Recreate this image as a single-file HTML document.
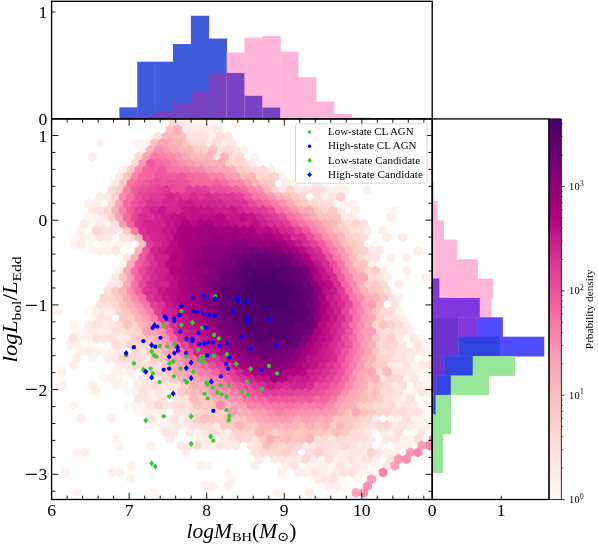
<!DOCTYPE html>
<html><head><meta charset="utf-8"><title>plot</title>
<style>html,body{margin:0;padding:0;background:#fff}svg{display:block}text{font-family:'Liberation Serif','DejaVu Serif',serif;fill:#000}</style></head>
<body><svg width="598" height="545" viewBox="0 0 598 545">
<rect width="598" height="545" fill="#fff"/>
<defs><linearGradient id="cbg" x1="0" y1="0" x2="0" y2="1"><stop offset="0.0000" stop-color="#49006a"/><stop offset="0.0312" stop-color="#54006d"/><stop offset="0.0625" stop-color="#600070"/><stop offset="0.0938" stop-color="#6c0173"/><stop offset="0.1250" stop-color="#790177"/><stop offset="0.1562" stop-color="#860179"/><stop offset="0.1875" stop-color="#93017a"/><stop offset="0.2188" stop-color="#a0017c"/><stop offset="0.2500" stop-color="#ad017e"/><stop offset="0.2812" stop-color="#b90d84"/><stop offset="0.3125" stop-color="#c4198a"/><stop offset="0.3438" stop-color="#d02690"/><stop offset="0.3750" stop-color="#dc3397"/><stop offset="0.4062" stop-color="#e34099"/><stop offset="0.4375" stop-color="#ea4d9c"/><stop offset="0.4688" stop-color="#f05a9e"/><stop offset="0.5000" stop-color="#f767a1"/><stop offset="0.5312" stop-color="#f875a6"/><stop offset="0.5625" stop-color="#f883ab"/><stop offset="0.5938" stop-color="#f991b0"/><stop offset="0.6250" stop-color="#fa9eb5"/><stop offset="0.6562" stop-color="#faa8b8"/><stop offset="0.6875" stop-color="#fbb2ba"/><stop offset="0.7188" stop-color="#fbbbbd"/><stop offset="0.7500" stop-color="#fcc5c0"/><stop offset="0.7812" stop-color="#fcccc7"/><stop offset="0.8125" stop-color="#fcd2ce"/><stop offset="0.8438" stop-color="#fdd9d6"/><stop offset="0.8750" stop-color="#fde0dd"/><stop offset="0.9062" stop-color="#fde6e2"/><stop offset="0.9375" stop-color="#feebe8"/><stop offset="0.9688" stop-color="#fef1ed"/><stop offset="1.0000" stop-color="#fff7f3"/></linearGradient><clipPath id="mc"><rect x="51.60" y="118.90" width="380.60" height="380.60"/></clipPath></defs><rect x="549.00" y="118.90" width="12.30" height="380.60" fill="url(#cbg)" stroke="#000" stroke-width="0.8"/><line x1="561.30" y1="499.50" x2="564.50" y2="499.50" stroke="#000" stroke-width="0.8"/><line x1="561.30" y1="468.10" x2="563.10" y2="468.10" stroke="#000" stroke-width="0.6"/><line x1="561.30" y1="449.74" x2="563.10" y2="449.74" stroke="#000" stroke-width="0.6"/><line x1="561.30" y1="436.71" x2="563.10" y2="436.71" stroke="#000" stroke-width="0.6"/><line x1="561.30" y1="426.60" x2="563.10" y2="426.60" stroke="#000" stroke-width="0.6"/><line x1="561.30" y1="418.34" x2="563.10" y2="418.34" stroke="#000" stroke-width="0.6"/><line x1="561.30" y1="411.36" x2="563.10" y2="411.36" stroke="#000" stroke-width="0.6"/><line x1="561.30" y1="405.31" x2="563.10" y2="405.31" stroke="#000" stroke-width="0.6"/><line x1="561.30" y1="399.97" x2="563.10" y2="399.97" stroke="#000" stroke-width="0.6"/><line x1="561.30" y1="395.20" x2="564.50" y2="395.20" stroke="#000" stroke-width="0.8"/><line x1="561.30" y1="363.80" x2="563.10" y2="363.80" stroke="#000" stroke-width="0.6"/><line x1="561.30" y1="345.44" x2="563.10" y2="345.44" stroke="#000" stroke-width="0.6"/><line x1="561.30" y1="332.41" x2="563.10" y2="332.41" stroke="#000" stroke-width="0.6"/><line x1="561.30" y1="322.30" x2="563.10" y2="322.30" stroke="#000" stroke-width="0.6"/><line x1="561.30" y1="314.04" x2="563.10" y2="314.04" stroke="#000" stroke-width="0.6"/><line x1="561.30" y1="307.06" x2="563.10" y2="307.06" stroke="#000" stroke-width="0.6"/><line x1="561.30" y1="301.01" x2="563.10" y2="301.01" stroke="#000" stroke-width="0.6"/><line x1="561.30" y1="295.67" x2="563.10" y2="295.67" stroke="#000" stroke-width="0.6"/><line x1="561.30" y1="290.90" x2="564.50" y2="290.90" stroke="#000" stroke-width="0.8"/><line x1="561.30" y1="259.50" x2="563.10" y2="259.50" stroke="#000" stroke-width="0.6"/><line x1="561.30" y1="241.14" x2="563.10" y2="241.14" stroke="#000" stroke-width="0.6"/><line x1="561.30" y1="228.11" x2="563.10" y2="228.11" stroke="#000" stroke-width="0.6"/><line x1="561.30" y1="218.00" x2="563.10" y2="218.00" stroke="#000" stroke-width="0.6"/><line x1="561.30" y1="209.74" x2="563.10" y2="209.74" stroke="#000" stroke-width="0.6"/><line x1="561.30" y1="202.76" x2="563.10" y2="202.76" stroke="#000" stroke-width="0.6"/><line x1="561.30" y1="196.71" x2="563.10" y2="196.71" stroke="#000" stroke-width="0.6"/><line x1="561.30" y1="191.37" x2="563.10" y2="191.37" stroke="#000" stroke-width="0.6"/><line x1="561.30" y1="186.60" x2="564.50" y2="186.60" stroke="#000" stroke-width="0.8"/><line x1="561.30" y1="155.20" x2="563.10" y2="155.20" stroke="#000" stroke-width="0.6"/><line x1="561.30" y1="136.84" x2="563.10" y2="136.84" stroke="#000" stroke-width="0.6"/><line x1="561.30" y1="123.81" x2="563.10" y2="123.81" stroke="#000" stroke-width="0.6"/>
<g clip-path="url(#mc)" stroke-width="1.1" stroke-linejoin="round"><path fill="#fff7f3" stroke="#fff7f3" d="M224.3 98.4l3.88 2.24v4.48l-3.88 2.24l-3.88 -2.24v-4.48zM158.4 105.1l3.88 2.24v4.48l-3.88 2.24l-3.88 -2.24v-4.48zM166.2 118.6l3.88 2.24v4.48l-3.88 2.24l-3.88 -2.24v-4.48zM204.9 118.6l3.88 2.24v4.48l-3.88 2.24l-3.88 -2.24v-4.48zM301.8 179.1l3.88 2.24v4.48l-3.88 2.24l-3.88 -2.24v-4.48zM340.5 179.1l3.88 2.24v4.48l-3.88 2.24l-3.88 -2.24v-4.48zM394.8 205.9l3.88 2.24v4.48l-3.88 2.24l-3.88 -2.24v-4.48zM42.2 212.7l3.88 2.24v4.48l-3.88 2.24l-3.88 -2.24v-4.48zM88.7 212.7l3.88 2.24v4.48l-3.88 2.24l-3.88 -2.24v-4.48zM92.5 219.4l3.88 2.24v4.48l-3.88 2.24l-3.88 -2.24v-4.48zM77.0 232.8l3.88 2.24v4.48l-3.88 2.24l-3.88 -2.24v-4.48zM104.2 239.5l3.88 2.24v4.48l-3.88 2.24l-3.88 -2.24v-4.48zM127.4 239.5l3.88 2.24v4.48l-3.88 2.24l-3.88 -2.24v-4.48zM375.4 239.5l3.88 2.24v4.48l-3.88 2.24l-3.88 -2.24v-4.48zM92.5 246.3l3.88 2.24v4.48l-3.88 2.24l-3.88 -2.24v-4.48zM379.3 259.7l3.88 2.24v4.48l-3.88 2.24l-3.88 -2.24v-4.48zM88.7 306.7l3.88 2.24v4.48l-3.88 2.24l-3.88 -2.24v-4.48zM398.6 306.7l3.88 2.24v4.48l-3.88 2.24l-3.88 -2.24v-4.48zM92.5 313.5l3.88 2.24v4.48l-3.88 2.24l-3.88 -2.24v-4.48zM73.2 320.2l3.88 2.24v4.48l-3.88 2.24l-3.88 -2.24v-4.48zM84.8 326.9l3.88 2.24v4.48l-3.88 2.24l-3.88 -2.24v-4.48zM100.3 326.9l3.88 2.24v4.48l-3.88 2.24l-3.88 -2.24v-4.48zM421.9 333.6l3.88 2.24v4.48l-3.88 2.24l-3.88 -2.24v-4.48zM84.8 340.3l3.88 2.24v4.48l-3.88 2.24l-3.88 -2.24v-4.48zM92.5 340.3l3.88 2.24v4.48l-3.88 2.24l-3.88 -2.24v-4.48zM425.8 340.3l3.88 2.24v4.48l-3.88 2.24l-3.88 -2.24v-4.48zM104.2 347.1l3.88 2.24v4.48l-3.88 2.24l-3.88 -2.24v-4.48zM92.5 353.8l3.88 2.24v4.48l-3.88 2.24l-3.88 -2.24v-4.48zM425.8 353.8l3.88 2.24v4.48l-3.88 2.24l-3.88 -2.24v-4.48zM414.1 360.5l3.88 2.24v4.48l-3.88 2.24l-3.88 -2.24v-4.48zM425.8 367.2l3.88 2.24v4.48l-3.88 2.24l-3.88 -2.24v-4.48zM119.7 373.9l3.88 2.24v4.48l-3.88 2.24l-3.88 -2.24v-4.48zM123.5 380.7l3.88 2.24v4.48l-3.88 2.24l-3.88 -2.24v-4.48zM127.4 387.4l3.88 2.24v4.48l-3.88 2.24l-3.88 -2.24v-4.48zM135.2 387.4l3.88 2.24v4.48l-3.88 2.24l-3.88 -2.24v-4.48zM406.4 387.4l3.88 2.24v4.48l-3.88 2.24l-3.88 -2.24v-4.48zM414.1 387.4l3.88 2.24v4.48l-3.88 2.24l-3.88 -2.24v-4.48zM170.0 394.1l3.88 2.24v4.48l-3.88 2.24l-3.88 -2.24v-4.48zM425.8 394.1l3.88 2.24v4.48l-3.88 2.24l-3.88 -2.24v-4.48zM433.5 394.1l3.88 2.24v4.48l-3.88 2.24l-3.88 -2.24v-4.48zM127.4 400.8l3.88 2.24v4.48l-3.88 2.24l-3.88 -2.24v-4.48zM135.2 400.8l3.88 2.24v4.48l-3.88 2.24l-3.88 -2.24v-4.48zM142.9 400.8l3.88 2.24v4.48l-3.88 2.24l-3.88 -2.24v-4.48zM429.6 400.8l3.88 2.24v4.48l-3.88 2.24l-3.88 -2.24v-4.48zM139.0 407.5l3.88 2.24v4.48l-3.88 2.24l-3.88 -2.24v-4.48zM425.8 407.5l3.88 2.24v4.48l-3.88 2.24l-3.88 -2.24v-4.48zM414.1 414.3l3.88 2.24v4.48l-3.88 2.24l-3.88 -2.24v-4.48zM429.6 414.3l3.88 2.24v4.48l-3.88 2.24l-3.88 -2.24v-4.48zM154.5 421.0l3.88 2.24v4.48l-3.88 2.24l-3.88 -2.24v-4.48zM193.3 434.4l3.88 2.24v4.48l-3.88 2.24l-3.88 -2.24v-4.48zM383.1 441.1l3.88 2.24v4.48l-3.88 2.24l-3.88 -2.24v-4.48zM414.1 441.1l3.88 2.24v4.48l-3.88 2.24l-3.88 -2.24v-4.48zM371.5 461.3l3.88 2.24v4.48l-3.88 2.24l-3.88 -2.24v-4.48zM328.9 468.0l3.88 2.24v4.48l-3.88 2.24l-3.88 -2.24v-4.48zM359.9 468.0l3.88 2.24v4.48l-3.88 2.24l-3.88 -2.24v-4.48zM367.6 468.0l3.88 2.24v4.48l-3.88 2.24l-3.88 -2.24v-4.48zM375.4 468.0l3.88 2.24v4.48l-3.88 2.24l-3.88 -2.24v-4.48zM340.5 474.7l3.88 2.24v4.48l-3.88 2.24l-3.88 -2.24v-4.48zM356.0 474.7l3.88 2.24v4.48l-3.88 2.24l-3.88 -2.24v-4.48zM344.4 481.5l3.88 2.24v4.48l-3.88 2.24l-3.88 -2.24v-4.48z"/><path fill="#fff6f2" stroke="#fff6f2" d="M166.2 105.1l3.88 2.24v4.48l-3.88 2.24l-3.88 -2.24v-4.48zM197.2 105.1l3.88 2.24v4.48l-3.88 2.24l-3.88 -2.24v-4.48zM88.7 239.5l3.88 2.24v4.48l-3.88 2.24l-3.88 -2.24v-4.48zM111.9 239.5l3.88 2.24v4.48l-3.88 2.24l-3.88 -2.24v-4.48zM77.0 326.9l3.88 2.24v4.48l-3.88 2.24l-3.88 -2.24v-4.48zM104.2 373.9l3.88 2.24v4.48l-3.88 2.24l-3.88 -2.24v-4.48zM135.2 373.9l3.88 2.24v4.48l-3.88 2.24l-3.88 -2.24v-4.48zM154.5 407.5l3.88 2.24v4.48l-3.88 2.24l-3.88 -2.24v-4.48zM433.5 407.5l3.88 2.24v4.48l-3.88 2.24l-3.88 -2.24v-4.48zM390.9 414.3l3.88 2.24v4.48l-3.88 2.24l-3.88 -2.24v-4.48zM336.6 454.6l3.88 2.24v4.48l-3.88 2.24l-3.88 -2.24v-4.48zM208.8 461.3l3.88 2.24v4.48l-3.88 2.24l-3.88 -2.24v-4.48zM332.8 461.3l3.88 2.24v4.48l-3.88 2.24l-3.88 -2.24v-4.48zM379.3 461.3l3.88 2.24v4.48l-3.88 2.24l-3.88 -2.24v-4.48zM154.5 488.2l3.88 2.24v4.48l-3.88 2.24l-3.88 -2.24v-4.48zM266.9 494.9l3.88 2.24v4.48l-3.88 2.24l-3.88 -2.24v-4.48zM328.9 494.9l3.88 2.24v4.48l-3.88 2.24l-3.88 -2.24v-4.48zM282.4 508.3l3.88 2.24v4.48l-3.88 2.24l-3.88 -2.24v-4.48z"/><path fill="#fff3f0" stroke="#fff3f0" d="M150.7 105.1l3.88 2.24v4.48l-3.88 2.24l-3.88 -2.24v-4.48zM212.7 118.6l3.88 2.24v4.48l-3.88 2.24l-3.88 -2.24v-4.48zM212.7 132.0l3.88 2.24v4.48l-3.88 2.24l-3.88 -2.24v-4.48zM100.3 138.7l3.88 2.24v4.48l-3.88 2.24l-3.88 -2.24v-4.48zM139.0 138.7l3.88 2.24v4.48l-3.88 2.24l-3.88 -2.24v-4.48zM146.8 138.7l3.88 2.24v4.48l-3.88 2.24l-3.88 -2.24v-4.48zM255.3 152.2l3.88 2.24v4.48l-3.88 2.24l-3.88 -2.24v-4.48zM429.6 158.9l3.88 2.24v4.48l-3.88 2.24l-3.88 -2.24v-4.48zM123.5 165.6l3.88 2.24v4.48l-3.88 2.24l-3.88 -2.24v-4.48zM282.4 172.3l3.88 2.24v4.48l-3.88 2.24l-3.88 -2.24v-4.48zM313.4 172.3l3.88 2.24v4.48l-3.88 2.24l-3.88 -2.24v-4.48zM367.6 185.8l3.88 2.24v4.48l-3.88 2.24l-3.88 -2.24v-4.48zM325.0 192.5l3.88 2.24v4.48l-3.88 2.24l-3.88 -2.24v-4.48zM344.4 199.2l3.88 2.24v4.48l-3.88 2.24l-3.88 -2.24v-4.48zM96.4 212.7l3.88 2.24v4.48l-3.88 2.24l-3.88 -2.24v-4.48zM84.8 232.8l3.88 2.24v4.48l-3.88 2.24l-3.88 -2.24v-4.48zM92.5 232.8l3.88 2.24v4.48l-3.88 2.24l-3.88 -2.24v-4.48zM73.2 239.5l3.88 2.24v4.48l-3.88 2.24l-3.88 -2.24v-4.48zM123.5 259.7l3.88 2.24v4.48l-3.88 2.24l-3.88 -2.24v-4.48zM410.3 326.9l3.88 2.24v4.48l-3.88 2.24l-3.88 -2.24v-4.48zM80.9 333.6l3.88 2.24v4.48l-3.88 2.24l-3.88 -2.24v-4.48zM88.7 333.6l3.88 2.24v4.48l-3.88 2.24l-3.88 -2.24v-4.48zM123.5 367.2l3.88 2.24v4.48l-3.88 2.24l-3.88 -2.24v-4.48zM418.0 367.2l3.88 2.24v4.48l-3.88 2.24l-3.88 -2.24v-4.48zM429.6 373.9l3.88 2.24v4.48l-3.88 2.24l-3.88 -2.24v-4.48zM425.8 380.7l3.88 2.24v4.48l-3.88 2.24l-3.88 -2.24v-4.48zM166.2 387.4l3.88 2.24v4.48l-3.88 2.24l-3.88 -2.24v-4.48zM158.4 414.3l3.88 2.24v4.48l-3.88 2.24l-3.88 -2.24v-4.48zM166.2 414.3l3.88 2.24v4.48l-3.88 2.24l-3.88 -2.24v-4.48zM421.9 414.3l3.88 2.24v4.48l-3.88 2.24l-3.88 -2.24v-4.48zM418.0 421.0l3.88 2.24v4.48l-3.88 2.24l-3.88 -2.24v-4.48zM197.2 427.7l3.88 2.24v4.48l-3.88 2.24l-3.88 -2.24v-4.48zM119.7 441.1l3.88 2.24v4.48l-3.88 2.24l-3.88 -2.24v-4.48zM212.7 441.1l3.88 2.24v4.48l-3.88 2.24l-3.88 -2.24v-4.48zM398.6 441.1l3.88 2.24v4.48l-3.88 2.24l-3.88 -2.24v-4.48zM321.1 454.6l3.88 2.24v4.48l-3.88 2.24l-3.88 -2.24v-4.48zM309.5 461.3l3.88 2.24v4.48l-3.88 2.24l-3.88 -2.24v-4.48zM228.2 468.0l3.88 2.24v4.48l-3.88 2.24l-3.88 -2.24v-4.48zM282.4 468.0l3.88 2.24v4.48l-3.88 2.24l-3.88 -2.24v-4.48zM232.0 474.7l3.88 2.24v4.48l-3.88 2.24l-3.88 -2.24v-4.48zM332.8 501.6l3.88 2.24v4.48l-3.88 2.24l-3.88 -2.24v-4.48z"/><path fill="#fef1ed" stroke="#fef1ed" d="M208.8 98.4l3.88 2.24v4.48l-3.88 2.24l-3.88 -2.24v-4.48zM170.0 111.9l3.88 2.24v4.48l-3.88 2.24l-3.88 -2.24v-4.48zM177.8 111.9l3.88 2.24v4.48l-3.88 2.24l-3.88 -2.24v-4.48zM185.5 111.9l3.88 2.24v4.48l-3.88 2.24l-3.88 -2.24v-4.48zM193.3 111.9l3.88 2.24v4.48l-3.88 2.24l-3.88 -2.24v-4.48zM235.9 118.6l3.88 2.24v4.48l-3.88 2.24l-3.88 -2.24v-4.48zM142.9 145.5l3.88 2.24v4.48l-3.88 2.24l-3.88 -2.24v-4.48zM243.7 145.5l3.88 2.24v4.48l-3.88 2.24l-3.88 -2.24v-4.48zM92.5 152.2l3.88 2.24v4.48l-3.88 2.24l-3.88 -2.24v-4.48zM348.3 165.6l3.88 2.24v4.48l-3.88 2.24l-3.88 -2.24v-4.48zM336.6 185.8l3.88 2.24v4.48l-3.88 2.24l-3.88 -2.24v-4.48zM88.7 199.2l3.88 2.24v4.48l-3.88 2.24l-3.88 -2.24v-4.48zM352.1 199.2l3.88 2.24v4.48l-3.88 2.24l-3.88 -2.24v-4.48zM108.0 219.4l3.88 2.24v4.48l-3.88 2.24l-3.88 -2.24v-4.48zM383.1 226.1l3.88 2.24v4.48l-3.88 2.24l-3.88 -2.24v-4.48zM108.0 246.3l3.88 2.24v4.48l-3.88 2.24l-3.88 -2.24v-4.48zM371.5 259.7l3.88 2.24v4.48l-3.88 2.24l-3.88 -2.24v-4.48zM119.7 266.4l3.88 2.24v4.48l-3.88 2.24l-3.88 -2.24v-4.48zM387.0 273.1l3.88 2.24v4.48l-3.88 2.24l-3.88 -2.24v-4.48zM398.6 293.3l3.88 2.24v4.48l-3.88 2.24l-3.88 -2.24v-4.48zM34.4 306.7l3.88 2.24v4.48l-3.88 2.24l-3.88 -2.24v-4.48zM406.4 320.2l3.88 2.24v4.48l-3.88 2.24l-3.88 -2.24v-4.48zM77.0 340.3l3.88 2.24v4.48l-3.88 2.24l-3.88 -2.24v-4.48zM429.6 347.1l3.88 2.24v4.48l-3.88 2.24l-3.88 -2.24v-4.48zM398.6 360.5l3.88 2.24v4.48l-3.88 2.24l-3.88 -2.24v-4.48zM61.5 367.2l3.88 2.24v4.48l-3.88 2.24l-3.88 -2.24v-4.48zM115.8 367.2l3.88 2.24v4.48l-3.88 2.24l-3.88 -2.24v-4.48zM406.4 373.9l3.88 2.24v4.48l-3.88 2.24l-3.88 -2.24v-4.48zM61.5 380.7l3.88 2.24v4.48l-3.88 2.24l-3.88 -2.24v-4.48zM115.8 380.7l3.88 2.24v4.48l-3.88 2.24l-3.88 -2.24v-4.48zM96.4 387.4l3.88 2.24v4.48l-3.88 2.24l-3.88 -2.24v-4.48zM150.7 387.4l3.88 2.24v4.48l-3.88 2.24l-3.88 -2.24v-4.48zM402.5 394.1l3.88 2.24v4.48l-3.88 2.24l-3.88 -2.24v-4.48zM73.2 400.8l3.88 2.24v4.48l-3.88 2.24l-3.88 -2.24v-4.48zM414.1 400.8l3.88 2.24v4.48l-3.88 2.24l-3.88 -2.24v-4.48zM80.9 414.3l3.88 2.24v4.48l-3.88 2.24l-3.88 -2.24v-4.48zM398.6 414.3l3.88 2.24v4.48l-3.88 2.24l-3.88 -2.24v-4.48zM162.3 421.0l3.88 2.24v4.48l-3.88 2.24l-3.88 -2.24v-4.48zM170.0 421.0l3.88 2.24v4.48l-3.88 2.24l-3.88 -2.24v-4.48zM390.9 427.7l3.88 2.24v4.48l-3.88 2.24l-3.88 -2.24v-4.48zM115.8 434.4l3.88 2.24v4.48l-3.88 2.24l-3.88 -2.24v-4.48zM216.5 434.4l3.88 2.24v4.48l-3.88 2.24l-3.88 -2.24v-4.48zM402.5 434.4l3.88 2.24v4.48l-3.88 2.24l-3.88 -2.24v-4.48zM410.3 434.4l3.88 2.24v4.48l-3.88 2.24l-3.88 -2.24v-4.48zM425.8 434.4l3.88 2.24v4.48l-3.88 2.24l-3.88 -2.24v-4.48zM150.7 441.1l3.88 2.24v4.48l-3.88 2.24l-3.88 -2.24v-4.48zM204.9 441.1l3.88 2.24v4.48l-3.88 2.24l-3.88 -2.24v-4.48zM406.4 441.1l3.88 2.24v4.48l-3.88 2.24l-3.88 -2.24v-4.48zM363.8 447.9l3.88 2.24v4.48l-3.88 2.24l-3.88 -2.24v-4.48zM387.0 447.9l3.88 2.24v4.48l-3.88 2.24l-3.88 -2.24v-4.48zM359.9 454.6l3.88 2.24v4.48l-3.88 2.24l-3.88 -2.24v-4.48zM201.0 461.3l3.88 2.24v4.48l-3.88 2.24l-3.88 -2.24v-4.48zM255.3 461.3l3.88 2.24v4.48l-3.88 2.24l-3.88 -2.24v-4.48zM317.3 461.3l3.88 2.24v4.48l-3.88 2.24l-3.88 -2.24v-4.48zM325.0 461.3l3.88 2.24v4.48l-3.88 2.24l-3.88 -2.24v-4.48zM348.3 461.3l3.88 2.24v4.48l-3.88 2.24l-3.88 -2.24v-4.48zM321.1 468.0l3.88 2.24v4.48l-3.88 2.24l-3.88 -2.24v-4.48zM212.7 481.5l3.88 2.24v4.48l-3.88 2.24l-3.88 -2.24v-4.48zM336.6 481.5l3.88 2.24v4.48l-3.88 2.24l-3.88 -2.24v-4.48zM278.5 488.2l3.88 2.24v4.48l-3.88 2.24l-3.88 -2.24v-4.48zM65.4 468.0l3.88 2.24v4.48l-3.88 2.24l-3.88 -2.24v-4.48zM77.0 488.2l3.88 2.24v4.48l-3.88 2.24l-3.88 -2.24v-4.48zM111.9 468.0l3.88 2.24v4.48l-3.88 2.24l-3.88 -2.24v-4.48zM119.7 468.0l3.88 2.24v4.48l-3.88 2.24l-3.88 -2.24v-4.48zM77.0 447.9l3.88 2.24v4.48l-3.88 2.24l-3.88 -2.24v-4.48zM84.8 447.9l3.88 2.24v4.48l-3.88 2.24l-3.88 -2.24v-4.48zM131.3 461.3l3.88 2.24v4.48l-3.88 2.24l-3.88 -2.24v-4.48zM131.3 474.7l3.88 2.24v4.48l-3.88 2.24l-3.88 -2.24v-4.48z"/><path fill="#fef0ec" stroke="#fef0ec" d="M154.5 98.4l3.88 2.24v4.48l-3.88 2.24l-3.88 -2.24v-4.48zM208.8 111.9l3.88 2.24v4.48l-3.88 2.24l-3.88 -2.24v-4.48zM197.2 118.6l3.88 2.24v4.48l-3.88 2.24l-3.88 -2.24v-4.48zM208.8 125.3l3.88 2.24v4.48l-3.88 2.24l-3.88 -2.24v-4.48zM294.0 179.1l3.88 2.24v4.48l-3.88 2.24l-3.88 -2.24v-4.48zM328.9 185.8l3.88 2.24v4.48l-3.88 2.24l-3.88 -2.24v-4.48zM344.4 185.8l3.88 2.24v4.48l-3.88 2.24l-3.88 -2.24v-4.48zM96.4 199.2l3.88 2.24v4.48l-3.88 2.24l-3.88 -2.24v-4.48zM80.9 226.1l3.88 2.24v4.48l-3.88 2.24l-3.88 -2.24v-4.48zM367.6 226.1l3.88 2.24v4.48l-3.88 2.24l-3.88 -2.24v-4.48zM119.7 239.5l3.88 2.24v4.48l-3.88 2.24l-3.88 -2.24v-4.48zM100.3 246.3l3.88 2.24v4.48l-3.88 2.24l-3.88 -2.24v-4.48zM390.9 253.0l3.88 2.24v4.48l-3.88 2.24l-3.88 -2.24v-4.48zM406.4 253.0l3.88 2.24v4.48l-3.88 2.24l-3.88 -2.24v-4.48zM441.3 259.7l3.88 2.24v4.48l-3.88 2.24l-3.88 -2.24v-4.48zM406.4 266.4l3.88 2.24v4.48l-3.88 2.24l-3.88 -2.24v-4.48zM57.7 306.7l3.88 2.24v4.48l-3.88 2.24l-3.88 -2.24v-4.48zM96.4 306.7l3.88 2.24v4.48l-3.88 2.24l-3.88 -2.24v-4.48zM402.5 313.5l3.88 2.24v4.48l-3.88 2.24l-3.88 -2.24v-4.48zM80.9 347.1l3.88 2.24v4.48l-3.88 2.24l-3.88 -2.24v-4.48zM96.4 347.1l3.88 2.24v4.48l-3.88 2.24l-3.88 -2.24v-4.48zM111.9 347.1l3.88 2.24v4.48l-3.88 2.24l-3.88 -2.24v-4.48zM73.2 360.5l3.88 2.24v4.48l-3.88 2.24l-3.88 -2.24v-4.48zM111.9 373.9l3.88 2.24v4.48l-3.88 2.24l-3.88 -2.24v-4.48zM429.6 387.4l3.88 2.24v4.48l-3.88 2.24l-3.88 -2.24v-4.48zM146.8 407.5l3.88 2.24v4.48l-3.88 2.24l-3.88 -2.24v-4.48zM111.9 414.3l3.88 2.24v4.48l-3.88 2.24l-3.88 -2.24v-4.48zM181.7 414.3l3.88 2.24v4.48l-3.88 2.24l-3.88 -2.24v-4.48zM375.4 414.3l3.88 2.24v4.48l-3.88 2.24l-3.88 -2.24v-4.48zM425.8 421.0l3.88 2.24v4.48l-3.88 2.24l-3.88 -2.24v-4.48zM170.0 434.4l3.88 2.24v4.48l-3.88 2.24l-3.88 -2.24v-4.48zM201.0 434.4l3.88 2.24v4.48l-3.88 2.24l-3.88 -2.24v-4.48zM340.5 447.9l3.88 2.24v4.48l-3.88 2.24l-3.88 -2.24v-4.48zM348.3 447.9l3.88 2.24v4.48l-3.88 2.24l-3.88 -2.24v-4.48zM394.8 447.9l3.88 2.24v4.48l-3.88 2.24l-3.88 -2.24v-4.48zM363.8 461.3l3.88 2.24v4.48l-3.88 2.24l-3.88 -2.24v-4.48zM297.9 468.0l3.88 2.24v4.48l-3.88 2.24l-3.88 -2.24v-4.48zM42.2 481.5l3.88 2.24v4.48l-3.88 2.24l-3.88 -2.24v-4.48zM204.9 481.5l3.88 2.24v4.48l-3.88 2.24l-3.88 -2.24v-4.48zM228.2 481.5l3.88 2.24v4.48l-3.88 2.24l-3.88 -2.24v-4.48zM216.5 501.6l3.88 2.24v4.48l-3.88 2.24l-3.88 -2.24v-4.48zM309.5 501.6l3.88 2.24v4.48l-3.88 2.24l-3.88 -2.24v-4.48z"/><path fill="#feeeea" stroke="#feeeea" d="M197.2 91.7l3.88 2.24v4.48l-3.88 2.24l-3.88 -2.24v-4.48zM181.7 105.1l3.88 2.24v4.48l-3.88 2.24l-3.88 -2.24v-4.48zM220.4 105.1l3.88 2.24v4.48l-3.88 2.24l-3.88 -2.24v-4.48zM162.3 111.9l3.88 2.24v4.48l-3.88 2.24l-3.88 -2.24v-4.48zM189.4 118.6l3.88 2.24v4.48l-3.88 2.24l-3.88 -2.24v-4.48zM185.5 125.3l3.88 2.24v4.48l-3.88 2.24l-3.88 -2.24v-4.48zM208.8 138.7l3.88 2.24v4.48l-3.88 2.24l-3.88 -2.24v-4.48zM224.3 138.7l3.88 2.24v4.48l-3.88 2.24l-3.88 -2.24v-4.48zM251.4 158.9l3.88 2.24v4.48l-3.88 2.24l-3.88 -2.24v-4.48zM108.0 192.5l3.88 2.24v4.48l-3.88 2.24l-3.88 -2.24v-4.48zM356.0 205.9l3.88 2.24v4.48l-3.88 2.24l-3.88 -2.24v-4.48zM344.4 212.7l3.88 2.24v4.48l-3.88 2.24l-3.88 -2.24v-4.48zM390.9 212.7l3.88 2.24v4.48l-3.88 2.24l-3.88 -2.24v-4.48zM119.7 226.1l3.88 2.24v4.48l-3.88 2.24l-3.88 -2.24v-4.48zM418.0 246.3l3.88 2.24v4.48l-3.88 2.24l-3.88 -2.24v-4.48zM425.8 273.1l3.88 2.24v4.48l-3.88 2.24l-3.88 -2.24v-4.48zM88.7 320.2l3.88 2.24v4.48l-3.88 2.24l-3.88 -2.24v-4.48zM69.3 340.3l3.88 2.24v4.48l-3.88 2.24l-3.88 -2.24v-4.48zM77.0 353.8l3.88 2.24v4.48l-3.88 2.24l-3.88 -2.24v-4.48zM108.0 353.8l3.88 2.24v4.48l-3.88 2.24l-3.88 -2.24v-4.48zM146.8 353.8l3.88 2.24v4.48l-3.88 2.24l-3.88 -2.24v-4.48zM410.3 353.8l3.88 2.24v4.48l-3.88 2.24l-3.88 -2.24v-4.48zM131.3 367.2l3.88 2.24v4.48l-3.88 2.24l-3.88 -2.24v-4.48zM410.3 367.2l3.88 2.24v4.48l-3.88 2.24l-3.88 -2.24v-4.48zM92.5 380.7l3.88 2.24v4.48l-3.88 2.24l-3.88 -2.24v-4.48zM139.0 380.7l3.88 2.24v4.48l-3.88 2.24l-3.88 -2.24v-4.48zM154.5 394.1l3.88 2.24v4.48l-3.88 2.24l-3.88 -2.24v-4.48zM185.5 421.0l3.88 2.24v4.48l-3.88 2.24l-3.88 -2.24v-4.48zM433.5 421.0l3.88 2.24v4.48l-3.88 2.24l-3.88 -2.24v-4.48zM228.2 427.7l3.88 2.24v4.48l-3.88 2.24l-3.88 -2.24v-4.48zM224.3 434.4l3.88 2.24v4.48l-3.88 2.24l-3.88 -2.24v-4.48zM185.5 447.9l3.88 2.24v4.48l-3.88 2.24l-3.88 -2.24v-4.48zM290.1 454.6l3.88 2.24v4.48l-3.88 2.24l-3.88 -2.24v-4.48zM375.4 454.6l3.88 2.24v4.48l-3.88 2.24l-3.88 -2.24v-4.48zM286.3 461.3l3.88 2.24v4.48l-3.88 2.24l-3.88 -2.24v-4.48zM305.6 468.0l3.88 2.24v4.48l-3.88 2.24l-3.88 -2.24v-4.48zM317.3 474.7l3.88 2.24v4.48l-3.88 2.24l-3.88 -2.24v-4.48zM328.9 481.5l3.88 2.24v4.48l-3.88 2.24l-3.88 -2.24v-4.48zM309.5 488.2l3.88 2.24v4.48l-3.88 2.24l-3.88 -2.24v-4.48zM123.5 501.6l3.88 2.24v4.48l-3.88 2.24l-3.88 -2.24v-4.48zM224.3 501.6l3.88 2.24v4.48l-3.88 2.24l-3.88 -2.24v-4.48z"/><path fill="#feebe8" stroke="#feebe8" d="M201.0 125.3l3.88 2.24v4.48l-3.88 2.24l-3.88 -2.24v-4.48zM297.9 185.8l3.88 2.24v4.48l-3.88 2.24l-3.88 -2.24v-4.48zM104.2 212.7l3.88 2.24v4.48l-3.88 2.24l-3.88 -2.24v-4.48zM84.8 219.4l3.88 2.24v4.48l-3.88 2.24l-3.88 -2.24v-4.48zM100.3 219.4l3.88 2.24v4.48l-3.88 2.24l-3.88 -2.24v-4.48zM387.0 232.8l3.88 2.24v4.48l-3.88 2.24l-3.88 -2.24v-4.48zM402.5 232.8l3.88 2.24v4.48l-3.88 2.24l-3.88 -2.24v-4.48zM80.9 239.5l3.88 2.24v4.48l-3.88 2.24l-3.88 -2.24v-4.48zM371.5 246.3l3.88 2.24v4.48l-3.88 2.24l-3.88 -2.24v-4.48zM379.3 246.3l3.88 2.24v4.48l-3.88 2.24l-3.88 -2.24v-4.48zM115.8 273.1l3.88 2.24v4.48l-3.88 2.24l-3.88 -2.24v-4.48zM398.6 279.9l3.88 2.24v4.48l-3.88 2.24l-3.88 -2.24v-4.48zM104.2 306.7l3.88 2.24v4.48l-3.88 2.24l-3.88 -2.24v-4.48zM111.9 306.7l3.88 2.24v4.48l-3.88 2.24l-3.88 -2.24v-4.48zM119.7 333.6l3.88 2.24v4.48l-3.88 2.24l-3.88 -2.24v-4.48zM123.5 340.3l3.88 2.24v4.48l-3.88 2.24l-3.88 -2.24v-4.48zM88.7 347.1l3.88 2.24v4.48l-3.88 2.24l-3.88 -2.24v-4.48zM390.9 360.5l3.88 2.24v4.48l-3.88 2.24l-3.88 -2.24v-4.48zM142.9 373.9l3.88 2.24v4.48l-3.88 2.24l-3.88 -2.24v-4.48zM150.7 373.9l3.88 2.24v4.48l-3.88 2.24l-3.88 -2.24v-4.48zM398.6 400.8l3.88 2.24v4.48l-3.88 2.24l-3.88 -2.24v-4.48zM177.8 421.0l3.88 2.24v4.48l-3.88 2.24l-3.88 -2.24v-4.48zM410.3 421.0l3.88 2.24v4.48l-3.88 2.24l-3.88 -2.24v-4.48zM173.9 427.7l3.88 2.24v4.48l-3.88 2.24l-3.88 -2.24v-4.48zM189.4 427.7l3.88 2.24v4.48l-3.88 2.24l-3.88 -2.24v-4.48zM305.6 441.1l3.88 2.24v4.48l-3.88 2.24l-3.88 -2.24v-4.48zM359.9 441.1l3.88 2.24v4.48l-3.88 2.24l-3.88 -2.24v-4.48zM379.3 447.9l3.88 2.24v4.48l-3.88 2.24l-3.88 -2.24v-4.48zM259.1 454.6l3.88 2.24v4.48l-3.88 2.24l-3.88 -2.24v-4.48zM313.4 454.6l3.88 2.24v4.48l-3.88 2.24l-3.88 -2.24v-4.48zM344.4 454.6l3.88 2.24v4.48l-3.88 2.24l-3.88 -2.24v-4.48zM387.0 461.3l3.88 2.24v4.48l-3.88 2.24l-3.88 -2.24v-4.48z"/><path fill="#feeae7" stroke="#feeae7" d="M193.3 125.3l3.88 2.24v4.48l-3.88 2.24l-3.88 -2.24v-4.48zM270.8 165.6l3.88 2.24v4.48l-3.88 2.24l-3.88 -2.24v-4.48zM119.7 172.3l3.88 2.24v4.48l-3.88 2.24l-3.88 -2.24v-4.48zM115.8 179.1l3.88 2.24v4.48l-3.88 2.24l-3.88 -2.24v-4.48zM286.3 179.1l3.88 2.24v4.48l-3.88 2.24l-3.88 -2.24v-4.48zM100.3 192.5l3.88 2.24v4.48l-3.88 2.24l-3.88 -2.24v-4.48zM92.5 205.9l3.88 2.24v4.48l-3.88 2.24l-3.88 -2.24v-4.48zM383.1 266.4l3.88 2.24v4.48l-3.88 2.24l-3.88 -2.24v-4.48zM104.2 320.2l3.88 2.24v4.48l-3.88 2.24l-3.88 -2.24v-4.48zM92.5 326.9l3.88 2.24v4.48l-3.88 2.24l-3.88 -2.24v-4.48zM108.0 326.9l3.88 2.24v4.48l-3.88 2.24l-3.88 -2.24v-4.48zM398.6 333.6l3.88 2.24v4.48l-3.88 2.24l-3.88 -2.24v-4.48zM402.5 340.3l3.88 2.24v4.48l-3.88 2.24l-3.88 -2.24v-4.48zM421.9 347.1l3.88 2.24v4.48l-3.88 2.24l-3.88 -2.24v-4.48zM119.7 360.5l3.88 2.24v4.48l-3.88 2.24l-3.88 -2.24v-4.48zM421.9 360.5l3.88 2.24v4.48l-3.88 2.24l-3.88 -2.24v-4.48zM394.8 380.7l3.88 2.24v4.48l-3.88 2.24l-3.88 -2.24v-4.48zM162.3 407.5l3.88 2.24v4.48l-3.88 2.24l-3.88 -2.24v-4.48zM394.8 421.0l3.88 2.24v4.48l-3.88 2.24l-3.88 -2.24v-4.48zM383.1 427.7l3.88 2.24v4.48l-3.88 2.24l-3.88 -2.24v-4.48zM208.8 434.4l3.88 2.24v4.48l-3.88 2.24l-3.88 -2.24v-4.48zM371.5 434.4l3.88 2.24v4.48l-3.88 2.24l-3.88 -2.24v-4.48zM235.9 441.1l3.88 2.24v4.48l-3.88 2.24l-3.88 -2.24v-4.48zM274.6 454.6l3.88 2.24v4.48l-3.88 2.24l-3.88 -2.24v-4.48zM356.0 461.3l3.88 2.24v4.48l-3.88 2.24l-3.88 -2.24v-4.48zM313.4 468.0l3.88 2.24v4.48l-3.88 2.24l-3.88 -2.24v-4.48zM336.6 468.0l3.88 2.24v4.48l-3.88 2.24l-3.88 -2.24v-4.48z"/><path fill="#fee8e5" stroke="#fee8e5" d="M181.7 118.6l3.88 2.24v4.48l-3.88 2.24l-3.88 -2.24v-4.48zM216.5 125.3l3.88 2.24v4.48l-3.88 2.24l-3.88 -2.24v-4.48zM204.9 132.0l3.88 2.24v4.48l-3.88 2.24l-3.88 -2.24v-4.48zM228.2 132.0l3.88 2.24v4.48l-3.88 2.24l-3.88 -2.24v-4.48zM232.0 138.7l3.88 2.24v4.48l-3.88 2.24l-3.88 -2.24v-4.48zM317.3 179.1l3.88 2.24v4.48l-3.88 2.24l-3.88 -2.24v-4.48zM340.5 205.9l3.88 2.24v4.48l-3.88 2.24l-3.88 -2.24v-4.48zM352.1 212.7l3.88 2.24v4.48l-3.88 2.24l-3.88 -2.24v-4.48zM108.0 232.8l3.88 2.24v4.48l-3.88 2.24l-3.88 -2.24v-4.48zM123.5 232.8l3.88 2.24v4.48l-3.88 2.24l-3.88 -2.24v-4.48zM111.9 279.9l3.88 2.24v4.48l-3.88 2.24l-3.88 -2.24v-4.48zM108.0 313.5l3.88 2.24v4.48l-3.88 2.24l-3.88 -2.24v-4.48zM104.2 333.6l3.88 2.24v4.48l-3.88 2.24l-3.88 -2.24v-4.48zM127.4 333.6l3.88 2.24v4.48l-3.88 2.24l-3.88 -2.24v-4.48zM414.1 333.6l3.88 2.24v4.48l-3.88 2.24l-3.88 -2.24v-4.48zM418.0 340.3l3.88 2.24v4.48l-3.88 2.24l-3.88 -2.24v-4.48zM119.7 347.1l3.88 2.24v4.48l-3.88 2.24l-3.88 -2.24v-4.48zM142.9 347.1l3.88 2.24v4.48l-3.88 2.24l-3.88 -2.24v-4.48zM414.1 347.1l3.88 2.24v4.48l-3.88 2.24l-3.88 -2.24v-4.48zM115.8 353.8l3.88 2.24v4.48l-3.88 2.24l-3.88 -2.24v-4.48zM127.4 360.5l3.88 2.24v4.48l-3.88 2.24l-3.88 -2.24v-4.48zM414.1 373.9l3.88 2.24v4.48l-3.88 2.24l-3.88 -2.24v-4.48zM162.3 380.7l3.88 2.24v4.48l-3.88 2.24l-3.88 -2.24v-4.48zM170.0 380.7l3.88 2.24v4.48l-3.88 2.24l-3.88 -2.24v-4.48zM418.0 380.7l3.88 2.24v4.48l-3.88 2.24l-3.88 -2.24v-4.48zM173.9 387.4l3.88 2.24v4.48l-3.88 2.24l-3.88 -2.24v-4.48zM146.8 394.1l3.88 2.24v4.48l-3.88 2.24l-3.88 -2.24v-4.48zM394.8 394.1l3.88 2.24v4.48l-3.88 2.24l-3.88 -2.24v-4.48zM185.5 407.5l3.88 2.24v4.48l-3.88 2.24l-3.88 -2.24v-4.48zM216.5 421.0l3.88 2.24v4.48l-3.88 2.24l-3.88 -2.24v-4.48zM220.4 427.7l3.88 2.24v4.48l-3.88 2.24l-3.88 -2.24v-4.48zM367.6 427.7l3.88 2.24v4.48l-3.88 2.24l-3.88 -2.24v-4.48zM421.9 427.7l3.88 2.24v4.48l-3.88 2.24l-3.88 -2.24v-4.48zM181.7 441.1l3.88 2.24v4.48l-3.88 2.24l-3.88 -2.24v-4.48zM189.4 441.1l3.88 2.24v4.48l-3.88 2.24l-3.88 -2.24v-4.48zM228.2 441.1l3.88 2.24v4.48l-3.88 2.24l-3.88 -2.24v-4.48zM313.4 441.1l3.88 2.24v4.48l-3.88 2.24l-3.88 -2.24v-4.48zM367.6 441.1l3.88 2.24v4.48l-3.88 2.24l-3.88 -2.24v-4.48zM325.0 474.7l3.88 2.24v4.48l-3.88 2.24l-3.88 -2.24v-4.48z"/><path fill="#fde6e2" stroke="#fde6e2" d="M235.9 145.5l3.88 2.24v4.48l-3.88 2.24l-3.88 -2.24v-4.48zM216.5 152.2l3.88 2.24v4.48l-3.88 2.24l-3.88 -2.24v-4.48zM332.8 192.5l3.88 2.24v4.48l-3.88 2.24l-3.88 -2.24v-4.48zM115.8 246.3l3.88 2.24v4.48l-3.88 2.24l-3.88 -2.24v-4.48zM127.4 253.0l3.88 2.24v4.48l-3.88 2.24l-3.88 -2.24v-4.48zM375.4 253.0l3.88 2.24v4.48l-3.88 2.24l-3.88 -2.24v-4.48zM119.7 279.9l3.88 2.24v4.48l-3.88 2.24l-3.88 -2.24v-4.48zM390.9 293.3l3.88 2.24v4.48l-3.88 2.24l-3.88 -2.24v-4.48zM394.8 300.0l3.88 2.24v4.48l-3.88 2.24l-3.88 -2.24v-4.48zM394.8 313.5l3.88 2.24v4.48l-3.88 2.24l-3.88 -2.24v-4.48zM111.9 320.2l3.88 2.24v4.48l-3.88 2.24l-3.88 -2.24v-4.48zM387.0 326.9l3.88 2.24v4.48l-3.88 2.24l-3.88 -2.24v-4.48zM406.4 347.1l3.88 2.24v4.48l-3.88 2.24l-3.88 -2.24v-4.48zM394.8 367.2l3.88 2.24v4.48l-3.88 2.24l-3.88 -2.24v-4.48zM158.4 373.9l3.88 2.24v4.48l-3.88 2.24l-3.88 -2.24v-4.48zM383.1 373.9l3.88 2.24v4.48l-3.88 2.24l-3.88 -2.24v-4.48zM146.8 380.7l3.88 2.24v4.48l-3.88 2.24l-3.88 -2.24v-4.48zM158.4 387.4l3.88 2.24v4.48l-3.88 2.24l-3.88 -2.24v-4.48zM421.9 387.4l3.88 2.24v4.48l-3.88 2.24l-3.88 -2.24v-4.48zM177.8 394.1l3.88 2.24v4.48l-3.88 2.24l-3.88 -2.24v-4.48zM410.3 394.1l3.88 2.24v4.48l-3.88 2.24l-3.88 -2.24v-4.48zM150.7 400.8l3.88 2.24v4.48l-3.88 2.24l-3.88 -2.24v-4.48zM166.2 400.8l3.88 2.24v4.48l-3.88 2.24l-3.88 -2.24v-4.48zM406.4 400.8l3.88 2.24v4.48l-3.88 2.24l-3.88 -2.24v-4.48zM166.2 427.7l3.88 2.24v4.48l-3.88 2.24l-3.88 -2.24v-4.48zM204.9 427.7l3.88 2.24v4.48l-3.88 2.24l-3.88 -2.24v-4.48zM232.0 434.4l3.88 2.24v4.48l-3.88 2.24l-3.88 -2.24v-4.48zM332.8 434.4l3.88 2.24v4.48l-3.88 2.24l-3.88 -2.24v-4.48zM387.0 434.4l3.88 2.24v4.48l-3.88 2.24l-3.88 -2.24v-4.48zM220.4 441.1l3.88 2.24v4.48l-3.88 2.24l-3.88 -2.24v-4.48zM251.4 441.1l3.88 2.24v4.48l-3.88 2.24l-3.88 -2.24v-4.48zM336.6 441.1l3.88 2.24v4.48l-3.88 2.24l-3.88 -2.24v-4.48zM282.4 454.6l3.88 2.24v4.48l-3.88 2.24l-3.88 -2.24v-4.48zM297.9 454.6l3.88 2.24v4.48l-3.88 2.24l-3.88 -2.24v-4.48zM352.1 454.6l3.88 2.24v4.48l-3.88 2.24l-3.88 -2.24v-4.48zM390.9 454.6l3.88 2.24v4.48l-3.88 2.24l-3.88 -2.24v-4.48zM344.4 468.0l3.88 2.24v4.48l-3.88 2.24l-3.88 -2.24v-4.48z"/><path fill="#fde4e1" stroke="#fde4e1" d="M282.4 185.8l3.88 2.24v4.48l-3.88 2.24l-3.88 -2.24v-4.48zM305.6 185.8l3.88 2.24v4.48l-3.88 2.24l-3.88 -2.24v-4.48zM100.3 232.8l3.88 2.24v4.48l-3.88 2.24l-3.88 -2.24v-4.48zM108.0 300.0l3.88 2.24v4.48l-3.88 2.24l-3.88 -2.24v-4.48zM100.3 313.5l3.88 2.24v4.48l-3.88 2.24l-3.88 -2.24v-4.48zM123.5 326.9l3.88 2.24v4.48l-3.88 2.24l-3.88 -2.24v-4.48zM394.8 326.9l3.88 2.24v4.48l-3.88 2.24l-3.88 -2.24v-4.48zM402.5 326.9l3.88 2.24v4.48l-3.88 2.24l-3.88 -2.24v-4.48zM73.2 333.6l3.88 2.24v4.48l-3.88 2.24l-3.88 -2.24v-4.48zM398.6 347.1l3.88 2.24v4.48l-3.88 2.24l-3.88 -2.24v-4.48zM394.8 353.8l3.88 2.24v4.48l-3.88 2.24l-3.88 -2.24v-4.48zM406.4 360.5l3.88 2.24v4.48l-3.88 2.24l-3.88 -2.24v-4.48zM429.6 360.5l3.88 2.24v4.48l-3.88 2.24l-3.88 -2.24v-4.48zM402.5 367.2l3.88 2.24v4.48l-3.88 2.24l-3.88 -2.24v-4.48zM177.8 380.7l3.88 2.24v4.48l-3.88 2.24l-3.88 -2.24v-4.48zM139.0 394.1l3.88 2.24v4.48l-3.88 2.24l-3.88 -2.24v-4.48zM162.3 394.1l3.88 2.24v4.48l-3.88 2.24l-3.88 -2.24v-4.48zM185.5 394.1l3.88 2.24v4.48l-3.88 2.24l-3.88 -2.24v-4.48zM352.1 441.1l3.88 2.24v4.48l-3.88 2.24l-3.88 -2.24v-4.48zM255.3 447.9l3.88 2.24v4.48l-3.88 2.24l-3.88 -2.24v-4.48zM332.8 447.9l3.88 2.24v4.48l-3.88 2.24l-3.88 -2.24v-4.48zM356.0 447.9l3.88 2.24v4.48l-3.88 2.24l-3.88 -2.24v-4.48zM294.0 461.3l3.88 2.24v4.48l-3.88 2.24l-3.88 -2.24v-4.48z"/><path fill="#fde2df" stroke="#fde2df" d="M189.4 132.0l3.88 2.24v4.48l-3.88 2.24l-3.88 -2.24v-4.48zM197.2 132.0l3.88 2.24v4.48l-3.88 2.24l-3.88 -2.24v-4.48zM317.3 192.5l3.88 2.24v4.48l-3.88 2.24l-3.88 -2.24v-4.48zM115.8 219.4l3.88 2.24v4.48l-3.88 2.24l-3.88 -2.24v-4.48zM363.8 219.4l3.88 2.24v4.48l-3.88 2.24l-3.88 -2.24v-4.48zM104.2 226.1l3.88 2.24v4.48l-3.88 2.24l-3.88 -2.24v-4.48zM367.6 253.0l3.88 2.24v4.48l-3.88 2.24l-3.88 -2.24v-4.48zM379.3 273.1l3.88 2.24v4.48l-3.88 2.24l-3.88 -2.24v-4.48zM96.4 320.2l3.88 2.24v4.48l-3.88 2.24l-3.88 -2.24v-4.48zM96.4 333.6l3.88 2.24v4.48l-3.88 2.24l-3.88 -2.24v-4.48zM111.9 333.6l3.88 2.24v4.48l-3.88 2.24l-3.88 -2.24v-4.48zM383.1 347.1l3.88 2.24v4.48l-3.88 2.24l-3.88 -2.24v-4.48zM402.5 353.8l3.88 2.24v4.48l-3.88 2.24l-3.88 -2.24v-4.48zM142.9 387.4l3.88 2.24v4.48l-3.88 2.24l-3.88 -2.24v-4.48zM398.6 387.4l3.88 2.24v4.48l-3.88 2.24l-3.88 -2.24v-4.48zM173.9 400.8l3.88 2.24v4.48l-3.88 2.24l-3.88 -2.24v-4.48zM189.4 400.8l3.88 2.24v4.48l-3.88 2.24l-3.88 -2.24v-4.48zM177.8 407.5l3.88 2.24v4.48l-3.88 2.24l-3.88 -2.24v-4.48zM410.3 407.5l3.88 2.24v4.48l-3.88 2.24l-3.88 -2.24v-4.48zM418.0 407.5l3.88 2.24v4.48l-3.88 2.24l-3.88 -2.24v-4.48zM150.7 414.3l3.88 2.24v4.48l-3.88 2.24l-3.88 -2.24v-4.48zM173.9 414.3l3.88 2.24v4.48l-3.88 2.24l-3.88 -2.24v-4.48zM371.5 421.0l3.88 2.24v4.48l-3.88 2.24l-3.88 -2.24v-4.48zM402.5 421.0l3.88 2.24v4.48l-3.88 2.24l-3.88 -2.24v-4.48zM398.6 427.7l3.88 2.24v4.48l-3.88 2.24l-3.88 -2.24v-4.48zM255.3 434.4l3.88 2.24v4.48l-3.88 2.24l-3.88 -2.24v-4.48zM317.3 434.4l3.88 2.24v4.48l-3.88 2.24l-3.88 -2.24v-4.48zM394.8 434.4l3.88 2.24v4.48l-3.88 2.24l-3.88 -2.24v-4.48zM328.9 454.6l3.88 2.24v4.48l-3.88 2.24l-3.88 -2.24v-4.48zM367.6 454.6l3.88 2.24v4.48l-3.88 2.24l-3.88 -2.24v-4.48zM340.5 461.3l3.88 2.24v4.48l-3.88 2.24l-3.88 -2.24v-4.48zM352.1 468.0l3.88 2.24v4.48l-3.88 2.24l-3.88 -2.24v-4.48zM332.8 474.7l3.88 2.24v4.48l-3.88 2.24l-3.88 -2.24v-4.48z"/><path fill="#fde0dd" stroke="#fde0dd" d="M158.4 132.0l3.88 2.24v4.48l-3.88 2.24l-3.88 -2.24v-4.48zM220.4 145.5l3.88 2.24v4.48l-3.88 2.24l-3.88 -2.24v-4.48zM321.1 185.8l3.88 2.24v4.48l-3.88 2.24l-3.88 -2.24v-4.48zM328.9 199.2l3.88 2.24v4.48l-3.88 2.24l-3.88 -2.24v-4.48zM100.3 205.9l3.88 2.24v4.48l-3.88 2.24l-3.88 -2.24v-4.48zM111.9 226.1l3.88 2.24v4.48l-3.88 2.24l-3.88 -2.24v-4.48zM352.1 226.1l3.88 2.24v4.48l-3.88 2.24l-3.88 -2.24v-4.48zM359.9 226.1l3.88 2.24v4.48l-3.88 2.24l-3.88 -2.24v-4.48zM131.3 232.8l3.88 2.24v4.48l-3.88 2.24l-3.88 -2.24v-4.48zM363.8 232.8l3.88 2.24v4.48l-3.88 2.24l-3.88 -2.24v-4.48zM108.0 286.6l3.88 2.24v4.48l-3.88 2.24l-3.88 -2.24v-4.48zM387.0 313.5l3.88 2.24v4.48l-3.88 2.24l-3.88 -2.24v-4.48zM119.7 320.2l3.88 2.24v4.48l-3.88 2.24l-3.88 -2.24v-4.48zM115.8 326.9l3.88 2.24v4.48l-3.88 2.24l-3.88 -2.24v-4.48zM379.3 326.9l3.88 2.24v4.48l-3.88 2.24l-3.88 -2.24v-4.48zM158.4 360.5l3.88 2.24v4.48l-3.88 2.24l-3.88 -2.24v-4.48zM189.4 414.3l3.88 2.24v4.48l-3.88 2.24l-3.88 -2.24v-4.48zM406.4 414.3l3.88 2.24v4.48l-3.88 2.24l-3.88 -2.24v-4.48zM193.3 421.0l3.88 2.24v4.48l-3.88 2.24l-3.88 -2.24v-4.48zM201.0 421.0l3.88 2.24v4.48l-3.88 2.24l-3.88 -2.24v-4.48zM359.9 427.7l3.88 2.24v4.48l-3.88 2.24l-3.88 -2.24v-4.48zM348.3 434.4l3.88 2.24v4.48l-3.88 2.24l-3.88 -2.24v-4.48zM363.8 434.4l3.88 2.24v4.48l-3.88 2.24l-3.88 -2.24v-4.48zM328.9 441.1l3.88 2.24v4.48l-3.88 2.24l-3.88 -2.24v-4.48z"/><path fill="#fddedb" stroke="#fddedb" d="M220.4 132.0l3.88 2.24v4.48l-3.88 2.24l-3.88 -2.24v-4.48zM193.3 138.7l3.88 2.24v4.48l-3.88 2.24l-3.88 -2.24v-4.48zM232.0 152.2l3.88 2.24v4.48l-3.88 2.24l-3.88 -2.24v-4.48zM313.4 185.8l3.88 2.24v4.48l-3.88 2.24l-3.88 -2.24v-4.48zM371.5 273.1l3.88 2.24v4.48l-3.88 2.24l-3.88 -2.24v-4.48zM100.3 300.0l3.88 2.24v4.48l-3.88 2.24l-3.88 -2.24v-4.48zM383.1 306.7l3.88 2.24v4.48l-3.88 2.24l-3.88 -2.24v-4.48zM115.8 340.3l3.88 2.24v4.48l-3.88 2.24l-3.88 -2.24v-4.48zM142.9 360.5l3.88 2.24v4.48l-3.88 2.24l-3.88 -2.24v-4.48zM146.8 367.2l3.88 2.24v4.48l-3.88 2.24l-3.88 -2.24v-4.48zM402.5 380.7l3.88 2.24v4.48l-3.88 2.24l-3.88 -2.24v-4.48zM383.1 387.4l3.88 2.24v4.48l-3.88 2.24l-3.88 -2.24v-4.48zM387.0 394.1l3.88 2.24v4.48l-3.88 2.24l-3.88 -2.24v-4.48zM181.7 400.8l3.88 2.24v4.48l-3.88 2.24l-3.88 -2.24v-4.48zM383.1 400.8l3.88 2.24v4.48l-3.88 2.24l-3.88 -2.24v-4.48zM394.8 407.5l3.88 2.24v4.48l-3.88 2.24l-3.88 -2.24v-4.48zM208.8 421.0l3.88 2.24v4.48l-3.88 2.24l-3.88 -2.24v-4.48zM363.8 421.0l3.88 2.24v4.48l-3.88 2.24l-3.88 -2.24v-4.48zM418.0 434.4l3.88 2.24v4.48l-3.88 2.24l-3.88 -2.24v-4.48zM259.1 441.1l3.88 2.24v4.48l-3.88 2.24l-3.88 -2.24v-4.48zM309.5 447.9l3.88 2.24v4.48l-3.88 2.24l-3.88 -2.24v-4.48zM325.0 447.9l3.88 2.24v4.48l-3.88 2.24l-3.88 -2.24v-4.48z"/><path fill="#fddcd8" stroke="#fddcd8" d="M201.0 138.7l3.88 2.24v4.48l-3.88 2.24l-3.88 -2.24v-4.48zM216.5 138.7l3.88 2.24v4.48l-3.88 2.24l-3.88 -2.24v-4.48zM111.9 185.8l3.88 2.24v4.48l-3.88 2.24l-3.88 -2.24v-4.48zM111.9 199.2l3.88 2.24v4.48l-3.88 2.24l-3.88 -2.24v-4.48zM321.1 199.2l3.88 2.24v4.48l-3.88 2.24l-3.88 -2.24v-4.48zM325.0 205.9l3.88 2.24v4.48l-3.88 2.24l-3.88 -2.24v-4.48zM348.3 219.4l3.88 2.24v4.48l-3.88 2.24l-3.88 -2.24v-4.48zM383.1 279.9l3.88 2.24v4.48l-3.88 2.24l-3.88 -2.24v-4.48zM387.0 286.6l3.88 2.24v4.48l-3.88 2.24l-3.88 -2.24v-4.48zM115.8 300.0l3.88 2.24v4.48l-3.88 2.24l-3.88 -2.24v-4.48zM390.9 306.7l3.88 2.24v4.48l-3.88 2.24l-3.88 -2.24v-4.48zM375.4 320.2l3.88 2.24v4.48l-3.88 2.24l-3.88 -2.24v-4.48zM398.6 320.2l3.88 2.24v4.48l-3.88 2.24l-3.88 -2.24v-4.48zM131.3 326.9l3.88 2.24v4.48l-3.88 2.24l-3.88 -2.24v-4.48zM139.0 340.3l3.88 2.24v4.48l-3.88 2.24l-3.88 -2.24v-4.48zM379.3 340.3l3.88 2.24v4.48l-3.88 2.24l-3.88 -2.24v-4.48zM390.9 347.1l3.88 2.24v4.48l-3.88 2.24l-3.88 -2.24v-4.48zM139.0 353.8l3.88 2.24v4.48l-3.88 2.24l-3.88 -2.24v-4.48zM150.7 360.5l3.88 2.24v4.48l-3.88 2.24l-3.88 -2.24v-4.48zM398.6 373.9l3.88 2.24v4.48l-3.88 2.24l-3.88 -2.24v-4.48zM154.5 380.7l3.88 2.24v4.48l-3.88 2.24l-3.88 -2.24v-4.48zM390.9 387.4l3.88 2.24v4.48l-3.88 2.24l-3.88 -2.24v-4.48zM193.3 407.5l3.88 2.24v4.48l-3.88 2.24l-3.88 -2.24v-4.48zM402.5 407.5l3.88 2.24v4.48l-3.88 2.24l-3.88 -2.24v-4.48zM379.3 421.0l3.88 2.24v4.48l-3.88 2.24l-3.88 -2.24v-4.48zM212.7 427.7l3.88 2.24v4.48l-3.88 2.24l-3.88 -2.24v-4.48zM352.1 427.7l3.88 2.24v4.48l-3.88 2.24l-3.88 -2.24v-4.48zM325.0 434.4l3.88 2.24v4.48l-3.88 2.24l-3.88 -2.24v-4.48zM356.0 434.4l3.88 2.24v4.48l-3.88 2.24l-3.88 -2.24v-4.48zM197.2 441.1l3.88 2.24v4.48l-3.88 2.24l-3.88 -2.24v-4.48zM321.1 441.1l3.88 2.24v4.48l-3.88 2.24l-3.88 -2.24v-4.48zM263.0 447.9l3.88 2.24v4.48l-3.88 2.24l-3.88 -2.24v-4.48z"/><path fill="#fdd9d6" stroke="#fdd9d6" d="M139.0 152.2l3.88 2.24v4.48l-3.88 2.24l-3.88 -2.24v-4.48zM239.8 152.2l3.88 2.24v4.48l-3.88 2.24l-3.88 -2.24v-4.48zM135.2 158.9l3.88 2.24v4.48l-3.88 2.24l-3.88 -2.24v-4.48zM255.3 165.6l3.88 2.24v4.48l-3.88 2.24l-3.88 -2.24v-4.48zM263.0 165.6l3.88 2.24v4.48l-3.88 2.24l-3.88 -2.24v-4.48zM108.0 205.9l3.88 2.24v4.48l-3.88 2.24l-3.88 -2.24v-4.48zM111.9 293.3l3.88 2.24v4.48l-3.88 2.24l-3.88 -2.24v-4.48zM383.1 333.6l3.88 2.24v4.48l-3.88 2.24l-3.88 -2.24v-4.48zM146.8 340.3l3.88 2.24v4.48l-3.88 2.24l-3.88 -2.24v-4.48zM394.8 340.3l3.88 2.24v4.48l-3.88 2.24l-3.88 -2.24v-4.48zM131.3 353.8l3.88 2.24v4.48l-3.88 2.24l-3.88 -2.24v-4.48zM135.2 360.5l3.88 2.24v4.48l-3.88 2.24l-3.88 -2.24v-4.48zM379.3 367.2l3.88 2.24v4.48l-3.88 2.24l-3.88 -2.24v-4.48zM387.0 380.7l3.88 2.24v4.48l-3.88 2.24l-3.88 -2.24v-4.48zM375.4 400.8l3.88 2.24v4.48l-3.88 2.24l-3.88 -2.24v-4.48zM390.9 400.8l3.88 2.24v4.48l-3.88 2.24l-3.88 -2.24v-4.48zM387.0 407.5l3.88 2.24v4.48l-3.88 2.24l-3.88 -2.24v-4.48zM239.8 434.4l3.88 2.24v4.48l-3.88 2.24l-3.88 -2.24v-4.48zM247.5 434.4l3.88 2.24v4.48l-3.88 2.24l-3.88 -2.24v-4.48zM340.5 434.4l3.88 2.24v4.48l-3.88 2.24l-3.88 -2.24v-4.48zM282.4 441.1l3.88 2.24v4.48l-3.88 2.24l-3.88 -2.24v-4.48zM278.5 447.9l3.88 2.24v4.48l-3.88 2.24l-3.88 -2.24v-4.48zM294.0 447.9l3.88 2.24v4.48l-3.88 2.24l-3.88 -2.24v-4.48zM305.6 454.6l3.88 2.24v4.48l-3.88 2.24l-3.88 -2.24v-4.48z"/><path fill="#fdd7d4" stroke="#fdd7d4" d="M173.9 118.6l3.88 2.24v4.48l-3.88 2.24l-3.88 -2.24v-4.48zM228.2 158.9l3.88 2.24v4.48l-3.88 2.24l-3.88 -2.24v-4.48zM243.7 158.9l3.88 2.24v4.48l-3.88 2.24l-3.88 -2.24v-4.48zM96.4 226.1l3.88 2.24v4.48l-3.88 2.24l-3.88 -2.24v-4.48zM359.9 253.0l3.88 2.24v4.48l-3.88 2.24l-3.88 -2.24v-4.48zM104.2 293.3l3.88 2.24v4.48l-3.88 2.24l-3.88 -2.24v-4.48zM154.5 367.2l3.88 2.24v4.48l-3.88 2.24l-3.88 -2.24v-4.48zM162.3 367.2l3.88 2.24v4.48l-3.88 2.24l-3.88 -2.24v-4.48zM158.4 400.8l3.88 2.24v4.48l-3.88 2.24l-3.88 -2.24v-4.48zM201.0 407.5l3.88 2.24v4.48l-3.88 2.24l-3.88 -2.24v-4.48zM367.6 414.3l3.88 2.24v4.48l-3.88 2.24l-3.88 -2.24v-4.48zM387.0 421.0l3.88 2.24v4.48l-3.88 2.24l-3.88 -2.24v-4.48zM235.9 427.7l3.88 2.24v4.48l-3.88 2.24l-3.88 -2.24v-4.48zM251.4 427.7l3.88 2.24v4.48l-3.88 2.24l-3.88 -2.24v-4.48zM297.9 441.1l3.88 2.24v4.48l-3.88 2.24l-3.88 -2.24v-4.48zM344.4 441.1l3.88 2.24v4.48l-3.88 2.24l-3.88 -2.24v-4.48zM270.8 447.9l3.88 2.24v4.48l-3.88 2.24l-3.88 -2.24v-4.48z"/><path fill="#fdd5d1" stroke="#fdd5d1" d="M228.2 145.5l3.88 2.24v4.48l-3.88 2.24l-3.88 -2.24v-4.48zM235.9 158.9l3.88 2.24v4.48l-3.88 2.24l-3.88 -2.24v-4.48zM259.1 172.3l3.88 2.24v4.48l-3.88 2.24l-3.88 -2.24v-4.48zM266.9 172.3l3.88 2.24v4.48l-3.88 2.24l-3.88 -2.24v-4.48zM274.6 172.3l3.88 2.24v4.48l-3.88 2.24l-3.88 -2.24v-4.48zM274.6 185.8l3.88 2.24v4.48l-3.88 2.24l-3.88 -2.24v-4.48zM313.4 199.2l3.88 2.24v4.48l-3.88 2.24l-3.88 -2.24v-4.48zM356.0 219.4l3.88 2.24v4.48l-3.88 2.24l-3.88 -2.24v-4.48zM356.0 232.8l3.88 2.24v4.48l-3.88 2.24l-3.88 -2.24v-4.48zM359.9 239.5l3.88 2.24v4.48l-3.88 2.24l-3.88 -2.24v-4.48zM367.6 266.4l3.88 2.24v4.48l-3.88 2.24l-3.88 -2.24v-4.48zM139.0 326.9l3.88 2.24v4.48l-3.88 2.24l-3.88 -2.24v-4.48zM135.2 347.1l3.88 2.24v4.48l-3.88 2.24l-3.88 -2.24v-4.48zM150.7 347.1l3.88 2.24v4.48l-3.88 2.24l-3.88 -2.24v-4.48zM123.5 353.8l3.88 2.24v4.48l-3.88 2.24l-3.88 -2.24v-4.48zM387.0 353.8l3.88 2.24v4.48l-3.88 2.24l-3.88 -2.24v-4.48zM166.2 373.9l3.88 2.24v4.48l-3.88 2.24l-3.88 -2.24v-4.48zM390.9 373.9l3.88 2.24v4.48l-3.88 2.24l-3.88 -2.24v-4.48zM208.8 407.5l3.88 2.24v4.48l-3.88 2.24l-3.88 -2.24v-4.48zM379.3 407.5l3.88 2.24v4.48l-3.88 2.24l-3.88 -2.24v-4.48zM356.0 421.0l3.88 2.24v4.48l-3.88 2.24l-3.88 -2.24v-4.48z"/><path fill="#fcd2ce" stroke="#fcd2ce" d="M247.5 165.6l3.88 2.24v4.48l-3.88 2.24l-3.88 -2.24v-4.48zM301.8 192.5l3.88 2.24v4.48l-3.88 2.24l-3.88 -2.24v-4.48zM111.9 212.7l3.88 2.24v4.48l-3.88 2.24l-3.88 -2.24v-4.48zM363.8 246.3l3.88 2.24v4.48l-3.88 2.24l-3.88 -2.24v-4.48zM119.7 306.7l3.88 2.24v4.48l-3.88 2.24l-3.88 -2.24v-4.48zM131.3 313.5l3.88 2.24v4.48l-3.88 2.24l-3.88 -2.24v-4.48zM379.3 313.5l3.88 2.24v4.48l-3.88 2.24l-3.88 -2.24v-4.48zM135.2 320.2l3.88 2.24v4.48l-3.88 2.24l-3.88 -2.24v-4.48zM390.9 320.2l3.88 2.24v4.48l-3.88 2.24l-3.88 -2.24v-4.48zM387.0 340.3l3.88 2.24v4.48l-3.88 2.24l-3.88 -2.24v-4.48zM379.3 353.8l3.88 2.24v4.48l-3.88 2.24l-3.88 -2.24v-4.48zM224.3 407.5l3.88 2.24v4.48l-3.88 2.24l-3.88 -2.24v-4.48zM274.6 427.7l3.88 2.24v4.48l-3.88 2.24l-3.88 -2.24v-4.48zM328.9 427.7l3.88 2.24v4.48l-3.88 2.24l-3.88 -2.24v-4.48zM290.1 441.1l3.88 2.24v4.48l-3.88 2.24l-3.88 -2.24v-4.48zM317.3 447.9l3.88 2.24v4.48l-3.88 2.24l-3.88 -2.24v-4.48zM371.5 447.9l3.88 2.24v4.48l-3.88 2.24l-3.88 -2.24v-4.48z"/><path fill="#fcd1cd" stroke="#fcd1cd" d="M204.9 145.5l3.88 2.24v4.48l-3.88 2.24l-3.88 -2.24v-4.48zM290.1 185.8l3.88 2.24v4.48l-3.88 2.24l-3.88 -2.24v-4.48zM115.8 192.5l3.88 2.24v4.48l-3.88 2.24l-3.88 -2.24v-4.48zM340.5 192.5l3.88 2.24v4.48l-3.88 2.24l-3.88 -2.24v-4.48zM340.5 219.4l3.88 2.24v4.48l-3.88 2.24l-3.88 -2.24v-4.48zM348.3 232.8l3.88 2.24v4.48l-3.88 2.24l-3.88 -2.24v-4.48zM367.6 279.9l3.88 2.24v4.48l-3.88 2.24l-3.88 -2.24v-4.48zM135.2 333.6l3.88 2.24v4.48l-3.88 2.24l-3.88 -2.24v-4.48zM390.9 333.6l3.88 2.24v4.48l-3.88 2.24l-3.88 -2.24v-4.48zM379.3 394.1l3.88 2.24v4.48l-3.88 2.24l-3.88 -2.24v-4.48zM367.6 400.8l3.88 2.24v4.48l-3.88 2.24l-3.88 -2.24v-4.48zM216.5 407.5l3.88 2.24v4.48l-3.88 2.24l-3.88 -2.24v-4.48zM220.4 414.3l3.88 2.24v4.48l-3.88 2.24l-3.88 -2.24v-4.48zM359.9 414.3l3.88 2.24v4.48l-3.88 2.24l-3.88 -2.24v-4.48zM243.7 427.7l3.88 2.24v4.48l-3.88 2.24l-3.88 -2.24v-4.48zM274.6 441.1l3.88 2.24v4.48l-3.88 2.24l-3.88 -2.24v-4.48z"/><path fill="#fcceca" stroke="#fcceca" d="M185.5 138.7l3.88 2.24v4.48l-3.88 2.24l-3.88 -2.24v-4.48zM119.7 185.8l3.88 2.24v4.48l-3.88 2.24l-3.88 -2.24v-4.48zM375.4 266.4l3.88 2.24v4.48l-3.88 2.24l-3.88 -2.24v-4.48zM379.3 286.6l3.88 2.24v4.48l-3.88 2.24l-3.88 -2.24v-4.48zM131.3 340.3l3.88 2.24v4.48l-3.88 2.24l-3.88 -2.24v-4.48zM359.9 400.8l3.88 2.24v4.48l-3.88 2.24l-3.88 -2.24v-4.48zM255.3 421.0l3.88 2.24v4.48l-3.88 2.24l-3.88 -2.24v-4.48zM286.3 447.9l3.88 2.24v4.48l-3.88 2.24l-3.88 -2.24v-4.48z"/><path fill="#fcccc7" stroke="#fcccc7" d="M131.3 165.6l3.88 2.24v4.48l-3.88 2.24l-3.88 -2.24v-4.48zM294.0 192.5l3.88 2.24v4.48l-3.88 2.24l-3.88 -2.24v-4.48zM305.6 199.2l3.88 2.24v4.48l-3.88 2.24l-3.88 -2.24v-4.48zM127.4 226.1l3.88 2.24v4.48l-3.88 2.24l-3.88 -2.24v-4.48zM344.4 226.1l3.88 2.24v4.48l-3.88 2.24l-3.88 -2.24v-4.48zM352.1 239.5l3.88 2.24v4.48l-3.88 2.24l-3.88 -2.24v-4.48zM356.0 246.3l3.88 2.24v4.48l-3.88 2.24l-3.88 -2.24v-4.48zM375.4 279.9l3.88 2.24v4.48l-3.88 2.24l-3.88 -2.24v-4.48zM142.9 333.6l3.88 2.24v4.48l-3.88 2.24l-3.88 -2.24v-4.48zM383.1 360.5l3.88 2.24v4.48l-3.88 2.24l-3.88 -2.24v-4.48zM173.9 373.9l3.88 2.24v4.48l-3.88 2.24l-3.88 -2.24v-4.48zM185.5 380.7l3.88 2.24v4.48l-3.88 2.24l-3.88 -2.24v-4.48zM371.5 380.7l3.88 2.24v4.48l-3.88 2.24l-3.88 -2.24v-4.48zM181.7 387.4l3.88 2.24v4.48l-3.88 2.24l-3.88 -2.24v-4.48zM201.0 394.1l3.88 2.24v4.48l-3.88 2.24l-3.88 -2.24v-4.48zM371.5 407.5l3.88 2.24v4.48l-3.88 2.24l-3.88 -2.24v-4.48zM197.2 414.3l3.88 2.24v4.48l-3.88 2.24l-3.88 -2.24v-4.48zM224.3 421.0l3.88 2.24v4.48l-3.88 2.24l-3.88 -2.24v-4.48zM232.0 421.0l3.88 2.24v4.48l-3.88 2.24l-3.88 -2.24v-4.48zM332.8 421.0l3.88 2.24v4.48l-3.88 2.24l-3.88 -2.24v-4.48z"/><path fill="#fccac5" stroke="#fccac5" d="M239.8 165.6l3.88 2.24v4.48l-3.88 2.24l-3.88 -2.24v-4.48zM270.8 179.1l3.88 2.24v4.48l-3.88 2.24l-3.88 -2.24v-4.48zM317.3 205.9l3.88 2.24v4.48l-3.88 2.24l-3.88 -2.24v-4.48zM332.8 205.9l3.88 2.24v4.48l-3.88 2.24l-3.88 -2.24v-4.48zM119.7 293.3l3.88 2.24v4.48l-3.88 2.24l-3.88 -2.24v-4.48zM123.5 313.5l3.88 2.24v4.48l-3.88 2.24l-3.88 -2.24v-4.48zM154.5 353.8l3.88 2.24v4.48l-3.88 2.24l-3.88 -2.24v-4.48zM375.4 360.5l3.88 2.24v4.48l-3.88 2.24l-3.88 -2.24v-4.48zM379.3 380.7l3.88 2.24v4.48l-3.88 2.24l-3.88 -2.24v-4.48zM204.9 400.8l3.88 2.24v4.48l-3.88 2.24l-3.88 -2.24v-4.48zM235.9 414.3l3.88 2.24v4.48l-3.88 2.24l-3.88 -2.24v-4.48zM352.1 414.3l3.88 2.24v4.48l-3.88 2.24l-3.88 -2.24v-4.48zM297.9 427.7l3.88 2.24v4.48l-3.88 2.24l-3.88 -2.24v-4.48zM321.1 427.7l3.88 2.24v4.48l-3.88 2.24l-3.88 -2.24v-4.48zM344.4 427.7l3.88 2.24v4.48l-3.88 2.24l-3.88 -2.24v-4.48zM263.0 434.4l3.88 2.24v4.48l-3.88 2.24l-3.88 -2.24v-4.48z"/><path fill="#fcc7c3" stroke="#fcc7c3" d="M197.2 145.5l3.88 2.24v4.48l-3.88 2.24l-3.88 -2.24v-4.48zM123.5 179.1l3.88 2.24v4.48l-3.88 2.24l-3.88 -2.24v-4.48zM336.6 212.7l3.88 2.24v4.48l-3.88 2.24l-3.88 -2.24v-4.48zM123.5 273.1l3.88 2.24v4.48l-3.88 2.24l-3.88 -2.24v-4.48zM115.8 286.6l3.88 2.24v4.48l-3.88 2.24l-3.88 -2.24v-4.48zM371.5 286.6l3.88 2.24v4.48l-3.88 2.24l-3.88 -2.24v-4.48zM383.1 293.3l3.88 2.24v4.48l-3.88 2.24l-3.88 -2.24v-4.48zM379.3 300.0l3.88 2.24v4.48l-3.88 2.24l-3.88 -2.24v-4.48zM127.4 306.7l3.88 2.24v4.48l-3.88 2.24l-3.88 -2.24v-4.48zM127.4 320.2l3.88 2.24v4.48l-3.88 2.24l-3.88 -2.24v-4.48zM375.4 347.1l3.88 2.24v4.48l-3.88 2.24l-3.88 -2.24v-4.48zM166.2 360.5l3.88 2.24v4.48l-3.88 2.24l-3.88 -2.24v-4.48zM170.0 367.2l3.88 2.24v4.48l-3.88 2.24l-3.88 -2.24v-4.48zM371.5 394.1l3.88 2.24v4.48l-3.88 2.24l-3.88 -2.24v-4.48zM348.3 407.5l3.88 2.24v4.48l-3.88 2.24l-3.88 -2.24v-4.48zM212.7 414.3l3.88 2.24v4.48l-3.88 2.24l-3.88 -2.24v-4.48zM247.5 421.0l3.88 2.24v4.48l-3.88 2.24l-3.88 -2.24v-4.48zM348.3 421.0l3.88 2.24v4.48l-3.88 2.24l-3.88 -2.24v-4.48zM282.4 427.7l3.88 2.24v4.48l-3.88 2.24l-3.88 -2.24v-4.48zM294.0 434.4l3.88 2.24v4.48l-3.88 2.24l-3.88 -2.24v-4.48z"/><path fill="#fcc5c0" stroke="#fcc5c0" d="M170.0 125.3l3.88 2.24v4.48l-3.88 2.24l-3.88 -2.24v-4.48zM263.0 179.1l3.88 2.24v4.48l-3.88 2.24l-3.88 -2.24v-4.48zM297.9 199.2l3.88 2.24v4.48l-3.88 2.24l-3.88 -2.24v-4.48zM328.9 212.7l3.88 2.24v4.48l-3.88 2.24l-3.88 -2.24v-4.48zM336.6 226.1l3.88 2.24v4.48l-3.88 2.24l-3.88 -2.24v-4.48zM356.0 259.7l3.88 2.24v4.48l-3.88 2.24l-3.88 -2.24v-4.48zM363.8 259.7l3.88 2.24v4.48l-3.88 2.24l-3.88 -2.24v-4.48zM375.4 306.7l3.88 2.24v4.48l-3.88 2.24l-3.88 -2.24v-4.48zM383.1 320.2l3.88 2.24v4.48l-3.88 2.24l-3.88 -2.24v-4.48zM158.4 347.1l3.88 2.24v4.48l-3.88 2.24l-3.88 -2.24v-4.48zM162.3 353.8l3.88 2.24v4.48l-3.88 2.24l-3.88 -2.24v-4.48zM367.6 387.4l3.88 2.24v4.48l-3.88 2.24l-3.88 -2.24v-4.48zM208.8 394.1l3.88 2.24v4.48l-3.88 2.24l-3.88 -2.24v-4.48zM243.7 414.3l3.88 2.24v4.48l-3.88 2.24l-3.88 -2.24v-4.48zM336.6 414.3l3.88 2.24v4.48l-3.88 2.24l-3.88 -2.24v-4.48zM344.4 414.3l3.88 2.24v4.48l-3.88 2.24l-3.88 -2.24v-4.48zM305.6 427.7l3.88 2.24v4.48l-3.88 2.24l-3.88 -2.24v-4.48zM313.4 427.7l3.88 2.24v4.48l-3.88 2.24l-3.88 -2.24v-4.48z"/><path fill="#fcc2bf" stroke="#fcc2bf" d="M154.5 138.7l3.88 2.24v4.48l-3.88 2.24l-3.88 -2.24v-4.48zM127.4 172.3l3.88 2.24v4.48l-3.88 2.24l-3.88 -2.24v-4.48zM321.1 212.7l3.88 2.24v4.48l-3.88 2.24l-3.88 -2.24v-4.48zM142.9 239.5l3.88 2.24v4.48l-3.88 2.24l-3.88 -2.24v-4.48zM123.5 300.0l3.88 2.24v4.48l-3.88 2.24l-3.88 -2.24v-4.48zM375.4 333.6l3.88 2.24v4.48l-3.88 2.24l-3.88 -2.24v-4.48zM189.4 387.4l3.88 2.24v4.48l-3.88 2.24l-3.88 -2.24v-4.48zM197.2 400.8l3.88 2.24v4.48l-3.88 2.24l-3.88 -2.24v-4.48zM212.7 400.8l3.88 2.24v4.48l-3.88 2.24l-3.88 -2.24v-4.48zM363.8 407.5l3.88 2.24v4.48l-3.88 2.24l-3.88 -2.24v-4.48zM228.2 414.3l3.88 2.24v4.48l-3.88 2.24l-3.88 -2.24v-4.48zM301.8 421.0l3.88 2.24v4.48l-3.88 2.24l-3.88 -2.24v-4.48zM290.1 427.7l3.88 2.24v4.48l-3.88 2.24l-3.88 -2.24v-4.48zM278.5 434.4l3.88 2.24v4.48l-3.88 2.24l-3.88 -2.24v-4.48zM301.8 434.4l3.88 2.24v4.48l-3.88 2.24l-3.88 -2.24v-4.48z"/><path fill="#fcbfbe" stroke="#fcbfbe" d="M181.7 132.0l3.88 2.24v4.48l-3.88 2.24l-3.88 -2.24v-4.48zM212.7 145.5l3.88 2.24v4.48l-3.88 2.24l-3.88 -2.24v-4.48zM201.0 152.2l3.88 2.24v4.48l-3.88 2.24l-3.88 -2.24v-4.48zM344.4 239.5l3.88 2.24v4.48l-3.88 2.24l-3.88 -2.24v-4.48zM150.7 333.6l3.88 2.24v4.48l-3.88 2.24l-3.88 -2.24v-4.48zM375.4 387.4l3.88 2.24v4.48l-3.88 2.24l-3.88 -2.24v-4.48zM193.3 394.1l3.88 2.24v4.48l-3.88 2.24l-3.88 -2.24v-4.48zM204.9 414.3l3.88 2.24v4.48l-3.88 2.24l-3.88 -2.24v-4.48zM266.9 427.7l3.88 2.24v4.48l-3.88 2.24l-3.88 -2.24v-4.48zM336.6 427.7l3.88 2.24v4.48l-3.88 2.24l-3.88 -2.24v-4.48zM266.9 441.1l3.88 2.24v4.48l-3.88 2.24l-3.88 -2.24v-4.48z"/><path fill="#fbbbbd" stroke="#fbbbbd" d="M193.3 152.2l3.88 2.24v4.48l-3.88 2.24l-3.88 -2.24v-4.48zM243.7 172.3l3.88 2.24v4.48l-3.88 2.24l-3.88 -2.24v-4.48zM286.3 192.5l3.88 2.24v4.48l-3.88 2.24l-3.88 -2.24v-4.48zM359.9 266.4l3.88 2.24v4.48l-3.88 2.24l-3.88 -2.24v-4.48zM154.5 340.3l3.88 2.24v4.48l-3.88 2.24l-3.88 -2.24v-4.48zM387.0 367.2l3.88 2.24v4.48l-3.88 2.24l-3.88 -2.24v-4.48zM197.2 387.4l3.88 2.24v4.48l-3.88 2.24l-3.88 -2.24v-4.48zM317.3 421.0l3.88 2.24v4.48l-3.88 2.24l-3.88 -2.24v-4.48zM340.5 421.0l3.88 2.24v4.48l-3.88 2.24l-3.88 -2.24v-4.48zM286.3 434.4l3.88 2.24v4.48l-3.88 2.24l-3.88 -2.24v-4.48z"/><path fill="#fbb9bc" stroke="#fbb9bc" d="M166.2 132.0l3.88 2.24v4.48l-3.88 2.24l-3.88 -2.24v-4.48zM173.9 132.0l3.88 2.24v4.48l-3.88 2.24l-3.88 -2.24v-4.48zM189.4 145.5l3.88 2.24v4.48l-3.88 2.24l-3.88 -2.24v-4.48zM266.9 185.8l3.88 2.24v4.48l-3.88 2.24l-3.88 -2.24v-4.48zM332.8 219.4l3.88 2.24v4.48l-3.88 2.24l-3.88 -2.24v-4.48zM139.0 232.8l3.88 2.24v4.48l-3.88 2.24l-3.88 -2.24v-4.48zM352.1 253.0l3.88 2.24v4.48l-3.88 2.24l-3.88 -2.24v-4.48zM142.9 320.2l3.88 2.24v4.48l-3.88 2.24l-3.88 -2.24v-4.48zM367.6 360.5l3.88 2.24v4.48l-3.88 2.24l-3.88 -2.24v-4.48zM367.6 373.9l3.88 2.24v4.48l-3.88 2.24l-3.88 -2.24v-4.48zM204.9 387.4l3.88 2.24v4.48l-3.88 2.24l-3.88 -2.24v-4.48zM363.8 394.1l3.88 2.24v4.48l-3.88 2.24l-3.88 -2.24v-4.48z"/><path fill="#fbb5bb" stroke="#fbb5bb" d="M150.7 145.5l3.88 2.24v4.48l-3.88 2.24l-3.88 -2.24v-4.48zM181.7 145.5l3.88 2.24v4.48l-3.88 2.24l-3.88 -2.24v-4.48zM208.8 152.2l3.88 2.24v4.48l-3.88 2.24l-3.88 -2.24v-4.48zM251.4 172.3l3.88 2.24v4.48l-3.88 2.24l-3.88 -2.24v-4.48zM340.5 232.8l3.88 2.24v4.48l-3.88 2.24l-3.88 -2.24v-4.48zM348.3 246.3l3.88 2.24v4.48l-3.88 2.24l-3.88 -2.24v-4.48zM123.5 286.6l3.88 2.24v4.48l-3.88 2.24l-3.88 -2.24v-4.48zM371.5 353.8l3.88 2.24v4.48l-3.88 2.24l-3.88 -2.24v-4.48zM173.9 360.5l3.88 2.24v4.48l-3.88 2.24l-3.88 -2.24v-4.48zM181.7 373.9l3.88 2.24v4.48l-3.88 2.24l-3.88 -2.24v-4.48zM189.4 373.9l3.88 2.24v4.48l-3.88 2.24l-3.88 -2.24v-4.48zM201.0 380.7l3.88 2.24v4.48l-3.88 2.24l-3.88 -2.24v-4.48zM228.2 400.8l3.88 2.24v4.48l-3.88 2.24l-3.88 -2.24v-4.48zM251.4 414.3l3.88 2.24v4.48l-3.88 2.24l-3.88 -2.24v-4.48zM239.8 421.0l3.88 2.24v4.48l-3.88 2.24l-3.88 -2.24v-4.48zM263.0 421.0l3.88 2.24v4.48l-3.88 2.24l-3.88 -2.24v-4.48zM278.5 421.0l3.88 2.24v4.48l-3.88 2.24l-3.88 -2.24v-4.48zM259.1 427.7l3.88 2.24v4.48l-3.88 2.24l-3.88 -2.24v-4.48zM309.5 434.4l3.88 2.24v4.48l-3.88 2.24l-3.88 -2.24v-4.48z"/><path fill="#fbb2ba" stroke="#fbb2ba" d="M177.8 125.3l3.88 2.24v4.48l-3.88 2.24l-3.88 -2.24v-4.48zM177.8 138.7l3.88 2.24v4.48l-3.88 2.24l-3.88 -2.24v-4.48zM224.3 152.2l3.88 2.24v4.48l-3.88 2.24l-3.88 -2.24v-4.48zM212.7 158.9l3.88 2.24v4.48l-3.88 2.24l-3.88 -2.24v-4.48zM255.3 179.1l3.88 2.24v4.48l-3.88 2.24l-3.88 -2.24v-4.48zM278.5 192.5l3.88 2.24v4.48l-3.88 2.24l-3.88 -2.24v-4.48zM115.8 205.9l3.88 2.24v4.48l-3.88 2.24l-3.88 -2.24v-4.48zM139.0 246.3l3.88 2.24v4.48l-3.88 2.24l-3.88 -2.24v-4.48zM375.4 293.3l3.88 2.24v4.48l-3.88 2.24l-3.88 -2.24v-4.48zM135.2 306.7l3.88 2.24v4.48l-3.88 2.24l-3.88 -2.24v-4.48zM139.0 313.5l3.88 2.24v4.48l-3.88 2.24l-3.88 -2.24v-4.48zM170.0 353.8l3.88 2.24v4.48l-3.88 2.24l-3.88 -2.24v-4.48zM375.4 373.9l3.88 2.24v4.48l-3.88 2.24l-3.88 -2.24v-4.48zM356.0 394.1l3.88 2.24v4.48l-3.88 2.24l-3.88 -2.24v-4.48zM239.8 407.5l3.88 2.24v4.48l-3.88 2.24l-3.88 -2.24v-4.48zM270.8 421.0l3.88 2.24v4.48l-3.88 2.24l-3.88 -2.24v-4.48zM325.0 421.0l3.88 2.24v4.48l-3.88 2.24l-3.88 -2.24v-4.48zM270.8 434.4l3.88 2.24v4.48l-3.88 2.24l-3.88 -2.24v-4.48z"/><path fill="#fbafba" stroke="#fbafba" d="M220.4 158.9l3.88 2.24v4.48l-3.88 2.24l-3.88 -2.24v-4.48zM232.0 165.6l3.88 2.24v4.48l-3.88 2.24l-3.88 -2.24v-4.48zM301.8 205.9l3.88 2.24v4.48l-3.88 2.24l-3.88 -2.24v-4.48zM135.2 253.0l3.88 2.24v4.48l-3.88 2.24l-3.88 -2.24v-4.48zM359.9 279.9l3.88 2.24v4.48l-3.88 2.24l-3.88 -2.24v-4.48zM158.4 333.6l3.88 2.24v4.48l-3.88 2.24l-3.88 -2.24v-4.48zM166.2 347.1l3.88 2.24v4.48l-3.88 2.24l-3.88 -2.24v-4.48zM193.3 380.7l3.88 2.24v4.48l-3.88 2.24l-3.88 -2.24v-4.48zM363.8 380.7l3.88 2.24v4.48l-3.88 2.24l-3.88 -2.24v-4.48zM359.9 387.4l3.88 2.24v4.48l-3.88 2.24l-3.88 -2.24v-4.48zM216.5 394.1l3.88 2.24v4.48l-3.88 2.24l-3.88 -2.24v-4.48zM352.1 400.8l3.88 2.24v4.48l-3.88 2.24l-3.88 -2.24v-4.48zM340.5 407.5l3.88 2.24v4.48l-3.88 2.24l-3.88 -2.24v-4.48zM321.1 414.3l3.88 2.24v4.48l-3.88 2.24l-3.88 -2.24v-4.48zM286.3 421.0l3.88 2.24v4.48l-3.88 2.24l-3.88 -2.24v-4.48zM294.0 421.0l3.88 2.24v4.48l-3.88 2.24l-3.88 -2.24v-4.48z"/><path fill="#fbacb9" stroke="#fbacb9" d="M170.0 138.7l3.88 2.24v4.48l-3.88 2.24l-3.88 -2.24v-4.48zM173.9 145.5l3.88 2.24v4.48l-3.88 2.24l-3.88 -2.24v-4.48zM185.5 152.2l3.88 2.24v4.48l-3.88 2.24l-3.88 -2.24v-4.48zM204.9 158.9l3.88 2.24v4.48l-3.88 2.24l-3.88 -2.24v-4.48zM313.4 212.7l3.88 2.24v4.48l-3.88 2.24l-3.88 -2.24v-4.48zM325.0 219.4l3.88 2.24v4.48l-3.88 2.24l-3.88 -2.24v-4.48zM328.9 226.1l3.88 2.24v4.48l-3.88 2.24l-3.88 -2.24v-4.48zM131.3 259.7l3.88 2.24v4.48l-3.88 2.24l-3.88 -2.24v-4.48zM127.4 279.9l3.88 2.24v4.48l-3.88 2.24l-3.88 -2.24v-4.48zM363.8 286.6l3.88 2.24v4.48l-3.88 2.24l-3.88 -2.24v-4.48zM127.4 293.3l3.88 2.24v4.48l-3.88 2.24l-3.88 -2.24v-4.48zM367.6 293.3l3.88 2.24v4.48l-3.88 2.24l-3.88 -2.24v-4.48zM131.3 300.0l3.88 2.24v4.48l-3.88 2.24l-3.88 -2.24v-4.48zM367.6 320.2l3.88 2.24v4.48l-3.88 2.24l-3.88 -2.24v-4.48zM162.3 340.3l3.88 2.24v4.48l-3.88 2.24l-3.88 -2.24v-4.48zM371.5 340.3l3.88 2.24v4.48l-3.88 2.24l-3.88 -2.24v-4.48zM344.4 400.8l3.88 2.24v4.48l-3.88 2.24l-3.88 -2.24v-4.48zM247.5 407.5l3.88 2.24v4.48l-3.88 2.24l-3.88 -2.24v-4.48zM356.0 407.5l3.88 2.24v4.48l-3.88 2.24l-3.88 -2.24v-4.48zM259.1 414.3l3.88 2.24v4.48l-3.88 2.24l-3.88 -2.24v-4.48zM297.9 414.3l3.88 2.24v4.48l-3.88 2.24l-3.88 -2.24v-4.48zM328.9 414.3l3.88 2.24v4.48l-3.88 2.24l-3.88 -2.24v-4.48zM309.5 421.0l3.88 2.24v4.48l-3.88 2.24l-3.88 -2.24v-4.48z"/><path fill="#faa8b8" stroke="#faa8b8" d="M290.1 199.2l3.88 2.24v4.48l-3.88 2.24l-3.88 -2.24v-4.48zM309.5 205.9l3.88 2.24v4.48l-3.88 2.24l-3.88 -2.24v-4.48zM119.7 212.7l3.88 2.24v4.48l-3.88 2.24l-3.88 -2.24v-4.48zM356.0 273.1l3.88 2.24v4.48l-3.88 2.24l-3.88 -2.24v-4.48zM363.8 273.1l3.88 2.24v4.48l-3.88 2.24l-3.88 -2.24v-4.48zM367.6 347.1l3.88 2.24v4.48l-3.88 2.24l-3.88 -2.24v-4.48zM181.7 360.5l3.88 2.24v4.48l-3.88 2.24l-3.88 -2.24v-4.48zM177.8 367.2l3.88 2.24v4.48l-3.88 2.24l-3.88 -2.24v-4.48zM185.5 367.2l3.88 2.24v4.48l-3.88 2.24l-3.88 -2.24v-4.48zM363.8 367.2l3.88 2.24v4.48l-3.88 2.24l-3.88 -2.24v-4.48zM352.1 387.4l3.88 2.24v4.48l-3.88 2.24l-3.88 -2.24v-4.48zM224.3 394.1l3.88 2.24v4.48l-3.88 2.24l-3.88 -2.24v-4.48zM348.3 394.1l3.88 2.24v4.48l-3.88 2.24l-3.88 -2.24v-4.48zM235.9 400.8l3.88 2.24v4.48l-3.88 2.24l-3.88 -2.24v-4.48zM313.4 414.3l3.88 2.24v4.48l-3.88 2.24l-3.88 -2.24v-4.48z"/><path fill="#faa6b7" stroke="#faa6b7" d="M197.2 158.9l3.88 2.24v4.48l-3.88 2.24l-3.88 -2.24v-4.48zM216.5 165.6l3.88 2.24v4.48l-3.88 2.24l-3.88 -2.24v-4.48zM224.3 165.6l3.88 2.24v4.48l-3.88 2.24l-3.88 -2.24v-4.48zM127.4 266.4l3.88 2.24v4.48l-3.88 2.24l-3.88 -2.24v-4.48zM352.1 266.4l3.88 2.24v4.48l-3.88 2.24l-3.88 -2.24v-4.48zM367.6 306.7l3.88 2.24v4.48l-3.88 2.24l-3.88 -2.24v-4.48zM371.5 313.5l3.88 2.24v4.48l-3.88 2.24l-3.88 -2.24v-4.48zM367.6 333.6l3.88 2.24v4.48l-3.88 2.24l-3.88 -2.24v-4.48zM371.5 367.2l3.88 2.24v4.48l-3.88 2.24l-3.88 -2.24v-4.48zM197.2 373.9l3.88 2.24v4.48l-3.88 2.24l-3.88 -2.24v-4.48zM359.9 373.9l3.88 2.24v4.48l-3.88 2.24l-3.88 -2.24v-4.48zM266.9 414.3l3.88 2.24v4.48l-3.88 2.24l-3.88 -2.24v-4.48zM356.0 488.2l3.88 2.24v4.48l-3.88 2.24l-3.88 -2.24v-4.48z"/><path fill="#faa2b6" stroke="#faa2b6" d="M162.3 138.7l3.88 2.24v4.48l-3.88 2.24l-3.88 -2.24v-4.48zM146.8 152.2l3.88 2.24v4.48l-3.88 2.24l-3.88 -2.24v-4.48zM119.7 199.2l3.88 2.24v4.48l-3.88 2.24l-3.88 -2.24v-4.48zM336.6 239.5l3.88 2.24v4.48l-3.88 2.24l-3.88 -2.24v-4.48zM348.3 259.7l3.88 2.24v4.48l-3.88 2.24l-3.88 -2.24v-4.48zM363.8 300.0l3.88 2.24v4.48l-3.88 2.24l-3.88 -2.24v-4.48zM146.8 326.9l3.88 2.24v4.48l-3.88 2.24l-3.88 -2.24v-4.48zM154.5 326.9l3.88 2.24v4.48l-3.88 2.24l-3.88 -2.24v-4.48zM363.8 353.8l3.88 2.24v4.48l-3.88 2.24l-3.88 -2.24v-4.48zM193.3 367.2l3.88 2.24v4.48l-3.88 2.24l-3.88 -2.24v-4.48zM356.0 380.7l3.88 2.24v4.48l-3.88 2.24l-3.88 -2.24v-4.48zM336.6 400.8l3.88 2.24v4.48l-3.88 2.24l-3.88 -2.24v-4.48zM305.6 414.3l3.88 2.24v4.48l-3.88 2.24l-3.88 -2.24v-4.48zM421.9 441.1l3.88 2.24v4.48l-3.88 2.24l-3.88 -2.24v-4.48zM394.8 461.3l3.88 2.24v4.48l-3.88 2.24l-3.88 -2.24v-4.48z"/><path fill="#fa9eb5" stroke="#fa9eb5" d="M235.9 172.3l3.88 2.24v4.48l-3.88 2.24l-3.88 -2.24v-4.48zM332.8 232.8l3.88 2.24v4.48l-3.88 2.24l-3.88 -2.24v-4.48zM371.5 300.0l3.88 2.24v4.48l-3.88 2.24l-3.88 -2.24v-4.48zM146.8 313.5l3.88 2.24v4.48l-3.88 2.24l-3.88 -2.24v-4.48zM150.7 320.2l3.88 2.24v4.48l-3.88 2.24l-3.88 -2.24v-4.48zM363.8 326.9l3.88 2.24v4.48l-3.88 2.24l-3.88 -2.24v-4.48zM173.9 347.1l3.88 2.24v4.48l-3.88 2.24l-3.88 -2.24v-4.48zM177.8 353.8l3.88 2.24v4.48l-3.88 2.24l-3.88 -2.24v-4.48zM356.0 367.2l3.88 2.24v4.48l-3.88 2.24l-3.88 -2.24v-4.48zM243.7 400.8l3.88 2.24v4.48l-3.88 2.24l-3.88 -2.24v-4.48zM232.0 407.5l3.88 2.24v4.48l-3.88 2.24l-3.88 -2.24v-4.48zM255.3 407.5l3.88 2.24v4.48l-3.88 2.24l-3.88 -2.24v-4.48zM274.6 414.3l3.88 2.24v4.48l-3.88 2.24l-3.88 -2.24v-4.48zM290.1 414.3l3.88 2.24v4.48l-3.88 2.24l-3.88 -2.24v-4.48zM410.3 447.9l3.88 2.24v4.48l-3.88 2.24l-3.88 -2.24v-4.48zM371.5 474.7l3.88 2.24v4.48l-3.88 2.24l-3.88 -2.24v-4.48z"/><path fill="#fa9bb4" stroke="#fa9bb4" d="M166.2 145.5l3.88 2.24v4.48l-3.88 2.24l-3.88 -2.24v-4.48zM189.4 158.9l3.88 2.24v4.48l-3.88 2.24l-3.88 -2.24v-4.48zM208.8 165.6l3.88 2.24v4.48l-3.88 2.24l-3.88 -2.24v-4.48zM228.2 172.3l3.88 2.24v4.48l-3.88 2.24l-3.88 -2.24v-4.48zM247.5 179.1l3.88 2.24v4.48l-3.88 2.24l-3.88 -2.24v-4.48zM305.6 212.7l3.88 2.24v4.48l-3.88 2.24l-3.88 -2.24v-4.48zM123.5 219.4l3.88 2.24v4.48l-3.88 2.24l-3.88 -2.24v-4.48zM317.3 219.4l3.88 2.24v4.48l-3.88 2.24l-3.88 -2.24v-4.48zM344.4 253.0l3.88 2.24v4.48l-3.88 2.24l-3.88 -2.24v-4.48zM131.3 273.1l3.88 2.24v4.48l-3.88 2.24l-3.88 -2.24v-4.48zM363.8 313.5l3.88 2.24v4.48l-3.88 2.24l-3.88 -2.24v-4.48zM371.5 326.9l3.88 2.24v4.48l-3.88 2.24l-3.88 -2.24v-4.48zM363.8 340.3l3.88 2.24v4.48l-3.88 2.24l-3.88 -2.24v-4.48zM359.9 360.5l3.88 2.24v4.48l-3.88 2.24l-3.88 -2.24v-4.48zM204.9 373.9l3.88 2.24v4.48l-3.88 2.24l-3.88 -2.24v-4.48zM208.8 380.7l3.88 2.24v4.48l-3.88 2.24l-3.88 -2.24v-4.48zM212.7 387.4l3.88 2.24v4.48l-3.88 2.24l-3.88 -2.24v-4.48zM220.4 387.4l3.88 2.24v4.48l-3.88 2.24l-3.88 -2.24v-4.48zM340.5 394.1l3.88 2.24v4.48l-3.88 2.24l-3.88 -2.24v-4.48zM263.0 407.5l3.88 2.24v4.48l-3.88 2.24l-3.88 -2.24v-4.48zM332.8 407.5l3.88 2.24v4.48l-3.88 2.24l-3.88 -2.24v-4.48zM282.4 414.3l3.88 2.24v4.48l-3.88 2.24l-3.88 -2.24v-4.48z"/><path fill="#f996b2" stroke="#f996b2" d="M177.8 152.2l3.88 2.24v4.48l-3.88 2.24l-3.88 -2.24v-4.48zM142.9 158.9l3.88 2.24v4.48l-3.88 2.24l-3.88 -2.24v-4.48zM270.8 192.5l3.88 2.24v4.48l-3.88 2.24l-3.88 -2.24v-4.48zM294.0 205.9l3.88 2.24v4.48l-3.88 2.24l-3.88 -2.24v-4.48zM321.1 226.1l3.88 2.24v4.48l-3.88 2.24l-3.88 -2.24v-4.48zM340.5 246.3l3.88 2.24v4.48l-3.88 2.24l-3.88 -2.24v-4.48zM356.0 286.6l3.88 2.24v4.48l-3.88 2.24l-3.88 -2.24v-4.48zM139.0 300.0l3.88 2.24v4.48l-3.88 2.24l-3.88 -2.24v-4.48zM142.9 306.7l3.88 2.24v4.48l-3.88 2.24l-3.88 -2.24v-4.48zM162.3 326.9l3.88 2.24v4.48l-3.88 2.24l-3.88 -2.24v-4.48zM232.0 394.1l3.88 2.24v4.48l-3.88 2.24l-3.88 -2.24v-4.48zM317.3 407.5l3.88 2.24v4.48l-3.88 2.24l-3.88 -2.24v-4.48zM325.0 407.5l3.88 2.24v4.48l-3.88 2.24l-3.88 -2.24v-4.48zM398.6 454.6l3.88 2.24v4.48l-3.88 2.24l-3.88 -2.24v-4.48z"/><path fill="#f991b0" stroke="#f991b0" d="M158.4 145.5l3.88 2.24v4.48l-3.88 2.24l-3.88 -2.24v-4.48zM181.7 158.9l3.88 2.24v4.48l-3.88 2.24l-3.88 -2.24v-4.48zM259.1 185.8l3.88 2.24v4.48l-3.88 2.24l-3.88 -2.24v-4.48zM166.2 333.6l3.88 2.24v4.48l-3.88 2.24l-3.88 -2.24v-4.48zM170.0 340.3l3.88 2.24v4.48l-3.88 2.24l-3.88 -2.24v-4.48zM270.8 407.5l3.88 2.24v4.48l-3.88 2.24l-3.88 -2.24v-4.48zM301.8 407.5l3.88 2.24v4.48l-3.88 2.24l-3.88 -2.24v-4.48zM309.5 407.5l3.88 2.24v4.48l-3.88 2.24l-3.88 -2.24v-4.48zM367.6 481.5l3.88 2.24v4.48l-3.88 2.24l-3.88 -2.24v-4.48zM363.8 488.2l3.88 2.24v4.48l-3.88 2.24l-3.88 -2.24v-4.48z"/><path fill="#f98dae" stroke="#f98dae" d="M139.0 165.6l3.88 2.24v4.48l-3.88 2.24l-3.88 -2.24v-4.48zM282.4 199.2l3.88 2.24v4.48l-3.88 2.24l-3.88 -2.24v-4.48zM325.0 232.8l3.88 2.24v4.48l-3.88 2.24l-3.88 -2.24v-4.48zM131.3 286.6l3.88 2.24v4.48l-3.88 2.24l-3.88 -2.24v-4.48zM135.2 293.3l3.88 2.24v4.48l-3.88 2.24l-3.88 -2.24v-4.48zM359.9 293.3l3.88 2.24v4.48l-3.88 2.24l-3.88 -2.24v-4.48zM359.9 333.6l3.88 2.24v4.48l-3.88 2.24l-3.88 -2.24v-4.48zM352.1 373.9l3.88 2.24v4.48l-3.88 2.24l-3.88 -2.24v-4.48zM216.5 380.7l3.88 2.24v4.48l-3.88 2.24l-3.88 -2.24v-4.48zM228.2 387.4l3.88 2.24v4.48l-3.88 2.24l-3.88 -2.24v-4.48zM344.4 387.4l3.88 2.24v4.48l-3.88 2.24l-3.88 -2.24v-4.48zM239.8 394.1l3.88 2.24v4.48l-3.88 2.24l-3.88 -2.24v-4.48zM294.0 407.5l3.88 2.24v4.48l-3.88 2.24l-3.88 -2.24v-4.48zM406.4 454.6l3.88 2.24v4.48l-3.88 2.24l-3.88 -2.24v-4.48z"/><path fill="#f988ad" stroke="#f988ad" d="M170.0 152.2l3.88 2.24v4.48l-3.88 2.24l-3.88 -2.24v-4.48zM193.3 165.6l3.88 2.24v4.48l-3.88 2.24l-3.88 -2.24v-4.48zM201.0 165.6l3.88 2.24v4.48l-3.88 2.24l-3.88 -2.24v-4.48zM123.5 192.5l3.88 2.24v4.48l-3.88 2.24l-3.88 -2.24v-4.48zM309.5 219.4l3.88 2.24v4.48l-3.88 2.24l-3.88 -2.24v-4.48zM352.1 279.9l3.88 2.24v4.48l-3.88 2.24l-3.88 -2.24v-4.48zM359.9 320.2l3.88 2.24v4.48l-3.88 2.24l-3.88 -2.24v-4.48zM359.9 347.1l3.88 2.24v4.48l-3.88 2.24l-3.88 -2.24v-4.48zM185.5 353.8l3.88 2.24v4.48l-3.88 2.24l-3.88 -2.24v-4.48zM356.0 353.8l3.88 2.24v4.48l-3.88 2.24l-3.88 -2.24v-4.48zM348.3 380.7l3.88 2.24v4.48l-3.88 2.24l-3.88 -2.24v-4.48zM220.4 400.8l3.88 2.24v4.48l-3.88 2.24l-3.88 -2.24v-4.48zM259.1 400.8l3.88 2.24v4.48l-3.88 2.24l-3.88 -2.24v-4.48zM328.9 400.8l3.88 2.24v4.48l-3.88 2.24l-3.88 -2.24v-4.48zM286.3 407.5l3.88 2.24v4.48l-3.88 2.24l-3.88 -2.24v-4.48zM418.0 447.9l3.88 2.24v4.48l-3.88 2.24l-3.88 -2.24v-4.48z"/><path fill="#f883ab" stroke="#f883ab" d="M173.9 158.9l3.88 2.24v4.48l-3.88 2.24l-3.88 -2.24v-4.48zM135.2 172.3l3.88 2.24v4.48l-3.88 2.24l-3.88 -2.24v-4.48zM232.0 179.1l3.88 2.24v4.48l-3.88 2.24l-3.88 -2.24v-4.48zM239.8 179.1l3.88 2.24v4.48l-3.88 2.24l-3.88 -2.24v-4.48zM127.4 185.8l3.88 2.24v4.48l-3.88 2.24l-3.88 -2.24v-4.48zM251.4 185.8l3.88 2.24v4.48l-3.88 2.24l-3.88 -2.24v-4.48zM123.5 205.9l3.88 2.24v4.48l-3.88 2.24l-3.88 -2.24v-4.48zM286.3 205.9l3.88 2.24v4.48l-3.88 2.24l-3.88 -2.24v-4.48zM348.3 273.1l3.88 2.24v4.48l-3.88 2.24l-3.88 -2.24v-4.48zM359.9 306.7l3.88 2.24v4.48l-3.88 2.24l-3.88 -2.24v-4.48zM158.4 320.2l3.88 2.24v4.48l-3.88 2.24l-3.88 -2.24v-4.48zM189.4 360.5l3.88 2.24v4.48l-3.88 2.24l-3.88 -2.24v-4.48zM201.0 367.2l3.88 2.24v4.48l-3.88 2.24l-3.88 -2.24v-4.48zM212.7 373.9l3.88 2.24v4.48l-3.88 2.24l-3.88 -2.24v-4.48zM251.4 400.8l3.88 2.24v4.48l-3.88 2.24l-3.88 -2.24v-4.48zM278.5 407.5l3.88 2.24v4.48l-3.88 2.24l-3.88 -2.24v-4.48zM433.5 434.4l3.88 2.24v4.48l-3.88 2.24l-3.88 -2.24v-4.48zM429.6 441.1l3.88 2.24v4.48l-3.88 2.24l-3.88 -2.24v-4.48zM383.1 468.0l3.88 2.24v4.48l-3.88 2.24l-3.88 -2.24v-4.48z"/><path fill="#f87fa9" stroke="#f87fa9" d="M162.3 152.2l3.88 2.24v4.48l-3.88 2.24l-3.88 -2.24v-4.48zM212.7 172.3l3.88 2.24v4.48l-3.88 2.24l-3.88 -2.24v-4.48zM220.4 172.3l3.88 2.24v4.48l-3.88 2.24l-3.88 -2.24v-4.48zM263.0 192.5l3.88 2.24v4.48l-3.88 2.24l-3.88 -2.24v-4.48zM274.6 199.2l3.88 2.24v4.48l-3.88 2.24l-3.88 -2.24v-4.48zM297.9 212.7l3.88 2.24v4.48l-3.88 2.24l-3.88 -2.24v-4.48zM313.4 226.1l3.88 2.24v4.48l-3.88 2.24l-3.88 -2.24v-4.48zM328.9 239.5l3.88 2.24v4.48l-3.88 2.24l-3.88 -2.24v-4.48zM344.4 266.4l3.88 2.24v4.48l-3.88 2.24l-3.88 -2.24v-4.48zM154.5 313.5l3.88 2.24v4.48l-3.88 2.24l-3.88 -2.24v-4.48zM356.0 326.9l3.88 2.24v4.48l-3.88 2.24l-3.88 -2.24v-4.48zM235.9 387.4l3.88 2.24v4.48l-3.88 2.24l-3.88 -2.24v-4.48zM313.4 400.8l3.88 2.24v4.48l-3.88 2.24l-3.88 -2.24v-4.48z"/><path fill="#f87aa8" stroke="#f87aa8" d="M154.5 152.2l3.88 2.24v4.48l-3.88 2.24l-3.88 -2.24v-4.48zM185.5 165.6l3.88 2.24v4.48l-3.88 2.24l-3.88 -2.24v-4.48zM255.3 192.5l3.88 2.24v4.48l-3.88 2.24l-3.88 -2.24v-4.48zM135.2 226.1l3.88 2.24v4.48l-3.88 2.24l-3.88 -2.24v-4.48zM332.8 246.3l3.88 2.24v4.48l-3.88 2.24l-3.88 -2.24v-4.48zM336.6 253.0l3.88 2.24v4.48l-3.88 2.24l-3.88 -2.24v-4.48zM150.7 306.7l3.88 2.24v4.48l-3.88 2.24l-3.88 -2.24v-4.48zM356.0 340.3l3.88 2.24v4.48l-3.88 2.24l-3.88 -2.24v-4.48zM197.2 360.5l3.88 2.24v4.48l-3.88 2.24l-3.88 -2.24v-4.48zM352.1 360.5l3.88 2.24v4.48l-3.88 2.24l-3.88 -2.24v-4.48zM208.8 367.2l3.88 2.24v4.48l-3.88 2.24l-3.88 -2.24v-4.48zM220.4 373.9l3.88 2.24v4.48l-3.88 2.24l-3.88 -2.24v-4.48zM224.3 380.7l3.88 2.24v4.48l-3.88 2.24l-3.88 -2.24v-4.48zM332.8 394.1l3.88 2.24v4.48l-3.88 2.24l-3.88 -2.24v-4.48zM266.9 400.8l3.88 2.24v4.48l-3.88 2.24l-3.88 -2.24v-4.48zM305.6 400.8l3.88 2.24v4.48l-3.88 2.24l-3.88 -2.24v-4.48zM321.1 400.8l3.88 2.24v4.48l-3.88 2.24l-3.88 -2.24v-4.48z"/><path fill="#f875a6" stroke="#f875a6" d="M177.8 165.6l3.88 2.24v4.48l-3.88 2.24l-3.88 -2.24v-4.48zM131.3 179.1l3.88 2.24v4.48l-3.88 2.24l-3.88 -2.24v-4.48zM301.8 219.4l3.88 2.24v4.48l-3.88 2.24l-3.88 -2.24v-4.48zM135.2 279.9l3.88 2.24v4.48l-3.88 2.24l-3.88 -2.24v-4.48zM352.1 293.3l3.88 2.24v4.48l-3.88 2.24l-3.88 -2.24v-4.48zM146.8 300.0l3.88 2.24v4.48l-3.88 2.24l-3.88 -2.24v-4.48zM356.0 300.0l3.88 2.24v4.48l-3.88 2.24l-3.88 -2.24v-4.48zM356.0 313.5l3.88 2.24v4.48l-3.88 2.24l-3.88 -2.24v-4.48zM181.7 347.1l3.88 2.24v4.48l-3.88 2.24l-3.88 -2.24v-4.48zM247.5 394.1l3.88 2.24v4.48l-3.88 2.24l-3.88 -2.24v-4.48zM274.6 400.8l3.88 2.24v4.48l-3.88 2.24l-3.88 -2.24v-4.48zM297.9 400.8l3.88 2.24v4.48l-3.88 2.24l-3.88 -2.24v-4.48z"/><path fill="#f871a4" stroke="#f871a4" d="M166.2 158.9l3.88 2.24v4.48l-3.88 2.24l-3.88 -2.24v-4.48zM170.0 165.6l3.88 2.24v4.48l-3.88 2.24l-3.88 -2.24v-4.48zM197.2 172.3l3.88 2.24v4.48l-3.88 2.24l-3.88 -2.24v-4.48zM204.9 172.3l3.88 2.24v4.48l-3.88 2.24l-3.88 -2.24v-4.48zM278.5 205.9l3.88 2.24v4.48l-3.88 2.24l-3.88 -2.24v-4.48zM340.5 259.7l3.88 2.24v4.48l-3.88 2.24l-3.88 -2.24v-4.48zM142.9 293.3l3.88 2.24v4.48l-3.88 2.24l-3.88 -2.24v-4.48zM352.1 347.1l3.88 2.24v4.48l-3.88 2.24l-3.88 -2.24v-4.48zM348.3 367.2l3.88 2.24v4.48l-3.88 2.24l-3.88 -2.24v-4.48zM282.4 400.8l3.88 2.24v4.48l-3.88 2.24l-3.88 -2.24v-4.48z"/><path fill="#f76ca3" stroke="#f76ca3" d="M158.4 158.9l3.88 2.24v4.48l-3.88 2.24l-3.88 -2.24v-4.48zM224.3 179.1l3.88 2.24v4.48l-3.88 2.24l-3.88 -2.24v-4.48zM243.7 185.8l3.88 2.24v4.48l-3.88 2.24l-3.88 -2.24v-4.48zM131.3 192.5l3.88 2.24v4.48l-3.88 2.24l-3.88 -2.24v-4.48zM290.1 212.7l3.88 2.24v4.48l-3.88 2.24l-3.88 -2.24v-4.48zM135.2 266.4l3.88 2.24v4.48l-3.88 2.24l-3.88 -2.24v-4.48zM348.3 286.6l3.88 2.24v4.48l-3.88 2.24l-3.88 -2.24v-4.48zM352.1 320.2l3.88 2.24v4.48l-3.88 2.24l-3.88 -2.24v-4.48zM232.0 380.7l3.88 2.24v4.48l-3.88 2.24l-3.88 -2.24v-4.48zM340.5 380.7l3.88 2.24v4.48l-3.88 2.24l-3.88 -2.24v-4.48zM336.6 387.4l3.88 2.24v4.48l-3.88 2.24l-3.88 -2.24v-4.48zM255.3 394.1l3.88 2.24v4.48l-3.88 2.24l-3.88 -2.24v-4.48zM290.1 400.8l3.88 2.24v4.48l-3.88 2.24l-3.88 -2.24v-4.48z"/><path fill="#f767a1" stroke="#f767a1" d="M142.9 172.3l3.88 2.24v4.48l-3.88 2.24l-3.88 -2.24v-4.48zM189.4 172.3l3.88 2.24v4.48l-3.88 2.24l-3.88 -2.24v-4.48zM208.8 179.1l3.88 2.24v4.48l-3.88 2.24l-3.88 -2.24v-4.48zM127.4 199.2l3.88 2.24v4.48l-3.88 2.24l-3.88 -2.24v-4.48zM266.9 199.2l3.88 2.24v4.48l-3.88 2.24l-3.88 -2.24v-4.48zM127.4 212.7l3.88 2.24v4.48l-3.88 2.24l-3.88 -2.24v-4.48zM317.3 232.8l3.88 2.24v4.48l-3.88 2.24l-3.88 -2.24v-4.48zM352.1 306.7l3.88 2.24v4.48l-3.88 2.24l-3.88 -2.24v-4.48zM173.9 333.6l3.88 2.24v4.48l-3.88 2.24l-3.88 -2.24v-4.48zM352.1 333.6l3.88 2.24v4.48l-3.88 2.24l-3.88 -2.24v-4.48zM348.3 353.8l3.88 2.24v4.48l-3.88 2.24l-3.88 -2.24v-4.48zM344.4 373.9l3.88 2.24v4.48l-3.88 2.24l-3.88 -2.24v-4.48zM243.7 387.4l3.88 2.24v4.48l-3.88 2.24l-3.88 -2.24v-4.48zM263.0 394.1l3.88 2.24v4.48l-3.88 2.24l-3.88 -2.24v-4.48zM317.3 394.1l3.88 2.24v4.48l-3.88 2.24l-3.88 -2.24v-4.48z"/><path fill="#f564a0" stroke="#f564a0" d="M146.8 165.6l3.88 2.24v4.48l-3.88 2.24l-3.88 -2.24v-4.48zM150.7 172.3l3.88 2.24v4.48l-3.88 2.24l-3.88 -2.24v-4.48zM139.0 179.1l3.88 2.24v4.48l-3.88 2.24l-3.88 -2.24v-4.48zM193.3 179.1l3.88 2.24v4.48l-3.88 2.24l-3.88 -2.24v-4.48zM201.0 179.1l3.88 2.24v4.48l-3.88 2.24l-3.88 -2.24v-4.48zM344.4 279.9l3.88 2.24v4.48l-3.88 2.24l-3.88 -2.24v-4.48zM139.0 286.6l3.88 2.24v4.48l-3.88 2.24l-3.88 -2.24v-4.48zM177.8 340.3l3.88 2.24v4.48l-3.88 2.24l-3.88 -2.24v-4.48zM193.3 353.8l3.88 2.24v4.48l-3.88 2.24l-3.88 -2.24v-4.48zM204.9 360.5l3.88 2.24v4.48l-3.88 2.24l-3.88 -2.24v-4.48zM216.5 367.2l3.88 2.24v4.48l-3.88 2.24l-3.88 -2.24v-4.48zM325.0 394.1l3.88 2.24v4.48l-3.88 2.24l-3.88 -2.24v-4.48z"/><path fill="#f35f9f" stroke="#f35f9f" d="M154.5 165.6l3.88 2.24v4.48l-3.88 2.24l-3.88 -2.24v-4.48zM216.5 179.1l3.88 2.24v4.48l-3.88 2.24l-3.88 -2.24v-4.48zM247.5 192.5l3.88 2.24v4.48l-3.88 2.24l-3.88 -2.24v-4.48zM131.3 219.4l3.88 2.24v4.48l-3.88 2.24l-3.88 -2.24v-4.48zM294.0 219.4l3.88 2.24v4.48l-3.88 2.24l-3.88 -2.24v-4.48zM139.0 259.7l3.88 2.24v4.48l-3.88 2.24l-3.88 -2.24v-4.48zM139.0 273.1l3.88 2.24v4.48l-3.88 2.24l-3.88 -2.24v-4.48zM170.0 326.9l3.88 2.24v4.48l-3.88 2.24l-3.88 -2.24v-4.48zM344.4 360.5l3.88 2.24v4.48l-3.88 2.24l-3.88 -2.24v-4.48zM328.9 387.4l3.88 2.24v4.48l-3.88 2.24l-3.88 -2.24v-4.48z"/><path fill="#f05a9e" stroke="#f05a9e" d="M162.3 165.6l3.88 2.24v4.48l-3.88 2.24l-3.88 -2.24v-4.48zM173.9 172.3l3.88 2.24v4.48l-3.88 2.24l-3.88 -2.24v-4.48zM135.2 185.8l3.88 2.24v4.48l-3.88 2.24l-3.88 -2.24v-4.48zM235.9 185.8l3.88 2.24v4.48l-3.88 2.24l-3.88 -2.24v-4.48zM259.1 199.2l3.88 2.24v4.48l-3.88 2.24l-3.88 -2.24v-4.48zM305.6 226.1l3.88 2.24v4.48l-3.88 2.24l-3.88 -2.24v-4.48zM321.1 239.5l3.88 2.24v4.48l-3.88 2.24l-3.88 -2.24v-4.48zM325.0 246.3l3.88 2.24v4.48l-3.88 2.24l-3.88 -2.24v-4.48zM340.5 273.1l3.88 2.24v4.48l-3.88 2.24l-3.88 -2.24v-4.48zM332.8 380.7l3.88 2.24v4.48l-3.88 2.24l-3.88 -2.24v-4.48zM251.4 387.4l3.88 2.24v4.48l-3.88 2.24l-3.88 -2.24v-4.48zM278.5 394.1l3.88 2.24v4.48l-3.88 2.24l-3.88 -2.24v-4.48zM301.8 394.1l3.88 2.24v4.48l-3.88 2.24l-3.88 -2.24v-4.48z"/><path fill="#ee579e" stroke="#ee579e" d="M150.7 158.9l3.88 2.24v4.48l-3.88 2.24l-3.88 -2.24v-4.48zM166.2 172.3l3.88 2.24v4.48l-3.88 2.24l-3.88 -2.24v-4.48zM181.7 172.3l3.88 2.24v4.48l-3.88 2.24l-3.88 -2.24v-4.48zM146.8 179.1l3.88 2.24v4.48l-3.88 2.24l-3.88 -2.24v-4.48zM228.2 185.8l3.88 2.24v4.48l-3.88 2.24l-3.88 -2.24v-4.48zM131.3 205.9l3.88 2.24v4.48l-3.88 2.24l-3.88 -2.24v-4.48zM142.9 253.0l3.88 2.24v4.48l-3.88 2.24l-3.88 -2.24v-4.48zM336.6 266.4l3.88 2.24v4.48l-3.88 2.24l-3.88 -2.24v-4.48zM166.2 320.2l3.88 2.24v4.48l-3.88 2.24l-3.88 -2.24v-4.48zM228.2 373.9l3.88 2.24v4.48l-3.88 2.24l-3.88 -2.24v-4.48zM239.8 380.7l3.88 2.24v4.48l-3.88 2.24l-3.88 -2.24v-4.48zM270.8 394.1l3.88 2.24v4.48l-3.88 2.24l-3.88 -2.24v-4.48zM286.3 394.1l3.88 2.24v4.48l-3.88 2.24l-3.88 -2.24v-4.48zM294.0 394.1l3.88 2.24v4.48l-3.88 2.24l-3.88 -2.24v-4.48zM309.5 394.1l3.88 2.24v4.48l-3.88 2.24l-3.88 -2.24v-4.48z"/><path fill="#ec529d" stroke="#ec529d" d="M158.4 172.3l3.88 2.24v4.48l-3.88 2.24l-3.88 -2.24v-4.48zM162.3 179.1l3.88 2.24v4.48l-3.88 2.24l-3.88 -2.24v-4.48zM185.5 179.1l3.88 2.24v4.48l-3.88 2.24l-3.88 -2.24v-4.48zM212.7 185.8l3.88 2.24v4.48l-3.88 2.24l-3.88 -2.24v-4.48zM139.0 192.5l3.88 2.24v4.48l-3.88 2.24l-3.88 -2.24v-4.48zM135.2 199.2l3.88 2.24v4.48l-3.88 2.24l-3.88 -2.24v-4.48zM146.8 246.3l3.88 2.24v4.48l-3.88 2.24l-3.88 -2.24v-4.48zM328.9 253.0l3.88 2.24v4.48l-3.88 2.24l-3.88 -2.24v-4.48zM348.3 326.9l3.88 2.24v4.48l-3.88 2.24l-3.88 -2.24v-4.48zM348.3 340.3l3.88 2.24v4.48l-3.88 2.24l-3.88 -2.24v-4.48zM344.4 347.1l3.88 2.24v4.48l-3.88 2.24l-3.88 -2.24v-4.48zM340.5 367.2l3.88 2.24v4.48l-3.88 2.24l-3.88 -2.24v-4.48zM336.6 373.9l3.88 2.24v4.48l-3.88 2.24l-3.88 -2.24v-4.48zM321.1 387.4l3.88 2.24v4.48l-3.88 2.24l-3.88 -2.24v-4.48z"/><path fill="#ea4d9c" stroke="#ea4d9c" d="M154.5 179.1l3.88 2.24v4.48l-3.88 2.24l-3.88 -2.24v-4.48zM170.0 179.1l3.88 2.24v4.48l-3.88 2.24l-3.88 -2.24v-4.48zM177.8 179.1l3.88 2.24v4.48l-3.88 2.24l-3.88 -2.24v-4.48zM142.9 185.8l3.88 2.24v4.48l-3.88 2.24l-3.88 -2.24v-4.48zM181.7 185.8l3.88 2.24v4.48l-3.88 2.24l-3.88 -2.24v-4.48zM220.4 185.8l3.88 2.24v4.48l-3.88 2.24l-3.88 -2.24v-4.48zM270.8 205.9l3.88 2.24v4.48l-3.88 2.24l-3.88 -2.24v-4.48zM282.4 212.7l3.88 2.24v4.48l-3.88 2.24l-3.88 -2.24v-4.48zM332.8 259.7l3.88 2.24v4.48l-3.88 2.24l-3.88 -2.24v-4.48zM344.4 333.6l3.88 2.24v4.48l-3.88 2.24l-3.88 -2.24v-4.48zM189.4 347.1l3.88 2.24v4.48l-3.88 2.24l-3.88 -2.24v-4.48zM212.7 360.5l3.88 2.24v4.48l-3.88 2.24l-3.88 -2.24v-4.48zM224.3 367.2l3.88 2.24v4.48l-3.88 2.24l-3.88 -2.24v-4.48zM247.5 380.7l3.88 2.24v4.48l-3.88 2.24l-3.88 -2.24v-4.48zM259.1 387.4l3.88 2.24v4.48l-3.88 2.24l-3.88 -2.24v-4.48z"/><path fill="#e84a9b" stroke="#e84a9b" d="M173.9 185.8l3.88 2.24v4.48l-3.88 2.24l-3.88 -2.24v-4.48zM251.4 199.2l3.88 2.24v4.48l-3.88 2.24l-3.88 -2.24v-4.48zM309.5 232.8l3.88 2.24v4.48l-3.88 2.24l-3.88 -2.24v-4.48zM146.8 259.7l3.88 2.24v4.48l-3.88 2.24l-3.88 -2.24v-4.48zM142.9 266.4l3.88 2.24v4.48l-3.88 2.24l-3.88 -2.24v-4.48zM142.9 279.9l3.88 2.24v4.48l-3.88 2.24l-3.88 -2.24v-4.48zM348.3 313.5l3.88 2.24v4.48l-3.88 2.24l-3.88 -2.24v-4.48zM201.0 353.8l3.88 2.24v4.48l-3.88 2.24l-3.88 -2.24v-4.48zM340.5 353.8l3.88 2.24v4.48l-3.88 2.24l-3.88 -2.24v-4.48zM313.4 387.4l3.88 2.24v4.48l-3.88 2.24l-3.88 -2.24v-4.48z"/><path fill="#e5459a" stroke="#e5459a" d="M150.7 185.8l3.88 2.24v4.48l-3.88 2.24l-3.88 -2.24v-4.48zM239.8 192.5l3.88 2.24v4.48l-3.88 2.24l-3.88 -2.24v-4.48zM142.9 199.2l3.88 2.24v4.48l-3.88 2.24l-3.88 -2.24v-4.48zM135.2 212.7l3.88 2.24v4.48l-3.88 2.24l-3.88 -2.24v-4.48zM297.9 226.1l3.88 2.24v4.48l-3.88 2.24l-3.88 -2.24v-4.48zM348.3 300.0l3.88 2.24v4.48l-3.88 2.24l-3.88 -2.24v-4.48zM344.4 306.7l3.88 2.24v4.48l-3.88 2.24l-3.88 -2.24v-4.48zM344.4 320.2l3.88 2.24v4.48l-3.88 2.24l-3.88 -2.24v-4.48zM317.3 380.7l3.88 2.24v4.48l-3.88 2.24l-3.88 -2.24v-4.48zM325.0 380.7l3.88 2.24v4.48l-3.88 2.24l-3.88 -2.24v-4.48zM297.9 387.4l3.88 2.24v4.48l-3.88 2.24l-3.88 -2.24v-4.48zM305.6 387.4l3.88 2.24v4.48l-3.88 2.24l-3.88 -2.24v-4.48z"/><path fill="#e34099" stroke="#e34099" d="M158.4 185.8l3.88 2.24v4.48l-3.88 2.24l-3.88 -2.24v-4.48zM204.9 185.8l3.88 2.24v4.48l-3.88 2.24l-3.88 -2.24v-4.48zM146.8 192.5l3.88 2.24v4.48l-3.88 2.24l-3.88 -2.24v-4.48zM313.4 239.5l3.88 2.24v4.48l-3.88 2.24l-3.88 -2.24v-4.48zM344.4 293.3l3.88 2.24v4.48l-3.88 2.24l-3.88 -2.24v-4.48zM154.5 300.0l3.88 2.24v4.48l-3.88 2.24l-3.88 -2.24v-4.48zM158.4 306.7l3.88 2.24v4.48l-3.88 2.24l-3.88 -2.24v-4.48zM162.3 313.5l3.88 2.24v4.48l-3.88 2.24l-3.88 -2.24v-4.48zM185.5 340.3l3.88 2.24v4.48l-3.88 2.24l-3.88 -2.24v-4.48zM220.4 360.5l3.88 2.24v4.48l-3.88 2.24l-3.88 -2.24v-4.48zM336.6 360.5l3.88 2.24v4.48l-3.88 2.24l-3.88 -2.24v-4.48zM235.9 373.9l3.88 2.24v4.48l-3.88 2.24l-3.88 -2.24v-4.48zM328.9 373.9l3.88 2.24v4.48l-3.88 2.24l-3.88 -2.24v-4.48zM282.4 387.4l3.88 2.24v4.48l-3.88 2.24l-3.88 -2.24v-4.48z"/><path fill="#e13d99" stroke="#e13d99" d="M189.4 185.8l3.88 2.24v4.48l-3.88 2.24l-3.88 -2.24v-4.48zM197.2 185.8l3.88 2.24v4.48l-3.88 2.24l-3.88 -2.24v-4.48zM139.0 205.9l3.88 2.24v4.48l-3.88 2.24l-3.88 -2.24v-4.48zM274.6 212.7l3.88 2.24v4.48l-3.88 2.24l-3.88 -2.24v-4.48zM286.3 219.4l3.88 2.24v4.48l-3.88 2.24l-3.88 -2.24v-4.48zM150.7 239.5l3.88 2.24v4.48l-3.88 2.24l-3.88 -2.24v-4.48zM146.8 273.1l3.88 2.24v4.48l-3.88 2.24l-3.88 -2.24v-4.48zM340.5 340.3l3.88 2.24v4.48l-3.88 2.24l-3.88 -2.24v-4.48zM232.0 367.2l3.88 2.24v4.48l-3.88 2.24l-3.88 -2.24v-4.48zM332.8 367.2l3.88 2.24v4.48l-3.88 2.24l-3.88 -2.24v-4.48zM266.9 387.4l3.88 2.24v4.48l-3.88 2.24l-3.88 -2.24v-4.48zM274.6 387.4l3.88 2.24v4.48l-3.88 2.24l-3.88 -2.24v-4.48zM290.1 387.4l3.88 2.24v4.48l-3.88 2.24l-3.88 -2.24v-4.48z"/><path fill="#df3898" stroke="#df3898" d="M166.2 185.8l3.88 2.24v4.48l-3.88 2.24l-3.88 -2.24v-4.48zM154.5 192.5l3.88 2.24v4.48l-3.88 2.24l-3.88 -2.24v-4.48zM162.3 192.5l3.88 2.24v4.48l-3.88 2.24l-3.88 -2.24v-4.48zM185.5 192.5l3.88 2.24v4.48l-3.88 2.24l-3.88 -2.24v-4.48zM201.0 192.5l3.88 2.24v4.48l-3.88 2.24l-3.88 -2.24v-4.48zM224.3 192.5l3.88 2.24v4.48l-3.88 2.24l-3.88 -2.24v-4.48zM232.0 192.5l3.88 2.24v4.48l-3.88 2.24l-3.88 -2.24v-4.48zM255.3 205.9l3.88 2.24v4.48l-3.88 2.24l-3.88 -2.24v-4.48zM263.0 205.9l3.88 2.24v4.48l-3.88 2.24l-3.88 -2.24v-4.48zM150.7 253.0l3.88 2.24v4.48l-3.88 2.24l-3.88 -2.24v-4.48zM340.5 286.6l3.88 2.24v4.48l-3.88 2.24l-3.88 -2.24v-4.48zM150.7 293.3l3.88 2.24v4.48l-3.88 2.24l-3.88 -2.24v-4.48zM336.6 347.1l3.88 2.24v4.48l-3.88 2.24l-3.88 -2.24v-4.48zM228.2 360.5l3.88 2.24v4.48l-3.88 2.24l-3.88 -2.24v-4.48zM255.3 380.7l3.88 2.24v4.48l-3.88 2.24l-3.88 -2.24v-4.48z"/><path fill="#dc3397" stroke="#dc3397" d="M216.5 192.5l3.88 2.24v4.48l-3.88 2.24l-3.88 -2.24v-4.48zM158.4 199.2l3.88 2.24v4.48l-3.88 2.24l-3.88 -2.24v-4.48zM228.2 199.2l3.88 2.24v4.48l-3.88 2.24l-3.88 -2.24v-4.48zM243.7 199.2l3.88 2.24v4.48l-3.88 2.24l-3.88 -2.24v-4.48zM247.5 205.9l3.88 2.24v4.48l-3.88 2.24l-3.88 -2.24v-4.48zM266.9 212.7l3.88 2.24v4.48l-3.88 2.24l-3.88 -2.24v-4.48zM139.0 219.4l3.88 2.24v4.48l-3.88 2.24l-3.88 -2.24v-4.48zM278.5 219.4l3.88 2.24v4.48l-3.88 2.24l-3.88 -2.24v-4.48zM146.8 232.8l3.88 2.24v4.48l-3.88 2.24l-3.88 -2.24v-4.48zM146.8 286.6l3.88 2.24v4.48l-3.88 2.24l-3.88 -2.24v-4.48zM162.3 300.0l3.88 2.24v4.48l-3.88 2.24l-3.88 -2.24v-4.48zM340.5 326.9l3.88 2.24v4.48l-3.88 2.24l-3.88 -2.24v-4.48zM181.7 333.6l3.88 2.24v4.48l-3.88 2.24l-3.88 -2.24v-4.48zM208.8 353.8l3.88 2.24v4.48l-3.88 2.24l-3.88 -2.24v-4.48zM216.5 353.8l3.88 2.24v4.48l-3.88 2.24l-3.88 -2.24v-4.48zM321.1 373.9l3.88 2.24v4.48l-3.88 2.24l-3.88 -2.24v-4.48z"/><path fill="#d93095" stroke="#d93095" d="M177.8 192.5l3.88 2.24v4.48l-3.88 2.24l-3.88 -2.24v-4.48zM150.7 199.2l3.88 2.24v4.48l-3.88 2.24l-3.88 -2.24v-4.48zM235.9 199.2l3.88 2.24v4.48l-3.88 2.24l-3.88 -2.24v-4.48zM146.8 205.9l3.88 2.24v4.48l-3.88 2.24l-3.88 -2.24v-4.48zM150.7 212.7l3.88 2.24v4.48l-3.88 2.24l-3.88 -2.24v-4.48zM142.9 226.1l3.88 2.24v4.48l-3.88 2.24l-3.88 -2.24v-4.48zM317.3 246.3l3.88 2.24v4.48l-3.88 2.24l-3.88 -2.24v-4.48zM154.5 259.7l3.88 2.24v4.48l-3.88 2.24l-3.88 -2.24v-4.48zM150.7 266.4l3.88 2.24v4.48l-3.88 2.24l-3.88 -2.24v-4.48zM336.6 279.9l3.88 2.24v4.48l-3.88 2.24l-3.88 -2.24v-4.48zM154.5 286.6l3.88 2.24v4.48l-3.88 2.24l-3.88 -2.24v-4.48zM173.9 320.2l3.88 2.24v4.48l-3.88 2.24l-3.88 -2.24v-4.48zM328.9 360.5l3.88 2.24v4.48l-3.88 2.24l-3.88 -2.24v-4.48zM325.0 367.2l3.88 2.24v4.48l-3.88 2.24l-3.88 -2.24v-4.48zM243.7 373.9l3.88 2.24v4.48l-3.88 2.24l-3.88 -2.24v-4.48zM263.0 380.7l3.88 2.24v4.48l-3.88 2.24l-3.88 -2.24v-4.48z"/><path fill="#d52b93" stroke="#d52b93" d="M193.3 192.5l3.88 2.24v4.48l-3.88 2.24l-3.88 -2.24v-4.48zM208.8 192.5l3.88 2.24v4.48l-3.88 2.24l-3.88 -2.24v-4.48zM173.9 199.2l3.88 2.24v4.48l-3.88 2.24l-3.88 -2.24v-4.48zM142.9 212.7l3.88 2.24v4.48l-3.88 2.24l-3.88 -2.24v-4.48zM270.8 219.4l3.88 2.24v4.48l-3.88 2.24l-3.88 -2.24v-4.48zM290.1 226.1l3.88 2.24v4.48l-3.88 2.24l-3.88 -2.24v-4.48zM294.0 232.8l3.88 2.24v4.48l-3.88 2.24l-3.88 -2.24v-4.48zM301.8 232.8l3.88 2.24v4.48l-3.88 2.24l-3.88 -2.24v-4.48zM158.4 239.5l3.88 2.24v4.48l-3.88 2.24l-3.88 -2.24v-4.48zM305.6 239.5l3.88 2.24v4.48l-3.88 2.24l-3.88 -2.24v-4.48zM321.1 253.0l3.88 2.24v4.48l-3.88 2.24l-3.88 -2.24v-4.48zM325.0 259.7l3.88 2.24v4.48l-3.88 2.24l-3.88 -2.24v-4.48zM328.9 266.4l3.88 2.24v4.48l-3.88 2.24l-3.88 -2.24v-4.48zM154.5 273.1l3.88 2.24v4.48l-3.88 2.24l-3.88 -2.24v-4.48zM332.8 273.1l3.88 2.24v4.48l-3.88 2.24l-3.88 -2.24v-4.48zM150.7 279.9l3.88 2.24v4.48l-3.88 2.24l-3.88 -2.24v-4.48zM340.5 300.0l3.88 2.24v4.48l-3.88 2.24l-3.88 -2.24v-4.48zM170.0 313.5l3.88 2.24v4.48l-3.88 2.24l-3.88 -2.24v-4.48zM340.5 313.5l3.88 2.24v4.48l-3.88 2.24l-3.88 -2.24v-4.48zM177.8 326.9l3.88 2.24v4.48l-3.88 2.24l-3.88 -2.24v-4.48zM336.6 333.6l3.88 2.24v4.48l-3.88 2.24l-3.88 -2.24v-4.48zM332.8 340.3l3.88 2.24v4.48l-3.88 2.24l-3.88 -2.24v-4.48zM197.2 347.1l3.88 2.24v4.48l-3.88 2.24l-3.88 -2.24v-4.48zM332.8 353.8l3.88 2.24v4.48l-3.88 2.24l-3.88 -2.24v-4.48zM286.3 380.7l3.88 2.24v4.48l-3.88 2.24l-3.88 -2.24v-4.48zM309.5 380.7l3.88 2.24v4.48l-3.88 2.24l-3.88 -2.24v-4.48z"/><path fill="#d02690" stroke="#d02690" d="M170.0 192.5l3.88 2.24v4.48l-3.88 2.24l-3.88 -2.24v-4.48zM166.2 199.2l3.88 2.24v4.48l-3.88 2.24l-3.88 -2.24v-4.48zM204.9 199.2l3.88 2.24v4.48l-3.88 2.24l-3.88 -2.24v-4.48zM212.7 199.2l3.88 2.24v4.48l-3.88 2.24l-3.88 -2.24v-4.48zM220.4 199.2l3.88 2.24v4.48l-3.88 2.24l-3.88 -2.24v-4.48zM170.0 205.9l3.88 2.24v4.48l-3.88 2.24l-3.88 -2.24v-4.48zM177.8 205.9l3.88 2.24v4.48l-3.88 2.24l-3.88 -2.24v-4.48zM239.8 205.9l3.88 2.24v4.48l-3.88 2.24l-3.88 -2.24v-4.48zM158.4 212.7l3.88 2.24v4.48l-3.88 2.24l-3.88 -2.24v-4.48zM259.1 212.7l3.88 2.24v4.48l-3.88 2.24l-3.88 -2.24v-4.48zM146.8 219.4l3.88 2.24v4.48l-3.88 2.24l-3.88 -2.24v-4.48zM162.3 219.4l3.88 2.24v4.48l-3.88 2.24l-3.88 -2.24v-4.48zM150.7 226.1l3.88 2.24v4.48l-3.88 2.24l-3.88 -2.24v-4.48zM282.4 226.1l3.88 2.24v4.48l-3.88 2.24l-3.88 -2.24v-4.48zM154.5 232.8l3.88 2.24v4.48l-3.88 2.24l-3.88 -2.24v-4.48zM154.5 246.3l3.88 2.24v4.48l-3.88 2.24l-3.88 -2.24v-4.48zM158.4 293.3l3.88 2.24v4.48l-3.88 2.24l-3.88 -2.24v-4.48zM336.6 293.3l3.88 2.24v4.48l-3.88 2.24l-3.88 -2.24v-4.48zM166.2 306.7l3.88 2.24v4.48l-3.88 2.24l-3.88 -2.24v-4.48zM336.6 320.2l3.88 2.24v4.48l-3.88 2.24l-3.88 -2.24v-4.48zM193.3 340.3l3.88 2.24v4.48l-3.88 2.24l-3.88 -2.24v-4.48zM204.9 347.1l3.88 2.24v4.48l-3.88 2.24l-3.88 -2.24v-4.48zM239.8 367.2l3.88 2.24v4.48l-3.88 2.24l-3.88 -2.24v-4.48zM251.4 373.9l3.88 2.24v4.48l-3.88 2.24l-3.88 -2.24v-4.48zM313.4 373.9l3.88 2.24v4.48l-3.88 2.24l-3.88 -2.24v-4.48zM278.5 380.7l3.88 2.24v4.48l-3.88 2.24l-3.88 -2.24v-4.48zM294.0 380.7l3.88 2.24v4.48l-3.88 2.24l-3.88 -2.24v-4.48zM301.8 380.7l3.88 2.24v4.48l-3.88 2.24l-3.88 -2.24v-4.48z"/><path fill="#cd238f" stroke="#cd238f" d="M181.7 199.2l3.88 2.24v4.48l-3.88 2.24l-3.88 -2.24v-4.48zM197.2 199.2l3.88 2.24v4.48l-3.88 2.24l-3.88 -2.24v-4.48zM154.5 205.9l3.88 2.24v4.48l-3.88 2.24l-3.88 -2.24v-4.48zM154.5 219.4l3.88 2.24v4.48l-3.88 2.24l-3.88 -2.24v-4.48zM158.4 226.1l3.88 2.24v4.48l-3.88 2.24l-3.88 -2.24v-4.48zM162.3 232.8l3.88 2.24v4.48l-3.88 2.24l-3.88 -2.24v-4.48zM309.5 246.3l3.88 2.24v4.48l-3.88 2.24l-3.88 -2.24v-4.48zM158.4 253.0l3.88 2.24v4.48l-3.88 2.24l-3.88 -2.24v-4.48zM158.4 266.4l3.88 2.24v4.48l-3.88 2.24l-3.88 -2.24v-4.48zM158.4 279.9l3.88 2.24v4.48l-3.88 2.24l-3.88 -2.24v-4.48zM166.2 279.9l3.88 2.24v4.48l-3.88 2.24l-3.88 -2.24v-4.48zM336.6 306.7l3.88 2.24v4.48l-3.88 2.24l-3.88 -2.24v-4.48zM185.5 326.9l3.88 2.24v4.48l-3.88 2.24l-3.88 -2.24v-4.48zM332.8 326.9l3.88 2.24v4.48l-3.88 2.24l-3.88 -2.24v-4.48zM197.2 333.6l3.88 2.24v4.48l-3.88 2.24l-3.88 -2.24v-4.48zM328.9 347.1l3.88 2.24v4.48l-3.88 2.24l-3.88 -2.24v-4.48zM321.1 360.5l3.88 2.24v4.48l-3.88 2.24l-3.88 -2.24v-4.48zM317.3 367.2l3.88 2.24v4.48l-3.88 2.24l-3.88 -2.24v-4.48z"/><path fill="#c91e8c" stroke="#c91e8c" d="M189.4 199.2l3.88 2.24v4.48l-3.88 2.24l-3.88 -2.24v-4.48zM216.5 205.9l3.88 2.24v4.48l-3.88 2.24l-3.88 -2.24v-4.48zM224.3 205.9l3.88 2.24v4.48l-3.88 2.24l-3.88 -2.24v-4.48zM263.0 219.4l3.88 2.24v4.48l-3.88 2.24l-3.88 -2.24v-4.48zM166.2 239.5l3.88 2.24v4.48l-3.88 2.24l-3.88 -2.24v-4.48zM166.2 253.0l3.88 2.24v4.48l-3.88 2.24l-3.88 -2.24v-4.48zM313.4 253.0l3.88 2.24v4.48l-3.88 2.24l-3.88 -2.24v-4.48zM162.3 259.7l3.88 2.24v4.48l-3.88 2.24l-3.88 -2.24v-4.48zM166.2 266.4l3.88 2.24v4.48l-3.88 2.24l-3.88 -2.24v-4.48zM162.3 273.1l3.88 2.24v4.48l-3.88 2.24l-3.88 -2.24v-4.48zM332.8 300.0l3.88 2.24v4.48l-3.88 2.24l-3.88 -2.24v-4.48zM173.9 306.7l3.88 2.24v4.48l-3.88 2.24l-3.88 -2.24v-4.48zM189.4 333.6l3.88 2.24v4.48l-3.88 2.24l-3.88 -2.24v-4.48zM201.0 340.3l3.88 2.24v4.48l-3.88 2.24l-3.88 -2.24v-4.48zM224.3 353.8l3.88 2.24v4.48l-3.88 2.24l-3.88 -2.24v-4.48zM325.0 353.8l3.88 2.24v4.48l-3.88 2.24l-3.88 -2.24v-4.48zM309.5 367.2l3.88 2.24v4.48l-3.88 2.24l-3.88 -2.24v-4.48zM297.9 373.9l3.88 2.24v4.48l-3.88 2.24l-3.88 -2.24v-4.48zM270.8 380.7l3.88 2.24v4.48l-3.88 2.24l-3.88 -2.24v-4.48z"/><path fill="#c4198a" stroke="#c4198a" d="M162.3 205.9l3.88 2.24v4.48l-3.88 2.24l-3.88 -2.24v-4.48zM232.0 205.9l3.88 2.24v4.48l-3.88 2.24l-3.88 -2.24v-4.48zM166.2 212.7l3.88 2.24v4.48l-3.88 2.24l-3.88 -2.24v-4.48zM251.4 212.7l3.88 2.24v4.48l-3.88 2.24l-3.88 -2.24v-4.48zM247.5 219.4l3.88 2.24v4.48l-3.88 2.24l-3.88 -2.24v-4.48zM166.2 226.1l3.88 2.24v4.48l-3.88 2.24l-3.88 -2.24v-4.48zM170.0 232.8l3.88 2.24v4.48l-3.88 2.24l-3.88 -2.24v-4.48zM297.9 239.5l3.88 2.24v4.48l-3.88 2.24l-3.88 -2.24v-4.48zM162.3 246.3l3.88 2.24v4.48l-3.88 2.24l-3.88 -2.24v-4.48zM162.3 286.6l3.88 2.24v4.48l-3.88 2.24l-3.88 -2.24v-4.48zM332.8 286.6l3.88 2.24v4.48l-3.88 2.24l-3.88 -2.24v-4.48zM170.0 300.0l3.88 2.24v4.48l-3.88 2.24l-3.88 -2.24v-4.48zM177.8 313.5l3.88 2.24v4.48l-3.88 2.24l-3.88 -2.24v-4.48zM193.3 326.9l3.88 2.24v4.48l-3.88 2.24l-3.88 -2.24v-4.48zM325.0 340.3l3.88 2.24v4.48l-3.88 2.24l-3.88 -2.24v-4.48zM212.7 347.1l3.88 2.24v4.48l-3.88 2.24l-3.88 -2.24v-4.48zM321.1 347.1l3.88 2.24v4.48l-3.88 2.24l-3.88 -2.24v-4.48zM290.1 373.9l3.88 2.24v4.48l-3.88 2.24l-3.88 -2.24v-4.48zM305.6 373.9l3.88 2.24v4.48l-3.88 2.24l-3.88 -2.24v-4.48z"/><path fill="#c21688" stroke="#c21688" d="M185.5 205.9l3.88 2.24v4.48l-3.88 2.24l-3.88 -2.24v-4.48zM201.0 205.9l3.88 2.24v4.48l-3.88 2.24l-3.88 -2.24v-4.48zM208.8 205.9l3.88 2.24v4.48l-3.88 2.24l-3.88 -2.24v-4.48zM189.4 212.7l3.88 2.24v4.48l-3.88 2.24l-3.88 -2.24v-4.48zM228.2 212.7l3.88 2.24v4.48l-3.88 2.24l-3.88 -2.24v-4.48zM235.9 212.7l3.88 2.24v4.48l-3.88 2.24l-3.88 -2.24v-4.48zM170.0 219.4l3.88 2.24v4.48l-3.88 2.24l-3.88 -2.24v-4.48zM239.8 219.4l3.88 2.24v4.48l-3.88 2.24l-3.88 -2.24v-4.48zM274.6 226.1l3.88 2.24v4.48l-3.88 2.24l-3.88 -2.24v-4.48zM286.3 232.8l3.88 2.24v4.48l-3.88 2.24l-3.88 -2.24v-4.48zM317.3 259.7l3.88 2.24v4.48l-3.88 2.24l-3.88 -2.24v-4.48zM170.0 273.1l3.88 2.24v4.48l-3.88 2.24l-3.88 -2.24v-4.48zM325.0 273.1l3.88 2.24v4.48l-3.88 2.24l-3.88 -2.24v-4.48zM166.2 293.3l3.88 2.24v4.48l-3.88 2.24l-3.88 -2.24v-4.48zM328.9 293.3l3.88 2.24v4.48l-3.88 2.24l-3.88 -2.24v-4.48zM185.5 313.5l3.88 2.24v4.48l-3.88 2.24l-3.88 -2.24v-4.48zM332.8 313.5l3.88 2.24v4.48l-3.88 2.24l-3.88 -2.24v-4.48zM181.7 320.2l3.88 2.24v4.48l-3.88 2.24l-3.88 -2.24v-4.48zM328.9 320.2l3.88 2.24v4.48l-3.88 2.24l-3.88 -2.24v-4.48zM204.9 333.6l3.88 2.24v4.48l-3.88 2.24l-3.88 -2.24v-4.48zM328.9 333.6l3.88 2.24v4.48l-3.88 2.24l-3.88 -2.24v-4.48zM317.3 353.8l3.88 2.24v4.48l-3.88 2.24l-3.88 -2.24v-4.48zM235.9 360.5l3.88 2.24v4.48l-3.88 2.24l-3.88 -2.24v-4.48zM259.1 373.9l3.88 2.24v4.48l-3.88 2.24l-3.88 -2.24v-4.48z"/><path fill="#bd1186" stroke="#bd1186" d="M193.3 205.9l3.88 2.24v4.48l-3.88 2.24l-3.88 -2.24v-4.48zM173.9 212.7l3.88 2.24v4.48l-3.88 2.24l-3.88 -2.24v-4.48zM181.7 212.7l3.88 2.24v4.48l-3.88 2.24l-3.88 -2.24v-4.48zM197.2 212.7l3.88 2.24v4.48l-3.88 2.24l-3.88 -2.24v-4.48zM204.9 212.7l3.88 2.24v4.48l-3.88 2.24l-3.88 -2.24v-4.48zM212.7 212.7l3.88 2.24v4.48l-3.88 2.24l-3.88 -2.24v-4.48zM177.8 219.4l3.88 2.24v4.48l-3.88 2.24l-3.88 -2.24v-4.48zM255.3 219.4l3.88 2.24v4.48l-3.88 2.24l-3.88 -2.24v-4.48zM173.9 226.1l3.88 2.24v4.48l-3.88 2.24l-3.88 -2.24v-4.48zM321.1 266.4l3.88 2.24v4.48l-3.88 2.24l-3.88 -2.24v-4.48zM170.0 286.6l3.88 2.24v4.48l-3.88 2.24l-3.88 -2.24v-4.48zM325.0 286.6l3.88 2.24v4.48l-3.88 2.24l-3.88 -2.24v-4.48zM177.8 300.0l3.88 2.24v4.48l-3.88 2.24l-3.88 -2.24v-4.48zM328.9 306.7l3.88 2.24v4.48l-3.88 2.24l-3.88 -2.24v-4.48zM189.4 320.2l3.88 2.24v4.48l-3.88 2.24l-3.88 -2.24v-4.48zM325.0 326.9l3.88 2.24v4.48l-3.88 2.24l-3.88 -2.24v-4.48zM208.8 340.3l3.88 2.24v4.48l-3.88 2.24l-3.88 -2.24v-4.48zM309.5 353.8l3.88 2.24v4.48l-3.88 2.24l-3.88 -2.24v-4.48zM313.4 360.5l3.88 2.24v4.48l-3.88 2.24l-3.88 -2.24v-4.48zM247.5 367.2l3.88 2.24v4.48l-3.88 2.24l-3.88 -2.24v-4.48z"/><path fill="#b90d84" stroke="#b90d84" d="M243.7 212.7l3.88 2.24v4.48l-3.88 2.24l-3.88 -2.24v-4.48zM232.0 219.4l3.88 2.24v4.48l-3.88 2.24l-3.88 -2.24v-4.48zM259.1 226.1l3.88 2.24v4.48l-3.88 2.24l-3.88 -2.24v-4.48zM173.9 239.5l3.88 2.24v4.48l-3.88 2.24l-3.88 -2.24v-4.48zM170.0 246.3l3.88 2.24v4.48l-3.88 2.24l-3.88 -2.24v-4.48zM301.8 246.3l3.88 2.24v4.48l-3.88 2.24l-3.88 -2.24v-4.48zM173.9 279.9l3.88 2.24v4.48l-3.88 2.24l-3.88 -2.24v-4.48zM328.9 279.9l3.88 2.24v4.48l-3.88 2.24l-3.88 -2.24v-4.48zM177.8 286.6l3.88 2.24v4.48l-3.88 2.24l-3.88 -2.24v-4.48zM173.9 293.3l3.88 2.24v4.48l-3.88 2.24l-3.88 -2.24v-4.48zM216.5 340.3l3.88 2.24v4.48l-3.88 2.24l-3.88 -2.24v-4.48zM305.6 360.5l3.88 2.24v4.48l-3.88 2.24l-3.88 -2.24v-4.48zM266.9 373.9l3.88 2.24v4.48l-3.88 2.24l-3.88 -2.24v-4.48z"/><path fill="#b60982" stroke="#b60982" d="M220.4 212.7l3.88 2.24v4.48l-3.88 2.24l-3.88 -2.24v-4.48zM193.3 219.4l3.88 2.24v4.48l-3.88 2.24l-3.88 -2.24v-4.48zM216.5 219.4l3.88 2.24v4.48l-3.88 2.24l-3.88 -2.24v-4.48zM224.3 219.4l3.88 2.24v4.48l-3.88 2.24l-3.88 -2.24v-4.48zM266.9 226.1l3.88 2.24v4.48l-3.88 2.24l-3.88 -2.24v-4.48zM278.5 232.8l3.88 2.24v4.48l-3.88 2.24l-3.88 -2.24v-4.48zM290.1 239.5l3.88 2.24v4.48l-3.88 2.24l-3.88 -2.24v-4.48zM177.8 246.3l3.88 2.24v4.48l-3.88 2.24l-3.88 -2.24v-4.48zM170.0 259.7l3.88 2.24v4.48l-3.88 2.24l-3.88 -2.24v-4.48zM177.8 259.7l3.88 2.24v4.48l-3.88 2.24l-3.88 -2.24v-4.48zM177.8 273.1l3.88 2.24v4.48l-3.88 2.24l-3.88 -2.24v-4.48zM181.7 306.7l3.88 2.24v4.48l-3.88 2.24l-3.88 -2.24v-4.48zM197.2 320.2l3.88 2.24v4.48l-3.88 2.24l-3.88 -2.24v-4.48zM321.1 320.2l3.88 2.24v4.48l-3.88 2.24l-3.88 -2.24v-4.48zM201.0 326.9l3.88 2.24v4.48l-3.88 2.24l-3.88 -2.24v-4.48zM321.1 333.6l3.88 2.24v4.48l-3.88 2.24l-3.88 -2.24v-4.48zM317.3 340.3l3.88 2.24v4.48l-3.88 2.24l-3.88 -2.24v-4.48zM220.4 347.1l3.88 2.24v4.48l-3.88 2.24l-3.88 -2.24v-4.48zM313.4 347.1l3.88 2.24v4.48l-3.88 2.24l-3.88 -2.24v-4.48zM232.0 353.8l3.88 2.24v4.48l-3.88 2.24l-3.88 -2.24v-4.48zM301.8 367.2l3.88 2.24v4.48l-3.88 2.24l-3.88 -2.24v-4.48z"/><path fill="#b10580" stroke="#b10580" d="M185.5 219.4l3.88 2.24v4.48l-3.88 2.24l-3.88 -2.24v-4.48zM177.8 232.8l3.88 2.24v4.48l-3.88 2.24l-3.88 -2.24v-4.48zM173.9 253.0l3.88 2.24v4.48l-3.88 2.24l-3.88 -2.24v-4.48zM181.7 253.0l3.88 2.24v4.48l-3.88 2.24l-3.88 -2.24v-4.48zM173.9 266.4l3.88 2.24v4.48l-3.88 2.24l-3.88 -2.24v-4.48zM317.3 273.1l3.88 2.24v4.48l-3.88 2.24l-3.88 -2.24v-4.48zM321.1 279.9l3.88 2.24v4.48l-3.88 2.24l-3.88 -2.24v-4.48zM181.7 293.3l3.88 2.24v4.48l-3.88 2.24l-3.88 -2.24v-4.48zM325.0 300.0l3.88 2.24v4.48l-3.88 2.24l-3.88 -2.24v-4.48zM189.4 306.7l3.88 2.24v4.48l-3.88 2.24l-3.88 -2.24v-4.48zM325.0 313.5l3.88 2.24v4.48l-3.88 2.24l-3.88 -2.24v-4.48zM212.7 333.6l3.88 2.24v4.48l-3.88 2.24l-3.88 -2.24v-4.48zM286.3 367.2l3.88 2.24v4.48l-3.88 2.24l-3.88 -2.24v-4.48zM294.0 367.2l3.88 2.24v4.48l-3.88 2.24l-3.88 -2.24v-4.48z"/><path fill="#ad017e" stroke="#ad017e" d="M201.0 219.4l3.88 2.24v4.48l-3.88 2.24l-3.88 -2.24v-4.48zM181.7 226.1l3.88 2.24v4.48l-3.88 2.24l-3.88 -2.24v-4.48zM243.7 226.1l3.88 2.24v4.48l-3.88 2.24l-3.88 -2.24v-4.48zM251.4 226.1l3.88 2.24v4.48l-3.88 2.24l-3.88 -2.24v-4.48zM193.3 232.8l3.88 2.24v4.48l-3.88 2.24l-3.88 -2.24v-4.48zM263.0 232.8l3.88 2.24v4.48l-3.88 2.24l-3.88 -2.24v-4.48zM185.5 246.3l3.88 2.24v4.48l-3.88 2.24l-3.88 -2.24v-4.48zM305.6 253.0l3.88 2.24v4.48l-3.88 2.24l-3.88 -2.24v-4.48zM181.7 266.4l3.88 2.24v4.48l-3.88 2.24l-3.88 -2.24v-4.48zM185.5 273.1l3.88 2.24v4.48l-3.88 2.24l-3.88 -2.24v-4.48zM181.7 279.9l3.88 2.24v4.48l-3.88 2.24l-3.88 -2.24v-4.48zM189.4 293.3l3.88 2.24v4.48l-3.88 2.24l-3.88 -2.24v-4.48zM185.5 300.0l3.88 2.24v4.48l-3.88 2.24l-3.88 -2.24v-4.48zM193.3 313.5l3.88 2.24v4.48l-3.88 2.24l-3.88 -2.24v-4.48zM201.0 313.5l3.88 2.24v4.48l-3.88 2.24l-3.88 -2.24v-4.48zM208.8 326.9l3.88 2.24v4.48l-3.88 2.24l-3.88 -2.24v-4.48zM317.3 326.9l3.88 2.24v4.48l-3.88 2.24l-3.88 -2.24v-4.48zM228.2 347.1l3.88 2.24v4.48l-3.88 2.24l-3.88 -2.24v-4.48zM297.9 360.5l3.88 2.24v4.48l-3.88 2.24l-3.88 -2.24v-4.48zM263.0 367.2l3.88 2.24v4.48l-3.88 2.24l-3.88 -2.24v-4.48zM282.4 373.9l3.88 2.24v4.48l-3.88 2.24l-3.88 -2.24v-4.48z"/><path fill="#aa017d" stroke="#aa017d" d="M189.4 226.1l3.88 2.24v4.48l-3.88 2.24l-3.88 -2.24v-4.48zM197.2 226.1l3.88 2.24v4.48l-3.88 2.24l-3.88 -2.24v-4.48zM204.9 226.1l3.88 2.24v4.48l-3.88 2.24l-3.88 -2.24v-4.48zM220.4 226.1l3.88 2.24v4.48l-3.88 2.24l-3.88 -2.24v-4.48zM185.5 232.8l3.88 2.24v4.48l-3.88 2.24l-3.88 -2.24v-4.48zM270.8 232.8l3.88 2.24v4.48l-3.88 2.24l-3.88 -2.24v-4.48zM181.7 239.5l3.88 2.24v4.48l-3.88 2.24l-3.88 -2.24v-4.48zM309.5 259.7l3.88 2.24v4.48l-3.88 2.24l-3.88 -2.24v-4.48zM185.5 286.6l3.88 2.24v4.48l-3.88 2.24l-3.88 -2.24v-4.48zM204.9 320.2l3.88 2.24v4.48l-3.88 2.24l-3.88 -2.24v-4.48zM216.5 326.9l3.88 2.24v4.48l-3.88 2.24l-3.88 -2.24v-4.48zM301.8 353.8l3.88 2.24v4.48l-3.88 2.24l-3.88 -2.24v-4.48zM243.7 360.5l3.88 2.24v4.48l-3.88 2.24l-3.88 -2.24v-4.48zM255.3 367.2l3.88 2.24v4.48l-3.88 2.24l-3.88 -2.24v-4.48z"/><path fill="#a5017d" stroke="#a5017d" d="M208.8 219.4l3.88 2.24v4.48l-3.88 2.24l-3.88 -2.24v-4.48zM201.0 232.8l3.88 2.24v4.48l-3.88 2.24l-3.88 -2.24v-4.48zM255.3 232.8l3.88 2.24v4.48l-3.88 2.24l-3.88 -2.24v-4.48zM189.4 239.5l3.88 2.24v4.48l-3.88 2.24l-3.88 -2.24v-4.48zM185.5 259.7l3.88 2.24v4.48l-3.88 2.24l-3.88 -2.24v-4.48zM313.4 266.4l3.88 2.24v4.48l-3.88 2.24l-3.88 -2.24v-4.48zM321.1 293.3l3.88 2.24v4.48l-3.88 2.24l-3.88 -2.24v-4.48zM193.3 300.0l3.88 2.24v4.48l-3.88 2.24l-3.88 -2.24v-4.48zM321.1 306.7l3.88 2.24v4.48l-3.88 2.24l-3.88 -2.24v-4.48zM313.4 333.6l3.88 2.24v4.48l-3.88 2.24l-3.88 -2.24v-4.48zM309.5 340.3l3.88 2.24v4.48l-3.88 2.24l-3.88 -2.24v-4.48zM251.4 360.5l3.88 2.24v4.48l-3.88 2.24l-3.88 -2.24v-4.48zM274.6 373.9l3.88 2.24v4.48l-3.88 2.24l-3.88 -2.24v-4.48z"/><path fill="#a0017c" stroke="#a0017c" d="M228.2 226.1l3.88 2.24v4.48l-3.88 2.24l-3.88 -2.24v-4.48zM235.9 226.1l3.88 2.24v4.48l-3.88 2.24l-3.88 -2.24v-4.48zM208.8 232.8l3.88 2.24v4.48l-3.88 2.24l-3.88 -2.24v-4.48zM239.8 232.8l3.88 2.24v4.48l-3.88 2.24l-3.88 -2.24v-4.48zM197.2 239.5l3.88 2.24v4.48l-3.88 2.24l-3.88 -2.24v-4.48zM204.9 239.5l3.88 2.24v4.48l-3.88 2.24l-3.88 -2.24v-4.48zM282.4 239.5l3.88 2.24v4.48l-3.88 2.24l-3.88 -2.24v-4.48zM294.0 246.3l3.88 2.24v4.48l-3.88 2.24l-3.88 -2.24v-4.48zM189.4 253.0l3.88 2.24v4.48l-3.88 2.24l-3.88 -2.24v-4.48zM193.3 273.1l3.88 2.24v4.48l-3.88 2.24l-3.88 -2.24v-4.48zM189.4 279.9l3.88 2.24v4.48l-3.88 2.24l-3.88 -2.24v-4.48zM197.2 279.9l3.88 2.24v4.48l-3.88 2.24l-3.88 -2.24v-4.48zM197.2 293.3l3.88 2.24v4.48l-3.88 2.24l-3.88 -2.24v-4.48zM197.2 306.7l3.88 2.24v4.48l-3.88 2.24l-3.88 -2.24v-4.48zM224.3 340.3l3.88 2.24v4.48l-3.88 2.24l-3.88 -2.24v-4.48zM305.6 347.1l3.88 2.24v4.48l-3.88 2.24l-3.88 -2.24v-4.48z"/><path fill="#9c017c" stroke="#9c017c" d="M212.7 226.1l3.88 2.24v4.48l-3.88 2.24l-3.88 -2.24v-4.48zM216.5 232.8l3.88 2.24v4.48l-3.88 2.24l-3.88 -2.24v-4.48zM247.5 232.8l3.88 2.24v4.48l-3.88 2.24l-3.88 -2.24v-4.48zM266.9 239.5l3.88 2.24v4.48l-3.88 2.24l-3.88 -2.24v-4.48zM193.3 246.3l3.88 2.24v4.48l-3.88 2.24l-3.88 -2.24v-4.48zM197.2 253.0l3.88 2.24v4.48l-3.88 2.24l-3.88 -2.24v-4.48zM193.3 259.7l3.88 2.24v4.48l-3.88 2.24l-3.88 -2.24v-4.48zM189.4 266.4l3.88 2.24v4.48l-3.88 2.24l-3.88 -2.24v-4.48zM212.7 320.2l3.88 2.24v4.48l-3.88 2.24l-3.88 -2.24v-4.48zM220.4 333.6l3.88 2.24v4.48l-3.88 2.24l-3.88 -2.24v-4.48zM290.1 360.5l3.88 2.24v4.48l-3.88 2.24l-3.88 -2.24v-4.48zM270.8 367.2l3.88 2.24v4.48l-3.88 2.24l-3.88 -2.24v-4.48zM278.5 367.2l3.88 2.24v4.48l-3.88 2.24l-3.88 -2.24v-4.48z"/><path fill="#98017b" stroke="#98017b" d="M224.3 232.8l3.88 2.24v4.48l-3.88 2.24l-3.88 -2.24v-4.48zM232.0 232.8l3.88 2.24v4.48l-3.88 2.24l-3.88 -2.24v-4.48zM228.2 239.5l3.88 2.24v4.48l-3.88 2.24l-3.88 -2.24v-4.48zM274.6 239.5l3.88 2.24v4.48l-3.88 2.24l-3.88 -2.24v-4.48zM201.0 246.3l3.88 2.24v4.48l-3.88 2.24l-3.88 -2.24v-4.48zM286.3 246.3l3.88 2.24v4.48l-3.88 2.24l-3.88 -2.24v-4.48zM197.2 266.4l3.88 2.24v4.48l-3.88 2.24l-3.88 -2.24v-4.48zM204.9 266.4l3.88 2.24v4.48l-3.88 2.24l-3.88 -2.24v-4.48zM193.3 286.6l3.88 2.24v4.48l-3.88 2.24l-3.88 -2.24v-4.48zM239.8 353.8l3.88 2.24v4.48l-3.88 2.24l-3.88 -2.24v-4.48zM259.1 360.5l3.88 2.24v4.48l-3.88 2.24l-3.88 -2.24v-4.48z"/><path fill="#93017a" stroke="#93017a" d="M212.7 239.5l3.88 2.24v4.48l-3.88 2.24l-3.88 -2.24v-4.48zM220.4 239.5l3.88 2.24v4.48l-3.88 2.24l-3.88 -2.24v-4.48zM251.4 239.5l3.88 2.24v4.48l-3.88 2.24l-3.88 -2.24v-4.48zM216.5 246.3l3.88 2.24v4.48l-3.88 2.24l-3.88 -2.24v-4.48zM204.9 253.0l3.88 2.24v4.48l-3.88 2.24l-3.88 -2.24v-4.48zM297.9 253.0l3.88 2.24v4.48l-3.88 2.24l-3.88 -2.24v-4.48zM201.0 286.6l3.88 2.24v4.48l-3.88 2.24l-3.88 -2.24v-4.48zM201.0 300.0l3.88 2.24v4.48l-3.88 2.24l-3.88 -2.24v-4.48zM204.9 306.7l3.88 2.24v4.48l-3.88 2.24l-3.88 -2.24v-4.48zM208.8 313.5l3.88 2.24v4.48l-3.88 2.24l-3.88 -2.24v-4.48zM297.9 347.1l3.88 2.24v4.48l-3.88 2.24l-3.88 -2.24v-4.48zM294.0 353.8l3.88 2.24v4.48l-3.88 2.24l-3.88 -2.24v-4.48z"/><path fill="#8f017a" stroke="#8f017a" d="M235.9 239.5l3.88 2.24v4.48l-3.88 2.24l-3.88 -2.24v-4.48zM259.1 239.5l3.88 2.24v4.48l-3.88 2.24l-3.88 -2.24v-4.48zM212.7 253.0l3.88 2.24v4.48l-3.88 2.24l-3.88 -2.24v-4.48zM201.0 259.7l3.88 2.24v4.48l-3.88 2.24l-3.88 -2.24v-4.48zM201.0 273.1l3.88 2.24v4.48l-3.88 2.24l-3.88 -2.24v-4.48zM317.3 286.6l3.88 2.24v4.48l-3.88 2.24l-3.88 -2.24v-4.48zM317.3 313.5l3.88 2.24v4.48l-3.88 2.24l-3.88 -2.24v-4.48zM235.9 347.1l3.88 2.24v4.48l-3.88 2.24l-3.88 -2.24v-4.48zM243.7 347.1l3.88 2.24v4.48l-3.88 2.24l-3.88 -2.24v-4.48zM247.5 353.8l3.88 2.24v4.48l-3.88 2.24l-3.88 -2.24v-4.48zM255.3 353.8l3.88 2.24v4.48l-3.88 2.24l-3.88 -2.24v-4.48zM266.9 360.5l3.88 2.24v4.48l-3.88 2.24l-3.88 -2.24v-4.48z"/><path fill="#8b0179" stroke="#8b0179" d="M301.8 259.7l3.88 2.24v4.48l-3.88 2.24l-3.88 -2.24v-4.48zM212.7 266.4l3.88 2.24v4.48l-3.88 2.24l-3.88 -2.24v-4.48zM204.9 279.9l3.88 2.24v4.48l-3.88 2.24l-3.88 -2.24v-4.48zM313.4 279.9l3.88 2.24v4.48l-3.88 2.24l-3.88 -2.24v-4.48zM208.8 286.6l3.88 2.24v4.48l-3.88 2.24l-3.88 -2.24v-4.48zM204.9 293.3l3.88 2.24v4.48l-3.88 2.24l-3.88 -2.24v-4.48zM228.2 333.6l3.88 2.24v4.48l-3.88 2.24l-3.88 -2.24v-4.48zM232.0 340.3l3.88 2.24v4.48l-3.88 2.24l-3.88 -2.24v-4.48zM274.6 360.5l3.88 2.24v4.48l-3.88 2.24l-3.88 -2.24v-4.48zM282.4 360.5l3.88 2.24v4.48l-3.88 2.24l-3.88 -2.24v-4.48z"/><path fill="#860179" stroke="#860179" d="M243.7 239.5l3.88 2.24v4.48l-3.88 2.24l-3.88 -2.24v-4.48zM208.8 246.3l3.88 2.24v4.48l-3.88 2.24l-3.88 -2.24v-4.48zM239.8 246.3l3.88 2.24v4.48l-3.88 2.24l-3.88 -2.24v-4.48zM278.5 246.3l3.88 2.24v4.48l-3.88 2.24l-3.88 -2.24v-4.48zM220.4 253.0l3.88 2.24v4.48l-3.88 2.24l-3.88 -2.24v-4.48zM228.2 253.0l3.88 2.24v4.48l-3.88 2.24l-3.88 -2.24v-4.48zM208.8 259.7l3.88 2.24v4.48l-3.88 2.24l-3.88 -2.24v-4.48zM216.5 259.7l3.88 2.24v4.48l-3.88 2.24l-3.88 -2.24v-4.48zM216.5 273.1l3.88 2.24v4.48l-3.88 2.24l-3.88 -2.24v-4.48zM309.5 273.1l3.88 2.24v4.48l-3.88 2.24l-3.88 -2.24v-4.48zM208.8 300.0l3.88 2.24v4.48l-3.88 2.24l-3.88 -2.24v-4.48zM317.3 300.0l3.88 2.24v4.48l-3.88 2.24l-3.88 -2.24v-4.48zM212.7 306.7l3.88 2.24v4.48l-3.88 2.24l-3.88 -2.24v-4.48zM301.8 340.3l3.88 2.24v4.48l-3.88 2.24l-3.88 -2.24v-4.48zM286.3 353.8l3.88 2.24v4.48l-3.88 2.24l-3.88 -2.24v-4.48z"/><path fill="#820178" stroke="#820178" d="M224.3 246.3l3.88 2.24v4.48l-3.88 2.24l-3.88 -2.24v-4.48zM232.0 246.3l3.88 2.24v4.48l-3.88 2.24l-3.88 -2.24v-4.48zM270.8 246.3l3.88 2.24v4.48l-3.88 2.24l-3.88 -2.24v-4.48zM208.8 273.1l3.88 2.24v4.48l-3.88 2.24l-3.88 -2.24v-4.48zM216.5 313.5l3.88 2.24v4.48l-3.88 2.24l-3.88 -2.24v-4.48zM313.4 320.2l3.88 2.24v4.48l-3.88 2.24l-3.88 -2.24v-4.48zM224.3 326.9l3.88 2.24v4.48l-3.88 2.24l-3.88 -2.24v-4.48zM305.6 333.6l3.88 2.24v4.48l-3.88 2.24l-3.88 -2.24v-4.48zM263.0 353.8l3.88 2.24v4.48l-3.88 2.24l-3.88 -2.24v-4.48zM278.5 353.8l3.88 2.24v4.48l-3.88 2.24l-3.88 -2.24v-4.48z"/><path fill="#7d0177" stroke="#7d0177" d="M247.5 246.3l3.88 2.24v4.48l-3.88 2.24l-3.88 -2.24v-4.48zM263.0 246.3l3.88 2.24v4.48l-3.88 2.24l-3.88 -2.24v-4.48zM290.1 253.0l3.88 2.24v4.48l-3.88 2.24l-3.88 -2.24v-4.48zM294.0 259.7l3.88 2.24v4.48l-3.88 2.24l-3.88 -2.24v-4.48zM216.5 300.0l3.88 2.24v4.48l-3.88 2.24l-3.88 -2.24v-4.48zM220.4 320.2l3.88 2.24v4.48l-3.88 2.24l-3.88 -2.24v-4.48zM239.8 340.3l3.88 2.24v4.48l-3.88 2.24l-3.88 -2.24v-4.48zM290.1 347.1l3.88 2.24v4.48l-3.88 2.24l-3.88 -2.24v-4.48zM270.8 353.8l3.88 2.24v4.48l-3.88 2.24l-3.88 -2.24v-4.48z"/><path fill="#790177" stroke="#790177" d="M255.3 246.3l3.88 2.24v4.48l-3.88 2.24l-3.88 -2.24v-4.48zM224.3 259.7l3.88 2.24v4.48l-3.88 2.24l-3.88 -2.24v-4.48zM305.6 266.4l3.88 2.24v4.48l-3.88 2.24l-3.88 -2.24v-4.48zM212.7 279.9l3.88 2.24v4.48l-3.88 2.24l-3.88 -2.24v-4.48zM216.5 286.6l3.88 2.24v4.48l-3.88 2.24l-3.88 -2.24v-4.48zM212.7 293.3l3.88 2.24v4.48l-3.88 2.24l-3.88 -2.24v-4.48zM313.4 293.3l3.88 2.24v4.48l-3.88 2.24l-3.88 -2.24v-4.48zM235.9 333.6l3.88 2.24v4.48l-3.88 2.24l-3.88 -2.24v-4.48zM251.4 347.1l3.88 2.24v4.48l-3.88 2.24l-3.88 -2.24v-4.48z"/><path fill="#760176" stroke="#760176" d="M232.0 259.7l3.88 2.24v4.48l-3.88 2.24l-3.88 -2.24v-4.48zM220.4 266.4l3.88 2.24v4.48l-3.88 2.24l-3.88 -2.24v-4.48zM313.4 306.7l3.88 2.24v4.48l-3.88 2.24l-3.88 -2.24v-4.48zM309.5 326.9l3.88 2.24v4.48l-3.88 2.24l-3.88 -2.24v-4.48zM282.4 347.1l3.88 2.24v4.48l-3.88 2.24l-3.88 -2.24v-4.48z"/><path fill="#710175" stroke="#710175" d="M235.9 253.0l3.88 2.24v4.48l-3.88 2.24l-3.88 -2.24v-4.48zM243.7 253.0l3.88 2.24v4.48l-3.88 2.24l-3.88 -2.24v-4.48zM228.2 266.4l3.88 2.24v4.48l-3.88 2.24l-3.88 -2.24v-4.48zM220.4 293.3l3.88 2.24v4.48l-3.88 2.24l-3.88 -2.24v-4.48zM224.3 313.5l3.88 2.24v4.48l-3.88 2.24l-3.88 -2.24v-4.48zM228.2 320.2l3.88 2.24v4.48l-3.88 2.24l-3.88 -2.24v-4.48zM232.0 326.9l3.88 2.24v4.48l-3.88 2.24l-3.88 -2.24v-4.48zM301.8 326.9l3.88 2.24v4.48l-3.88 2.24l-3.88 -2.24v-4.48zM243.7 333.6l3.88 2.24v4.48l-3.88 2.24l-3.88 -2.24v-4.48zM247.5 340.3l3.88 2.24v4.48l-3.88 2.24l-3.88 -2.24v-4.48zM255.3 340.3l3.88 2.24v4.48l-3.88 2.24l-3.88 -2.24v-4.48zM259.1 347.1l3.88 2.24v4.48l-3.88 2.24l-3.88 -2.24v-4.48zM274.6 347.1l3.88 2.24v4.48l-3.88 2.24l-3.88 -2.24v-4.48z"/><path fill="#6c0173" stroke="#6c0173" d="M274.6 253.0l3.88 2.24v4.48l-3.88 2.24l-3.88 -2.24v-4.48zM282.4 253.0l3.88 2.24v4.48l-3.88 2.24l-3.88 -2.24v-4.48zM224.3 273.1l3.88 2.24v4.48l-3.88 2.24l-3.88 -2.24v-4.48zM228.2 279.9l3.88 2.24v4.48l-3.88 2.24l-3.88 -2.24v-4.48zM305.6 279.9l3.88 2.24v4.48l-3.88 2.24l-3.88 -2.24v-4.48zM309.5 300.0l3.88 2.24v4.48l-3.88 2.24l-3.88 -2.24v-4.48zM220.4 306.7l3.88 2.24v4.48l-3.88 2.24l-3.88 -2.24v-4.48zM309.5 313.5l3.88 2.24v4.48l-3.88 2.24l-3.88 -2.24v-4.48zM239.8 326.9l3.88 2.24v4.48l-3.88 2.24l-3.88 -2.24v-4.48zM294.0 340.3l3.88 2.24v4.48l-3.88 2.24l-3.88 -2.24v-4.48z"/><path fill="#690173" stroke="#690173" d="M251.4 253.0l3.88 2.24v4.48l-3.88 2.24l-3.88 -2.24v-4.48zM266.9 253.0l3.88 2.24v4.48l-3.88 2.24l-3.88 -2.24v-4.48zM239.8 259.7l3.88 2.24v4.48l-3.88 2.24l-3.88 -2.24v-4.48zM286.3 259.7l3.88 2.24v4.48l-3.88 2.24l-3.88 -2.24v-4.48zM235.9 266.4l3.88 2.24v4.48l-3.88 2.24l-3.88 -2.24v-4.48zM232.0 273.1l3.88 2.24v4.48l-3.88 2.24l-3.88 -2.24v-4.48zM220.4 279.9l3.88 2.24v4.48l-3.88 2.24l-3.88 -2.24v-4.48zM309.5 286.6l3.88 2.24v4.48l-3.88 2.24l-3.88 -2.24v-4.48zM224.3 300.0l3.88 2.24v4.48l-3.88 2.24l-3.88 -2.24v-4.48zM232.0 313.5l3.88 2.24v4.48l-3.88 2.24l-3.88 -2.24v-4.48zM235.9 320.2l3.88 2.24v4.48l-3.88 2.24l-3.88 -2.24v-4.48zM251.4 333.6l3.88 2.24v4.48l-3.88 2.24l-3.88 -2.24v-4.48zM297.9 333.6l3.88 2.24v4.48l-3.88 2.24l-3.88 -2.24v-4.48zM263.0 340.3l3.88 2.24v4.48l-3.88 2.24l-3.88 -2.24v-4.48zM278.5 340.3l3.88 2.24v4.48l-3.88 2.24l-3.88 -2.24v-4.48zM286.3 340.3l3.88 2.24v4.48l-3.88 2.24l-3.88 -2.24v-4.48zM266.9 347.1l3.88 2.24v4.48l-3.88 2.24l-3.88 -2.24v-4.48z"/><path fill="#650171" stroke="#650171" d="M259.1 253.0l3.88 2.24v4.48l-3.88 2.24l-3.88 -2.24v-4.48zM255.3 259.7l3.88 2.24v4.48l-3.88 2.24l-3.88 -2.24v-4.48zM278.5 259.7l3.88 2.24v4.48l-3.88 2.24l-3.88 -2.24v-4.48zM297.9 266.4l3.88 2.24v4.48l-3.88 2.24l-3.88 -2.24v-4.48zM294.0 273.1l3.88 2.24v4.48l-3.88 2.24l-3.88 -2.24v-4.48zM301.8 273.1l3.88 2.24v4.48l-3.88 2.24l-3.88 -2.24v-4.48zM301.8 286.6l3.88 2.24v4.48l-3.88 2.24l-3.88 -2.24v-4.48zM228.2 293.3l3.88 2.24v4.48l-3.88 2.24l-3.88 -2.24v-4.48zM305.6 293.3l3.88 2.24v4.48l-3.88 2.24l-3.88 -2.24v-4.48zM228.2 306.7l3.88 2.24v4.48l-3.88 2.24l-3.88 -2.24v-4.48zM297.9 320.2l3.88 2.24v4.48l-3.88 2.24l-3.88 -2.24v-4.48zM305.6 320.2l3.88 2.24v4.48l-3.88 2.24l-3.88 -2.24v-4.48zM294.0 326.9l3.88 2.24v4.48l-3.88 2.24l-3.88 -2.24v-4.48zM270.8 340.3l3.88 2.24v4.48l-3.88 2.24l-3.88 -2.24v-4.48z"/><path fill="#600070" stroke="#600070" d="M263.0 259.7l3.88 2.24v4.48l-3.88 2.24l-3.88 -2.24v-4.48zM270.8 259.7l3.88 2.24v4.48l-3.88 2.24l-3.88 -2.24v-4.48zM290.1 266.4l3.88 2.24v4.48l-3.88 2.24l-3.88 -2.24v-4.48zM286.3 273.1l3.88 2.24v4.48l-3.88 2.24l-3.88 -2.24v-4.48zM235.9 279.9l3.88 2.24v4.48l-3.88 2.24l-3.88 -2.24v-4.48zM297.9 279.9l3.88 2.24v4.48l-3.88 2.24l-3.88 -2.24v-4.48zM224.3 286.6l3.88 2.24v4.48l-3.88 2.24l-3.88 -2.24v-4.48zM232.0 286.6l3.88 2.24v4.48l-3.88 2.24l-3.88 -2.24v-4.48zM301.8 300.0l3.88 2.24v4.48l-3.88 2.24l-3.88 -2.24v-4.48zM235.9 306.7l3.88 2.24v4.48l-3.88 2.24l-3.88 -2.24v-4.48zM305.6 306.7l3.88 2.24v4.48l-3.88 2.24l-3.88 -2.24v-4.48zM263.0 326.9l3.88 2.24v4.48l-3.88 2.24l-3.88 -2.24v-4.48zM274.6 333.6l3.88 2.24v4.48l-3.88 2.24l-3.88 -2.24v-4.48zM290.1 333.6l3.88 2.24v4.48l-3.88 2.24l-3.88 -2.24v-4.48z"/><path fill="#5d006f" stroke="#5d006f" d="M247.5 259.7l3.88 2.24v4.48l-3.88 2.24l-3.88 -2.24v-4.48zM243.7 266.4l3.88 2.24v4.48l-3.88 2.24l-3.88 -2.24v-4.48zM239.8 273.1l3.88 2.24v4.48l-3.88 2.24l-3.88 -2.24v-4.48zM235.9 293.3l3.88 2.24v4.48l-3.88 2.24l-3.88 -2.24v-4.48zM232.0 300.0l3.88 2.24v4.48l-3.88 2.24l-3.88 -2.24v-4.48zM297.9 306.7l3.88 2.24v4.48l-3.88 2.24l-3.88 -2.24v-4.48zM239.8 313.5l3.88 2.24v4.48l-3.88 2.24l-3.88 -2.24v-4.48zM255.3 313.5l3.88 2.24v4.48l-3.88 2.24l-3.88 -2.24v-4.48zM301.8 313.5l3.88 2.24v4.48l-3.88 2.24l-3.88 -2.24v-4.48zM243.7 320.2l3.88 2.24v4.48l-3.88 2.24l-3.88 -2.24v-4.48zM247.5 326.9l3.88 2.24v4.48l-3.88 2.24l-3.88 -2.24v-4.48zM255.3 326.9l3.88 2.24v4.48l-3.88 2.24l-3.88 -2.24v-4.48zM266.9 333.6l3.88 2.24v4.48l-3.88 2.24l-3.88 -2.24v-4.48zM282.4 333.6l3.88 2.24v4.48l-3.88 2.24l-3.88 -2.24v-4.48z"/><path fill="#58006e" stroke="#58006e" d="M251.4 266.4l3.88 2.24v4.48l-3.88 2.24l-3.88 -2.24v-4.48zM259.1 266.4l3.88 2.24v4.48l-3.88 2.24l-3.88 -2.24v-4.48zM290.1 279.9l3.88 2.24v4.48l-3.88 2.24l-3.88 -2.24v-4.48zM239.8 286.6l3.88 2.24v4.48l-3.88 2.24l-3.88 -2.24v-4.48zM294.0 300.0l3.88 2.24v4.48l-3.88 2.24l-3.88 -2.24v-4.48zM243.7 306.7l3.88 2.24v4.48l-3.88 2.24l-3.88 -2.24v-4.48zM247.5 313.5l3.88 2.24v4.48l-3.88 2.24l-3.88 -2.24v-4.48zM290.1 320.2l3.88 2.24v4.48l-3.88 2.24l-3.88 -2.24v-4.48zM270.8 326.9l3.88 2.24v4.48l-3.88 2.24l-3.88 -2.24v-4.48zM278.5 326.9l3.88 2.24v4.48l-3.88 2.24l-3.88 -2.24v-4.48zM286.3 326.9l3.88 2.24v4.48l-3.88 2.24l-3.88 -2.24v-4.48zM259.1 333.6l3.88 2.24v4.48l-3.88 2.24l-3.88 -2.24v-4.48z"/><path fill="#54006d" stroke="#54006d" d="M266.9 266.4l3.88 2.24v4.48l-3.88 2.24l-3.88 -2.24v-4.48zM274.6 266.4l3.88 2.24v4.48l-3.88 2.24l-3.88 -2.24v-4.48zM282.4 266.4l3.88 2.24v4.48l-3.88 2.24l-3.88 -2.24v-4.48zM247.5 273.1l3.88 2.24v4.48l-3.88 2.24l-3.88 -2.24v-4.48zM278.5 273.1l3.88 2.24v4.48l-3.88 2.24l-3.88 -2.24v-4.48zM243.7 279.9l3.88 2.24v4.48l-3.88 2.24l-3.88 -2.24v-4.48zM297.9 293.3l3.88 2.24v4.48l-3.88 2.24l-3.88 -2.24v-4.48zM286.3 313.5l3.88 2.24v4.48l-3.88 2.24l-3.88 -2.24v-4.48zM294.0 313.5l3.88 2.24v4.48l-3.88 2.24l-3.88 -2.24v-4.48zM259.1 320.2l3.88 2.24v4.48l-3.88 2.24l-3.88 -2.24v-4.48zM266.9 320.2l3.88 2.24v4.48l-3.88 2.24l-3.88 -2.24v-4.48zM274.6 320.2l3.88 2.24v4.48l-3.88 2.24l-3.88 -2.24v-4.48z"/><path fill="#51006c" stroke="#51006c" d="M263.0 273.1l3.88 2.24v4.48l-3.88 2.24l-3.88 -2.24v-4.48zM251.4 279.9l3.88 2.24v4.48l-3.88 2.24l-3.88 -2.24v-4.48zM294.0 286.6l3.88 2.24v4.48l-3.88 2.24l-3.88 -2.24v-4.48zM243.7 293.3l3.88 2.24v4.48l-3.88 2.24l-3.88 -2.24v-4.48zM290.1 293.3l3.88 2.24v4.48l-3.88 2.24l-3.88 -2.24v-4.48zM239.8 300.0l3.88 2.24v4.48l-3.88 2.24l-3.88 -2.24v-4.48zM255.3 300.0l3.88 2.24v4.48l-3.88 2.24l-3.88 -2.24v-4.48zM251.4 306.7l3.88 2.24v4.48l-3.88 2.24l-3.88 -2.24v-4.48zM259.1 306.7l3.88 2.24v4.48l-3.88 2.24l-3.88 -2.24v-4.48zM274.6 306.7l3.88 2.24v4.48l-3.88 2.24l-3.88 -2.24v-4.48zM263.0 313.5l3.88 2.24v4.48l-3.88 2.24l-3.88 -2.24v-4.48zM270.8 313.5l3.88 2.24v4.48l-3.88 2.24l-3.88 -2.24v-4.48zM278.5 313.5l3.88 2.24v4.48l-3.88 2.24l-3.88 -2.24v-4.48zM282.4 320.2l3.88 2.24v4.48l-3.88 2.24l-3.88 -2.24v-4.48z"/><path fill="#4c006b" stroke="#4c006b" d="M270.8 273.1l3.88 2.24v4.48l-3.88 2.24l-3.88 -2.24v-4.48zM259.1 279.9l3.88 2.24v4.48l-3.88 2.24l-3.88 -2.24v-4.48zM282.4 279.9l3.88 2.24v4.48l-3.88 2.24l-3.88 -2.24v-4.48zM247.5 286.6l3.88 2.24v4.48l-3.88 2.24l-3.88 -2.24v-4.48zM251.4 293.3l3.88 2.24v4.48l-3.88 2.24l-3.88 -2.24v-4.48zM259.1 293.3l3.88 2.24v4.48l-3.88 2.24l-3.88 -2.24v-4.48zM266.9 293.3l3.88 2.24v4.48l-3.88 2.24l-3.88 -2.24v-4.48zM247.5 300.0l3.88 2.24v4.48l-3.88 2.24l-3.88 -2.24v-4.48zM286.3 300.0l3.88 2.24v4.48l-3.88 2.24l-3.88 -2.24v-4.48zM290.1 306.7l3.88 2.24v4.48l-3.88 2.24l-3.88 -2.24v-4.48zM251.4 320.2l3.88 2.24v4.48l-3.88 2.24l-3.88 -2.24v-4.48z"/><path fill="#49006a" stroke="#49006a" d="M255.3 273.1l3.88 2.24v4.48l-3.88 2.24l-3.88 -2.24v-4.48zM266.9 279.9l3.88 2.24v4.48l-3.88 2.24l-3.88 -2.24v-4.48zM274.6 279.9l3.88 2.24v4.48l-3.88 2.24l-3.88 -2.24v-4.48zM255.3 286.6l3.88 2.24v4.48l-3.88 2.24l-3.88 -2.24v-4.48zM263.0 286.6l3.88 2.24v4.48l-3.88 2.24l-3.88 -2.24v-4.48zM270.8 286.6l3.88 2.24v4.48l-3.88 2.24l-3.88 -2.24v-4.48zM278.5 286.6l3.88 2.24v4.48l-3.88 2.24l-3.88 -2.24v-4.48zM286.3 286.6l3.88 2.24v4.48l-3.88 2.24l-3.88 -2.24v-4.48zM274.6 293.3l3.88 2.24v4.48l-3.88 2.24l-3.88 -2.24v-4.48zM282.4 293.3l3.88 2.24v4.48l-3.88 2.24l-3.88 -2.24v-4.48zM263.0 300.0l3.88 2.24v4.48l-3.88 2.24l-3.88 -2.24v-4.48zM270.8 300.0l3.88 2.24v4.48l-3.88 2.24l-3.88 -2.24v-4.48zM278.5 300.0l3.88 2.24v4.48l-3.88 2.24l-3.88 -2.24v-4.48zM266.9 306.7l3.88 2.24v4.48l-3.88 2.24l-3.88 -2.24v-4.48zM282.4 306.7l3.88 2.24v4.48l-3.88 2.24l-3.88 -2.24v-4.48z"/></g>
<g clip-path="url(#mc)"><circle cx="192.6" cy="298.0" r="2.15" fill="#0000ff"/><path fill="#0000ff" d="M204.0 293.2l2.5 3.1l-2.5 3.1l-2.5 -3.1z"/><circle cx="215.2" cy="296.3" r="2.15" fill="#32cd32"/><circle cx="215.2" cy="298.7" r="2.15" fill="#0000ff"/><path fill="#0000ff" d="M181.4 302.8l2.5 3.1l-2.5 3.1l-2.5 -3.1z"/><circle cx="181.4" cy="311.1" r="2.15" fill="#32cd32"/><circle cx="193.1" cy="311.1" r="2.15" fill="#0000ff"/><circle cx="197.3" cy="312.3" r="2.15" fill="#0000ff"/><circle cx="204.0" cy="314.0" r="2.15" fill="#0000ff"/><circle cx="209.3" cy="315.2" r="2.15" fill="#0000ff"/><circle cx="215.2" cy="315.9" r="2.15" fill="#0000ff"/><circle cx="164.7" cy="316.4" r="2.15" fill="#0000ff"/><path fill="#0000ff" d="M166.3 315.2l2.5 3.1l-2.5 3.1l-2.5 -3.1z"/><circle cx="174.0" cy="318.7" r="2.15" fill="#0000ff"/><circle cx="174.0" cy="321.1" r="2.15" fill="#0000ff"/><circle cx="179.5" cy="315.2" r="2.15" fill="#0000ff"/><path fill="#32cd32" d="M192.6 319.5l2.5 3.1l-2.5 3.1l-2.5 -3.1z"/><circle cx="181.4" cy="324.9" r="2.15" fill="#32cd32"/><circle cx="164.0" cy="324.9" r="2.15" fill="#32cd32"/><path fill="#0000ff" d="M154.4 322.3l2.5 3.1l-2.5 3.1l-2.5 -3.1z"/><circle cx="152.5" cy="327.8" r="2.15" fill="#0000ff"/><circle cx="157.3" cy="326.6" r="2.15" fill="#0000ff"/><circle cx="202.1" cy="327.8" r="2.15" fill="#32cd32"/><circle cx="205.7" cy="327.3" r="2.15" fill="#0000ff"/><circle cx="180.2" cy="331.4" r="2.15" fill="#0000ff"/><circle cx="198.5" cy="333.1" r="2.15" fill="#0000ff"/><circle cx="160.4" cy="337.8" r="2.15" fill="#0000ff"/><circle cx="186.6" cy="339.0" r="2.15" fill="#0000ff"/><path fill="#0000ff" d="M192.6 335.9l2.5 3.1l-2.5 3.1l-2.5 -3.1z"/><circle cx="214.0" cy="335.0" r="2.15" fill="#32cd32"/><circle cx="218.8" cy="338.5" r="2.15" fill="#32cd32"/><circle cx="126.2" cy="355.3" r="2.15" fill="#32cd32"/><path fill="#0000ff" d="M126.2 350.0l2.5 3.1l-2.5 3.1l-2.5 -3.1z"/><circle cx="133.9" cy="347.2" r="2.15" fill="#0000ff"/><circle cx="133.9" cy="363.4" r="2.15" fill="#32cd32"/><circle cx="143.4" cy="341.2" r="2.15" fill="#0000ff"/><path fill="#0000ff" d="M151.7 342.1l2.5 3.1l-2.5 3.1l-2.5 -3.1z"/><circle cx="155.3" cy="346.7" r="2.15" fill="#0000ff"/><path fill="#32cd32" d="M151.7 348.4l2.5 3.1l-2.5 3.1l-2.5 -3.1z"/><path fill="#32cd32" d="M154.1 352.4l2.5 3.1l-2.5 3.1l-2.5 -3.1z"/><circle cx="156.5" cy="356.7" r="2.15" fill="#32cd32"/><circle cx="160.1" cy="346.0" r="2.15" fill="#32cd32"/><circle cx="167.3" cy="346.7" r="2.15" fill="#32cd32"/><circle cx="174.4" cy="344.3" r="2.15" fill="#32cd32"/><path fill="#0000ff" d="M177.5 344.1l2.5 3.1l-2.5 3.1l-2.5 -3.1z"/><circle cx="178.0" cy="350.7" r="2.15" fill="#0000ff"/><circle cx="174.4" cy="353.1" r="2.15" fill="#0000ff"/><path fill="#0000ff" d="M169.2 353.6l2.5 3.1l-2.5 3.1l-2.5 -3.1z"/><path fill="#32cd32" d="M173.2 358.4l2.5 3.1l-2.5 3.1l-2.5 -3.1z"/><circle cx="169.2" cy="363.4" r="2.15" fill="#32cd32"/><circle cx="185.9" cy="353.1" r="2.15" fill="#0000ff"/><circle cx="186.3" cy="356.7" r="2.15" fill="#32cd32"/><circle cx="192.3" cy="341.2" r="2.15" fill="#0000ff"/><path fill="#0000ff" d="M199.5 341.2l2.5 3.1l-2.5 3.1l-2.5 -3.1z"/><path fill="#0000ff" d="M204.2 340.5l2.5 3.1l-2.5 3.1l-2.5 -3.1z"/><circle cx="207.8" cy="342.4" r="2.15" fill="#0000ff"/><circle cx="198.3" cy="349.5" r="2.15" fill="#32cd32"/><path fill="#32cd32" d="M200.6 354.8l2.5 3.1l-2.5 3.1l-2.5 -3.1z"/><circle cx="203.5" cy="356.7" r="2.15" fill="#32cd32"/><path fill="#32cd32" d="M199.5 357.9l2.5 3.1l-2.5 3.1l-2.5 -3.1z"/><path fill="#0000ff" d="M191.1 359.6l2.5 3.1l-2.5 3.1l-2.5 -3.1z"/><circle cx="204.2" cy="362.7" r="2.15" fill="#32cd32"/><circle cx="207.3" cy="355.5" r="2.15" fill="#0000ff"/><circle cx="213.8" cy="355.5" r="2.15" fill="#32cd32"/><circle cx="212.6" cy="342.4" r="2.15" fill="#0000ff"/><circle cx="219.7" cy="346.0" r="2.15" fill="#0000ff"/><circle cx="226.9" cy="343.6" r="2.15" fill="#0000ff"/><path fill="#32cd32" d="M226.9 351.2l2.5 3.1l-2.5 3.1l-2.5 -3.1z"/><circle cx="229.3" cy="357.9" r="2.15" fill="#0000ff"/><circle cx="226.2" cy="363.9" r="2.15" fill="#0000ff"/><circle cx="228.1" cy="368.6" r="2.15" fill="#0000ff"/><path fill="#32cd32" d="M236.4 360.8l2.5 3.1l-2.5 3.1l-2.5 -3.1z"/><path fill="#32cd32" d="M143.4 366.7l2.5 3.1l-2.5 3.1l-2.5 -3.1z"/><path fill="#0000ff" d="M145.8 368.6l2.5 3.1l-2.5 3.1l-2.5 -3.1z"/><circle cx="150.6" cy="368.6" r="2.15" fill="#32cd32"/><circle cx="152.9" cy="373.4" r="2.15" fill="#32cd32"/><path fill="#0000ff" d="M151.7 374.4l2.5 3.1l-2.5 3.1l-2.5 -3.1z"/><circle cx="163.7" cy="369.8" r="2.15" fill="#0000ff"/><circle cx="169.2" cy="368.6" r="2.15" fill="#0000ff"/><circle cx="180.4" cy="368.6" r="2.15" fill="#32cd32"/><path fill="#0000ff" d="M186.3 365.0l2.5 3.1l-2.5 3.1l-2.5 -3.1z"/><path fill="#32cd32" d="M193.5 368.6l2.5 3.1l-2.5 3.1l-2.5 -3.1z"/><circle cx="173.9" cy="376.3" r="2.15" fill="#32cd32"/><path fill="#0000ff" d="M191.1 375.1l2.5 3.1l-2.5 3.1l-2.5 -3.1z"/><circle cx="185.1" cy="380.6" r="2.15" fill="#32cd32"/><circle cx="186.8" cy="382.5" r="2.15" fill="#32cd32"/><circle cx="159.6" cy="382.2" r="2.15" fill="#32cd32"/><circle cx="220.9" cy="376.3" r="2.15" fill="#0000ff"/><path fill="#0000ff" d="M211.4 378.6l2.5 3.1l-2.5 3.1l-2.5 -3.1z"/><path fill="#32cd32" d="M206.6 379.8l2.5 3.1l-2.5 3.1l-2.5 -3.1z"/><circle cx="207.8" cy="384.8" r="2.15" fill="#32cd32"/><circle cx="212.6" cy="387.7" r="2.15" fill="#32cd32"/><circle cx="220.2" cy="385.3" r="2.15" fill="#32cd32"/><circle cx="228.6" cy="385.3" r="2.15" fill="#32cd32"/><circle cx="217.3" cy="392.5" r="2.15" fill="#32cd32"/><circle cx="221.6" cy="394.4" r="2.15" fill="#32cd32"/><circle cx="226.4" cy="396.8" r="2.15" fill="#32cd32"/><circle cx="204.7" cy="393.7" r="2.15" fill="#32cd32"/><circle cx="207.8" cy="398.4" r="2.15" fill="#32cd32"/><path fill="#0000ff" d="M173.2 390.6l2.5 3.1l-2.5 3.1l-2.5 -3.1z"/><circle cx="169.2" cy="396.5" r="2.15" fill="#32cd32"/><circle cx="213.3" cy="410.8" r="2.15" fill="#0000ff"/><circle cx="226.4" cy="409.9" r="2.15" fill="#32cd32"/><circle cx="229.3" cy="415.9" r="2.15" fill="#32cd32"/><path fill="#32cd32" d="M228.8 416.8l2.5 3.1l-2.5 3.1l-2.5 -3.1z"/><path fill="#32cd32" d="M191.1 413.2l2.5 3.1l-2.5 3.1l-2.5 -3.1z"/><circle cx="163.7" cy="416.3" r="2.15" fill="#32cd32"/><path fill="#32cd32" d="M145.8 417.3l2.5 3.1l-2.5 3.1l-2.5 -3.1z"/><path fill="#32cd32" d="M210.7 433.5l2.5 3.1l-2.5 3.1l-2.5 -3.1z"/><circle cx="213.3" cy="440.7" r="2.15" fill="#32cd32"/><path fill="#32cd32" d="M191.1 440.7l2.5 3.1l-2.5 3.1l-2.5 -3.1z"/><path fill="#32cd32" d="M151.7 460.2l2.5 3.1l-2.5 3.1l-2.5 -3.1z"/><path fill="#32cd32" d="M155.3 463.3l2.5 3.1l-2.5 3.1l-2.5 -3.1z"/><circle cx="247.0" cy="321.0" r="2.15" fill="#0000ff"/><circle cx="269.0" cy="319.5" r="2.15" fill="#0000ff"/><circle cx="242.0" cy="337.0" r="2.15" fill="#0000ff"/><path fill="#0000ff" d="M250.7 345.9l2.5 3.1l-2.5 3.1l-2.5 -3.1z"/><circle cx="277.0" cy="345.6" r="2.15" fill="#0000ff"/><circle cx="262.0" cy="370.0" r="2.15" fill="#0000ff"/><path fill="#32cd32" d="M250.7 365.9l2.5 3.1l-2.5 3.1l-2.5 -3.1z"/><circle cx="269.0" cy="366.0" r="2.15" fill="#32cd32"/><circle cx="277.0" cy="373.5" r="2.15" fill="#32cd32"/><circle cx="247.0" cy="382.0" r="2.15" fill="#32cd32"/><circle cx="262.0" cy="389.0" r="2.15" fill="#32cd32"/><circle cx="242.0" cy="391.6" r="2.15" fill="#32cd32"/><path fill="#32cd32" d="M248.0 391.9l2.5 3.1l-2.5 3.1l-2.5 -3.1z"/><path fill="#0000ff" d="M236.8 295.5l2.5 3.1l-2.5 3.1l-2.5 -3.1z"/><circle cx="239.0" cy="301.0" r="2.15" fill="#0000ff"/><circle cx="248.0" cy="301.0" r="2.15" fill="#0000ff"/><circle cx="233.0" cy="312.0" r="2.15" fill="#0000ff"/><circle cx="247.0" cy="318.0" r="2.15" fill="#0000ff"/></g>
<g><rect x="119.40" y="107.35" width="18.27" height="11.55" fill="#405cdc"/><rect x="119.40" y="118.37" width="18.27" height="0.53" fill="#7844c4"/><rect x="137.27" y="61.71" width="18.27" height="57.19" fill="#405cdc"/><rect x="137.27" y="116.23" width="18.27" height="2.67" fill="#7844c4"/><rect x="155.14" y="61.71" width="18.27" height="57.19" fill="#405cdc"/><rect x="155.14" y="111.52" width="18.27" height="7.38" fill="#7844c4"/><rect x="173.01" y="44.07" width="18.27" height="74.83" fill="#405cdc"/><rect x="173.01" y="103.83" width="18.27" height="15.07" fill="#7844c4"/><rect x="190.88" y="15.74" width="18.27" height="103.16" fill="#405cdc"/><rect x="190.88" y="90.89" width="18.27" height="28.01" fill="#7844c4"/><rect x="208.75" y="38.51" width="18.27" height="80.39" fill="#405cdc"/><rect x="208.75" y="72.93" width="18.27" height="45.97" fill="#7844c4"/><rect x="226.62" y="52.52" width="18.27" height="66.38" fill="#ffb4d9"/><rect x="226.62" y="72.93" width="18.27" height="45.97" fill="#7844c4"/><rect x="244.49" y="37.66" width="18.27" height="81.24" fill="#ffb4d9"/><rect x="244.49" y="95.81" width="18.27" height="23.09" fill="#7844c4"/><rect x="262.36" y="36.05" width="18.27" height="82.85" fill="#ffb4d9"/><rect x="262.36" y="107.57" width="18.27" height="11.33" fill="#7844c4"/><rect x="280.23" y="51.55" width="18.27" height="67.35" fill="#ffb4d9"/><rect x="298.10" y="77.21" width="18.27" height="41.69" fill="#ffb4d9"/><rect x="315.97" y="101.48" width="18.27" height="17.42" fill="#ffb4d9"/><rect x="333.84" y="113.88" width="18.27" height="5.02" fill="#ffb4d9"/><rect x="351.71" y="117.40" width="18.27" height="1.50" fill="#ffb4d9"/></g>
<g><rect x="432.20" y="142.70" width="0.58" height="19.80" fill="#ffb4d9"/><rect x="432.20" y="162.10" width="0.85" height="19.80" fill="#ffb4d9"/><rect x="432.20" y="181.50" width="1.68" height="19.80" fill="#ffb4d9"/><rect x="432.20" y="200.90" width="5.27" height="19.80" fill="#ffb4d9"/><rect x="432.20" y="220.30" width="11.75" height="19.80" fill="#ffb4d9"/><rect x="432.20" y="239.70" width="25.14" height="19.80" fill="#ffb4d9"/><rect x="432.20" y="259.10" width="45.84" height="19.80" fill="#ffb4d9"/><rect x="432.20" y="278.50" width="7.61" height="19.80" fill="#8237de"/><rect x="439.51" y="278.50" width="53.71" height="19.80" fill="#ffb4d9"/><rect x="432.20" y="297.90" width="47.91" height="19.80" fill="#8237de"/><rect x="479.81" y="297.90" width="11.69" height="19.80" fill="#ffb4d9"/><rect x="432.20" y="317.30" width="26.52" height="19.80" fill="#6e32cd"/><rect x="458.42" y="317.30" width="18.93" height="19.80" fill="#8237de"/><rect x="477.05" y="317.30" width="25.83" height="19.80" fill="#4d4dff"/><rect x="432.20" y="336.70" width="26.52" height="19.80" fill="#6e32cd"/><rect x="458.42" y="336.70" width="41.70" height="19.80" fill="#3044e1"/><rect x="499.82" y="336.70" width="44.46" height="19.80" fill="#4d4dff"/><rect x="432.20" y="356.10" width="12.72" height="19.80" fill="#6e32cd"/><rect x="444.62" y="356.10" width="28.38" height="19.80" fill="#3044e1"/><rect x="472.70" y="356.10" width="42.32" height="19.80" fill="#98e698"/><rect x="432.20" y="375.50" width="4.72" height="19.80" fill="#6e32cd"/><rect x="436.62" y="375.50" width="14.38" height="19.80" fill="#3044e1"/><rect x="450.69" y="375.50" width="38.39" height="19.80" fill="#98e698"/><rect x="432.20" y="394.90" width="1.68" height="19.80" fill="#6e32cd"/><rect x="433.58" y="394.90" width="2.37" height="19.80" fill="#3044e1"/><rect x="435.65" y="394.90" width="15.34" height="19.80" fill="#98e698"/><rect x="432.20" y="414.30" width="18.79" height="19.80" fill="#98e698"/><rect x="432.20" y="433.70" width="11.13" height="19.80" fill="#98e698"/><rect x="432.20" y="453.10" width="11.13" height="19.80" fill="#98e698"/></g>
<g><line x1="51.60" y1="499.50" x2="51.60" y2="492.70" stroke="#000" stroke-width="0.90"/><line x1="51.60" y1="118.90" x2="51.60" y2="125.70" stroke="#000" stroke-width="0.90"/><line x1="67.11" y1="499.50" x2="67.11" y2="495.70" stroke="#000" stroke-width="0.90"/><line x1="67.11" y1="118.90" x2="67.11" y2="122.70" stroke="#000" stroke-width="0.90"/><line x1="82.62" y1="499.50" x2="82.62" y2="495.70" stroke="#000" stroke-width="0.90"/><line x1="82.62" y1="118.90" x2="82.62" y2="122.70" stroke="#000" stroke-width="0.90"/><line x1="98.13" y1="499.50" x2="98.13" y2="495.70" stroke="#000" stroke-width="0.90"/><line x1="98.13" y1="118.90" x2="98.13" y2="122.70" stroke="#000" stroke-width="0.90"/><line x1="113.64" y1="499.50" x2="113.64" y2="495.70" stroke="#000" stroke-width="0.90"/><line x1="113.64" y1="118.90" x2="113.64" y2="122.70" stroke="#000" stroke-width="0.90"/><line x1="129.15" y1="499.50" x2="129.15" y2="492.70" stroke="#000" stroke-width="0.90"/><line x1="129.15" y1="118.90" x2="129.15" y2="125.70" stroke="#000" stroke-width="0.90"/><line x1="144.66" y1="499.50" x2="144.66" y2="495.70" stroke="#000" stroke-width="0.90"/><line x1="144.66" y1="118.90" x2="144.66" y2="122.70" stroke="#000" stroke-width="0.90"/><line x1="160.17" y1="499.50" x2="160.17" y2="495.70" stroke="#000" stroke-width="0.90"/><line x1="160.17" y1="118.90" x2="160.17" y2="122.70" stroke="#000" stroke-width="0.90"/><line x1="175.68" y1="499.50" x2="175.68" y2="495.70" stroke="#000" stroke-width="0.90"/><line x1="175.68" y1="118.90" x2="175.68" y2="122.70" stroke="#000" stroke-width="0.90"/><line x1="191.19" y1="499.50" x2="191.19" y2="495.70" stroke="#000" stroke-width="0.90"/><line x1="191.19" y1="118.90" x2="191.19" y2="122.70" stroke="#000" stroke-width="0.90"/><line x1="206.70" y1="499.50" x2="206.70" y2="492.70" stroke="#000" stroke-width="0.90"/><line x1="206.70" y1="118.90" x2="206.70" y2="125.70" stroke="#000" stroke-width="0.90"/><line x1="222.21" y1="499.50" x2="222.21" y2="495.70" stroke="#000" stroke-width="0.90"/><line x1="222.21" y1="118.90" x2="222.21" y2="122.70" stroke="#000" stroke-width="0.90"/><line x1="237.72" y1="499.50" x2="237.72" y2="495.70" stroke="#000" stroke-width="0.90"/><line x1="237.72" y1="118.90" x2="237.72" y2="122.70" stroke="#000" stroke-width="0.90"/><line x1="253.23" y1="499.50" x2="253.23" y2="495.70" stroke="#000" stroke-width="0.90"/><line x1="253.23" y1="118.90" x2="253.23" y2="122.70" stroke="#000" stroke-width="0.90"/><line x1="268.74" y1="499.50" x2="268.74" y2="495.70" stroke="#000" stroke-width="0.90"/><line x1="268.74" y1="118.90" x2="268.74" y2="122.70" stroke="#000" stroke-width="0.90"/><line x1="284.25" y1="499.50" x2="284.25" y2="492.70" stroke="#000" stroke-width="0.90"/><line x1="284.25" y1="118.90" x2="284.25" y2="125.70" stroke="#000" stroke-width="0.90"/><line x1="299.76" y1="499.50" x2="299.76" y2="495.70" stroke="#000" stroke-width="0.90"/><line x1="299.76" y1="118.90" x2="299.76" y2="122.70" stroke="#000" stroke-width="0.90"/><line x1="315.27" y1="499.50" x2="315.27" y2="495.70" stroke="#000" stroke-width="0.90"/><line x1="315.27" y1="118.90" x2="315.27" y2="122.70" stroke="#000" stroke-width="0.90"/><line x1="330.78" y1="499.50" x2="330.78" y2="495.70" stroke="#000" stroke-width="0.90"/><line x1="330.78" y1="118.90" x2="330.78" y2="122.70" stroke="#000" stroke-width="0.90"/><line x1="346.29" y1="499.50" x2="346.29" y2="495.70" stroke="#000" stroke-width="0.90"/><line x1="346.29" y1="118.90" x2="346.29" y2="122.70" stroke="#000" stroke-width="0.90"/><line x1="361.80" y1="499.50" x2="361.80" y2="492.70" stroke="#000" stroke-width="0.90"/><line x1="361.80" y1="118.90" x2="361.80" y2="125.70" stroke="#000" stroke-width="0.90"/><line x1="377.31" y1="499.50" x2="377.31" y2="495.70" stroke="#000" stroke-width="0.90"/><line x1="377.31" y1="118.90" x2="377.31" y2="122.70" stroke="#000" stroke-width="0.90"/><line x1="392.82" y1="499.50" x2="392.82" y2="495.70" stroke="#000" stroke-width="0.90"/><line x1="392.82" y1="118.90" x2="392.82" y2="122.70" stroke="#000" stroke-width="0.90"/><line x1="408.33" y1="499.50" x2="408.33" y2="495.70" stroke="#000" stroke-width="0.90"/><line x1="408.33" y1="118.90" x2="408.33" y2="122.70" stroke="#000" stroke-width="0.90"/><line x1="423.84" y1="499.50" x2="423.84" y2="495.70" stroke="#000" stroke-width="0.90"/><line x1="423.84" y1="118.90" x2="423.84" y2="122.70" stroke="#000" stroke-width="0.90"/><line x1="51.60" y1="491.24" x2="55.40" y2="491.24" stroke="#000" stroke-width="0.90"/><line x1="432.20" y1="491.24" x2="428.40" y2="491.24" stroke="#000" stroke-width="0.90"/><line x1="51.60" y1="474.30" x2="58.40" y2="474.30" stroke="#000" stroke-width="0.90"/><line x1="432.20" y1="474.30" x2="425.40" y2="474.30" stroke="#000" stroke-width="0.90"/><line x1="51.60" y1="457.36" x2="55.40" y2="457.36" stroke="#000" stroke-width="0.90"/><line x1="432.20" y1="457.36" x2="428.40" y2="457.36" stroke="#000" stroke-width="0.90"/><line x1="51.60" y1="440.42" x2="55.40" y2="440.42" stroke="#000" stroke-width="0.90"/><line x1="432.20" y1="440.42" x2="428.40" y2="440.42" stroke="#000" stroke-width="0.90"/><line x1="51.60" y1="423.48" x2="55.40" y2="423.48" stroke="#000" stroke-width="0.90"/><line x1="432.20" y1="423.48" x2="428.40" y2="423.48" stroke="#000" stroke-width="0.90"/><line x1="51.60" y1="406.54" x2="55.40" y2="406.54" stroke="#000" stroke-width="0.90"/><line x1="432.20" y1="406.54" x2="428.40" y2="406.54" stroke="#000" stroke-width="0.90"/><line x1="51.60" y1="389.60" x2="58.40" y2="389.60" stroke="#000" stroke-width="0.90"/><line x1="432.20" y1="389.60" x2="425.40" y2="389.60" stroke="#000" stroke-width="0.90"/><line x1="51.60" y1="372.66" x2="55.40" y2="372.66" stroke="#000" stroke-width="0.90"/><line x1="432.20" y1="372.66" x2="428.40" y2="372.66" stroke="#000" stroke-width="0.90"/><line x1="51.60" y1="355.72" x2="55.40" y2="355.72" stroke="#000" stroke-width="0.90"/><line x1="432.20" y1="355.72" x2="428.40" y2="355.72" stroke="#000" stroke-width="0.90"/><line x1="51.60" y1="338.78" x2="55.40" y2="338.78" stroke="#000" stroke-width="0.90"/><line x1="432.20" y1="338.78" x2="428.40" y2="338.78" stroke="#000" stroke-width="0.90"/><line x1="51.60" y1="321.84" x2="55.40" y2="321.84" stroke="#000" stroke-width="0.90"/><line x1="432.20" y1="321.84" x2="428.40" y2="321.84" stroke="#000" stroke-width="0.90"/><line x1="51.60" y1="304.90" x2="58.40" y2="304.90" stroke="#000" stroke-width="0.90"/><line x1="432.20" y1="304.90" x2="425.40" y2="304.90" stroke="#000" stroke-width="0.90"/><line x1="51.60" y1="287.96" x2="55.40" y2="287.96" stroke="#000" stroke-width="0.90"/><line x1="432.20" y1="287.96" x2="428.40" y2="287.96" stroke="#000" stroke-width="0.90"/><line x1="51.60" y1="271.02" x2="55.40" y2="271.02" stroke="#000" stroke-width="0.90"/><line x1="432.20" y1="271.02" x2="428.40" y2="271.02" stroke="#000" stroke-width="0.90"/><line x1="51.60" y1="254.08" x2="55.40" y2="254.08" stroke="#000" stroke-width="0.90"/><line x1="432.20" y1="254.08" x2="428.40" y2="254.08" stroke="#000" stroke-width="0.90"/><line x1="51.60" y1="237.14" x2="55.40" y2="237.14" stroke="#000" stroke-width="0.90"/><line x1="432.20" y1="237.14" x2="428.40" y2="237.14" stroke="#000" stroke-width="0.90"/><line x1="51.60" y1="220.20" x2="58.40" y2="220.20" stroke="#000" stroke-width="0.90"/><line x1="432.20" y1="220.20" x2="425.40" y2="220.20" stroke="#000" stroke-width="0.90"/><line x1="51.60" y1="203.26" x2="55.40" y2="203.26" stroke="#000" stroke-width="0.90"/><line x1="432.20" y1="203.26" x2="428.40" y2="203.26" stroke="#000" stroke-width="0.90"/><line x1="51.60" y1="186.32" x2="55.40" y2="186.32" stroke="#000" stroke-width="0.90"/><line x1="432.20" y1="186.32" x2="428.40" y2="186.32" stroke="#000" stroke-width="0.90"/><line x1="51.60" y1="169.38" x2="55.40" y2="169.38" stroke="#000" stroke-width="0.90"/><line x1="432.20" y1="169.38" x2="428.40" y2="169.38" stroke="#000" stroke-width="0.90"/><line x1="51.60" y1="152.44" x2="55.40" y2="152.44" stroke="#000" stroke-width="0.90"/><line x1="432.20" y1="152.44" x2="428.40" y2="152.44" stroke="#000" stroke-width="0.90"/><line x1="51.60" y1="135.50" x2="58.40" y2="135.50" stroke="#000" stroke-width="0.90"/><line x1="432.20" y1="135.50" x2="425.40" y2="135.50" stroke="#000" stroke-width="0.90"/><line x1="51.60" y1="118.56" x2="55.40" y2="118.56" stroke="#000" stroke-width="0.90"/><line x1="432.20" y1="118.56" x2="428.40" y2="118.56" stroke="#000" stroke-width="0.90"/><line x1="51.60" y1="12.00" x2="55.30" y2="12.00" stroke="#000" stroke-width="0.90"/><line x1="501.20" y1="499.50" x2="501.20" y2="495.80" stroke="#000" stroke-width="0.90"/><rect x="51.60" y="118.90" width="380.60" height="380.60" fill="none" stroke="#000" stroke-width="1.35"/><rect x="51.60" y="1.30" width="380.60" height="117.60" fill="none" stroke="#000" stroke-width="1.35"/><rect x="432.20" y="118.90" width="116.80" height="380.60" fill="none" stroke="#000" stroke-width="1.35"/></g>
<g><rect x="295.5" y="123.8" width="131.5" height="59.4" rx="2" ry="2" fill="#fff" fill-opacity="0.8" stroke="#ccc" stroke-width="0.8"/><circle cx="309.6" cy="132.00" r="1.7" fill="#32cd32"/><text x="328.1" y="135.10" font-size="9.6" textLength="85.5" lengthAdjust="spacingAndGlyphs">Low-state CL AGN</text><circle cx="309.6" cy="146.23" r="1.7" fill="#0000ff"/><text x="328.1" y="149.33" font-size="9.6" textLength="88.5" lengthAdjust="spacingAndGlyphs">High-state CL AGN</text><path fill="#32cd32" d="M309.6 157.86l2.3 2.6l-2.3 2.6l-2.3 -2.6z"/><text x="328.1" y="163.56" font-size="9.6" textLength="92" lengthAdjust="spacingAndGlyphs">Low-state Candidate</text><path fill="#0000ff" d="M309.6 172.09l2.3 2.6l-2.3 2.6l-2.3 -2.6z"/><text x="328.1" y="177.79" font-size="9.6" textLength="94.8" lengthAdjust="spacingAndGlyphs">High-state Candidate</text></g>
<g><text x="51.60" y="515.70" font-size="17.60" text-anchor="middle" >6</text><text x="129.15" y="515.70" font-size="17.60" text-anchor="middle" >7</text><text x="206.70" y="515.70" font-size="17.60" text-anchor="middle" >8</text><text x="284.25" y="515.70" font-size="17.60" text-anchor="middle" >9</text><text x="361.80" y="515.70" font-size="17.60" text-anchor="middle" >10</text><text x="47.30" y="141.50" font-size="17.60" text-anchor="end" >1</text><text x="47.30" y="226.20" font-size="17.60" text-anchor="end" >0</text><text x="47.3" y="310.90" font-size="17.60" text-anchor="end"><tspan font-size="23.5" dy="1.6">−</tspan><tspan dy="-1.6" dx="0.4">1</tspan></text><text x="47.3" y="395.60" font-size="17.60" text-anchor="end"><tspan font-size="23.5" dy="1.6">−</tspan><tspan dy="-1.6" dx="0.4">2</tspan></text><text x="47.3" y="480.30" font-size="17.60" text-anchor="end"><tspan font-size="23.5" dy="1.6">−</tspan><tspan dy="-1.6" dx="0.4">3</tspan></text><text x="47.30" y="18.00" font-size="17.60" text-anchor="end" >1</text><text x="47.30" y="124.60" font-size="17.60" text-anchor="end" >0</text><text x="432.20" y="515.70" font-size="17.60" text-anchor="middle" >0</text><text x="501.20" y="515.70" font-size="17.60" text-anchor="middle" >1</text><text x="568.90" y="502.90" font-size="10.4" letter-spacing="0.3">10<tspan dy="-4.2" font-size="7.4">0</tspan></text><text x="568.90" y="398.60" font-size="10.4" letter-spacing="0.3">10<tspan dy="-4.2" font-size="7.4">1</tspan></text><text x="568.90" y="294.30" font-size="10.4" letter-spacing="0.3">10<tspan dy="-4.2" font-size="7.4">2</tspan></text><text x="568.90" y="190.00" font-size="10.4" letter-spacing="0.3">10<tspan dy="-4.2" font-size="7.4">3</tspan></text><text transform="translate(593.3,309.3) rotate(-90)" font-size="10.6" text-anchor="middle" textLength="80" lengthAdjust="spacingAndGlyphs">Prbability density</text><text x="241.5" y="537.8" font-size="20.0" text-anchor="middle" textLength="110" lengthAdjust="spacingAndGlyphs"><tspan font-style="italic">logM</tspan><tspan dy="3.4" font-size="13.5">BH</tspan><tspan dy="-3.4">(</tspan><tspan font-style="italic">M</tspan><tspan dy="3.4" font-size="13.5">⊙</tspan><tspan dy="-3.4">)</tspan></text><text transform="translate(17.2,309.5) rotate(-90)" font-size="20.0" text-anchor="middle" textLength="106" lengthAdjust="spacingAndGlyphs"><tspan font-style="italic">logL</tspan><tspan dy="3.4" font-size="13.5">bol</tspan><tspan dy="-3.4">/</tspan><tspan font-style="italic">L</tspan><tspan dy="3.4" font-size="13.5">Edd</tspan></text></g>
</svg></body></html>
